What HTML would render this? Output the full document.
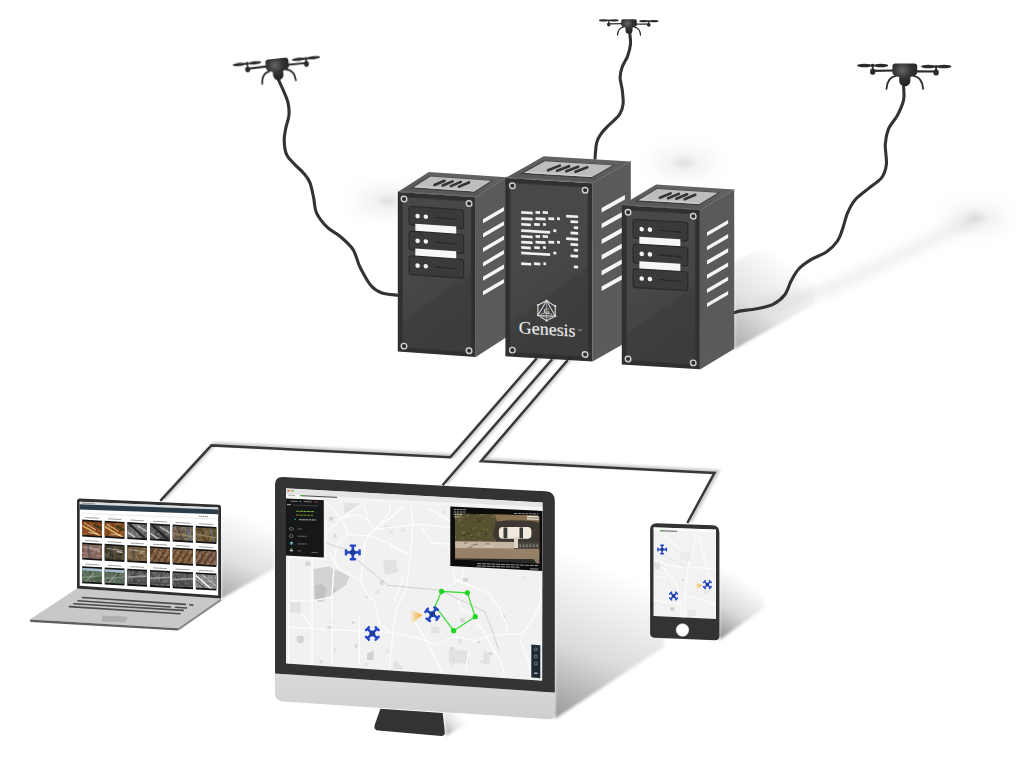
<!DOCTYPE html>
<html><head><meta charset="utf-8"><title>Genesis</title>
<style>
html,body{margin:0;padding:0;background:#fff;width:1024px;height:768px;overflow:hidden;font-family:"Liberation Sans",sans-serif;}
svg{display:block;}
</style></head><body>
<svg width="1024" height="768" viewBox="0 0 1024 768">
<defs>
 <linearGradient id="gTop" x1="0" y1="1" x2="0.3" y2="0"><stop offset="0" stop-color="#545454"/><stop offset="1" stop-color="#626262"/></linearGradient>
 <linearGradient id="gSide" x1="0" y1="0" x2="0" y2="1"><stop offset="0" stop-color="#5a5a5a"/><stop offset="1" stop-color="#5c5a5a"/></linearGradient>
 <linearGradient id="gFront" x1="0" y1="0" x2="1" y2="1"><stop offset="0" stop-color="#474747"/><stop offset="0.5" stop-color="#444"/><stop offset="0.5" stop-color="#404040"/><stop offset="1" stop-color="#3e3e3e"/></linearGradient>
 <radialGradient id="gDrone" cx="0.4" cy="0.3" r="0.7"><stop offset="0" stop-color="#666"/><stop offset="0.5" stop-color="#333"/><stop offset="1" stop-color="#222"/></radialGradient>
 <filter id="blur6" x="-50%" y="-50%" width="200%" height="200%"><feGaussianBlur stdDeviation="6"/></filter>
 <filter id="blur2" x="-50%" y="-50%" width="200%" height="200%"><feGaussianBlur stdDeviation="1.5"/></filter>
 <filter id="blur3" x="-50%" y="-50%" width="200%" height="200%"><feGaussianBlur stdDeviation="3"/></filter>
 <filter id="blur10" x="-50%" y="-50%" width="200%" height="200%"><feGaussianBlur stdDeviation="10"/></filter>

<symbol id="qicon" overflow="visible">
 <g fill="#2347c8">
  <rect x="-1.3" y="-6.5" width="2.6" height="13"/>
  <rect x="-6.5" y="-1.3" width="13" height="2.6"/>
  <rect x="-3.2" y="-8" width="6.4" height="2.4" rx="0.8"/>
  <rect x="-3.2" y="5.6" width="6.4" height="2.4" rx="0.8"/>
  <rect x="-8" y="-3.2" width="2.4" height="6.4" rx="0.8"/>
  <rect x="5.6" y="-3.2" width="2.4" height="6.4" rx="0.8"/>
  <circle r="2.8" fill="#1d3c9a"/>
 </g>
</symbol>
<symbol id="drone" overflow="visible">
 <g fill="#2b2b2b">
  <ellipse cx="-40.3" cy="2" rx="7.4" ry="1.75"/>
  <ellipse cx="-23.8" cy="2" rx="7.2" ry="1.75"/>
  <ellipse cx="23.5" cy="3.1" rx="7.2" ry="1.75"/>
  <ellipse cx="39.3" cy="3.1" rx="7.4" ry="1.75"/>
  <ellipse cx="-32.1" cy="2" rx="1.9" ry="1.6"/>
  <ellipse cx="31.3" cy="3.1" rx="1.9" ry="1.6"/>
  <rect x="-33" y="2" width="1.8" height="6"/>
  <rect x="30.4" y="3" width="1.8" height="6"/>
  <path d="M-32.5,6.4 L-11,6 L-11,8.2 L-32.5,8.6Z"/>
  <path d="M11,6.8 L31.5,7 L31.5,9 L11,9Z"/>
  <rect x="-34.7" y="5.4" width="5.2" height="6" rx="2.2"/>
  <rect x="28.7" y="6" width="5.2" height="6" rx="2.2"/>
  <path d="M-9,12.5 Q-17.5,14 -18.3,25.3" fill="none" stroke="#2b2b2b" stroke-width="1.9" stroke-linecap="round"/>
  <path d="M9,12.5 Q17.5,14 18.3,25.3" fill="none" stroke="#2b2b2b" stroke-width="1.9" stroke-linecap="round"/>
  <path d="M-12.4,3 Q-12.4,0 -9.4,0 L9.4,0 Q12.4,0 12.4,3 L12.4,8.5 C12.4,12 8,13 5.6,13.6 L5.6,17.5 A5.6,5.6 0 0 1 -5.6,17.5 L-5.6,13.6 C-8,13 -12.4,12 -12.4,8.5 Z" fill="url(#gDrone)"/>
 </g>
</symbol>
</defs>
<rect width="1024" height="768" fill="#fff"/>

<defs><linearGradient id="gSh" x1="0" y1="0" x2="1" y2="0"><stop offset="0" stop-color="#000" stop-opacity="0.22"/><stop offset="1" stop-color="#000" stop-opacity="0"/></linearGradient><linearGradient id="gShV" x1="0" y1="1" x2="0.6" y2="0"><stop offset="0" stop-color="#000" stop-opacity="0.25"/><stop offset="0.6" stop-color="#000" stop-opacity="0.06"/><stop offset="1" stop-color="#000" stop-opacity="0"/></linearGradient></defs>
<g filter="url(#blur10)">
<ellipse cx="386" cy="201" rx="30" ry="9" fill="#000" opacity="0.09"/>
<ellipse cx="684" cy="163" rx="30" ry="9" fill="#000" opacity="0.09"/>
<ellipse cx="976" cy="218" rx="30" ry="9" fill="#000" opacity="0.09"/>
</g>
<g filter="url(#blur3)">
<ellipse cx="388" cy="201" rx="9" ry="4" fill="#000" opacity="0.08"/>
<ellipse cx="684" cy="163" rx="9" ry="4" fill="#000" opacity="0.08"/>
<ellipse cx="976" cy="218" rx="9" ry="4" fill="#000" opacity="0.08"/>
</g>
<g filter="url(#blur6)" opacity="0.35">
<path d="M760,305 C800,300 830,290 860,275 C900,255 940,235 975,220" fill="none" stroke="#999" stroke-width="5"/>
</g>
<defs><linearGradient id="sg15" gradientUnits="userSpaceOnUse" x1="734" y1="345" x2="795" y2="265"><stop offset="0" stop-color="#000" stop-opacity="0.32"/><stop offset="0.45" stop-color="#000" stop-opacity="0.11"/><stop offset="1" stop-color="#000" stop-opacity="0"/></linearGradient></defs>
<polygon points="734.5,262 734.5,349 815,304 815,220" fill="url(#sg15)" filter="url(#blur2)"/>
<defs><linearGradient id="sg17" gradientUnits="userSpaceOnUse" x1="554" y1="717" x2="615" y2="570"><stop offset="0" stop-color="#000" stop-opacity="0.4"/><stop offset="0.45" stop-color="#000" stop-opacity="0.14"/><stop offset="1" stop-color="#000" stop-opacity="0"/></linearGradient></defs>
<polygon points="554.8,520 554.8,719 664,647 664,450" fill="url(#sg17)" filter="url(#blur2)"/>
<defs><linearGradient id="sg19" gradientUnits="userSpaceOnUse" x1="719" y1="637" x2="752" y2="585"><stop offset="0" stop-color="#000" stop-opacity="0.42"/><stop offset="0.45" stop-color="#000" stop-opacity="0.15"/><stop offset="1" stop-color="#000" stop-opacity="0"/></linearGradient></defs>
<polygon points="719.4,570 719.4,640 764,608 764,540" fill="url(#sg19)" filter="url(#blur2)"/>
<defs><linearGradient id="sg21" gradientUnits="userSpaceOnUse" x1="221" y1="598" x2="252" y2="518"><stop offset="0" stop-color="#000" stop-opacity="0.34"/><stop offset="0.45" stop-color="#000" stop-opacity="0.12"/><stop offset="1" stop-color="#000" stop-opacity="0"/></linearGradient></defs>
<polygon points="221,500 221,599 275,568 275,470" fill="url(#sg21)" filter="url(#blur2)"/>
<path d="M278.4,79.7 C279.23,81.52 281.78,86.7 283.4,90.6 C285.02,94.5 287.18,98.93 288.1,103.1 C289.02,107.27 289.28,111.43 288.9,115.6 C288.52,119.77 286.58,123.93 285.8,128.1 C285.02,132.27 284.07,136.17 284.2,140.6 C284.33,145.03 284.9,150.78 286.6,154.7 C288.3,158.62 291.53,160.98 294.4,164.1 C297.27,167.22 301.2,170.28 303.8,173.4 C306.4,176.52 308.35,178.67 310,182.8 C311.65,186.93 312.62,193.2 313.7,198.2 C314.78,203.2 314.22,207.93 316.5,212.8 C318.78,217.67 323.45,223.45 327.4,227.4 C331.35,231.35 335.95,232.85 340.2,236.5 C344.45,240.15 349.57,244.13 352.9,249.3 C356.23,254.47 357.17,261.43 360.2,267.5 C363.23,273.57 367.47,281.45 371.1,285.7 C374.73,289.95 377.58,291.42 382,293 C386.42,294.58 395,294.83 397.6,295.2" fill="none" stroke="#333" stroke-width="3.1" stroke-linecap="round" stroke-linejoin="round"/>
<path d="M629.8,33.5 C629.92,35.27 630.88,40.28 630.5,44.1 C630.12,47.92 628.88,52.6 627.5,56.4 C626.12,60.2 623.43,63.38 622.2,66.9 C620.97,70.42 620.1,73.68 620.1,77.5 C620.1,81.32 621.7,85.4 622.2,89.8 C622.7,94.2 623.53,99.8 623.1,103.9 C622.67,108 621.95,110.88 619.6,114.4 C617.25,117.92 612.08,121.77 609,125 C605.92,128.23 603.15,130.87 601.1,133.8 C599.05,136.73 597.72,138.5 596.7,142.6 C595.68,146.7 595.28,155.77 595,158.4" fill="none" stroke="#333" stroke-width="3.1" stroke-linecap="round" stroke-linejoin="round"/>
<path d="M903.6,86.6 C903.6,88.82 904.63,95.1 903.6,99.9 C902.57,104.7 899.9,110.6 897.4,115.4 C894.9,120.2 890.62,123.9 888.6,128.7 C886.58,133.5 885.67,138.3 885.3,144.2 C884.93,150.1 886.97,158.58 886.4,164.1 C885.83,169.62 884.85,173.25 881.9,177.3 C878.95,181.35 873.12,184.7 868.7,188.4 C864.28,192.1 858.9,195.45 855.4,199.5 C851.9,203.55 849.92,207.55 847.7,212.7 C845.48,217.85 843.82,225.67 842.1,230.4 C840.38,235.13 839.97,237.53 837.4,241.1 C834.83,244.67 831.17,248.67 826.7,251.8 C822.23,254.93 815.27,257.03 810.6,259.9 C805.93,262.77 801.93,265.52 798.7,269 C795.47,272.48 793.52,276.5 791.2,280.8 C788.88,285.1 787.83,290.87 784.8,294.8 C781.77,298.73 777.65,302.08 773,304.4 C768.35,306.72 762.28,307.62 756.9,308.7 C751.52,309.78 744.38,310.27 740.7,310.9 C737.02,311.53 735.78,312.23 734.8,312.5" fill="none" stroke="#333" stroke-width="3.1" stroke-linecap="round" stroke-linejoin="round"/>
<polygon points="397.8,191.9 475.7,197.3 506.7,177.3 428.8,171.9" fill="url(#gTop)"/>
<polygon points="475.7,197.3 506.7,177.3 506.8,337 475.8,357" fill="url(#gSide)"/>
<polyline points="475.7,197.3 506.7,177.3" fill="none" stroke="#6a6a6a" stroke-width="0.8"/>
<polyline points="398.3,191.3 475.7,196.7" fill="none" stroke="#6c6c6c" stroke-width="1"/>
<g transform="matrix(1,0.07,31,-20,397.8,191.9)">
<polygon points="6.23,0.2 70.11,0.2 70.11,0.82 6.23,0.82" fill="#3e3e3e"/>
<polygon points="7.79,0.26 68.55,0.26 68.55,0.8 7.79,0.8" fill="#bdbdbd"/>
<polygon points="7.79,0.26 68.55,0.26 66.99,0.31 9.35,0.31" fill="#d0d0d0"/>
<line x1="23.37" y1="0.43" x2="26.49" y2="0.65" stroke="#333" stroke-width="2.6" vector-effect="non-scaling-stroke" stroke-linecap="round"/>
<line x1="31.55" y1="0.43" x2="34.67" y2="0.65" stroke="#333" stroke-width="2.6" vector-effect="non-scaling-stroke" stroke-linecap="round"/>
<line x1="39.73" y1="0.43" x2="42.84" y2="0.65" stroke="#333" stroke-width="2.6" vector-effect="non-scaling-stroke" stroke-linecap="round"/>
<line x1="47.91" y1="0.43" x2="51.02" y2="0.65" stroke="#333" stroke-width="2.6" vector-effect="non-scaling-stroke" stroke-linecap="round"/>
</g>
<g transform="matrix(1,0.07,0,1,397.8,191.9)">
<rect x="0" y="0" width="77.9" height="159.7" fill="#303030"/>
<defs><linearGradient id="gFL" gradientUnits="userSpaceOnUse" x1="11.23" y1="73.06" x2="60.43" y2="136.14"><stop offset="0" stop-color="#484848"/><stop offset="0.5" stop-color="#444"/><stop offset="0.5" stop-color="#3f3f3f"/><stop offset="1" stop-color="#3c3c3c"/></linearGradient></defs>
<rect x="4.5" y="4.5" width="68.9" height="150.7" fill="url(#gFL)" stroke="#363636" stroke-width="0.8"/>
<circle cx="6.23" cy="6.71" r="2.75" fill="#2c2c2c" stroke="#cfcfcf" stroke-width="1.45"/>
<circle cx="71.28" cy="6.71" r="2.75" fill="#2c2c2c" stroke="#cfcfcf" stroke-width="1.45"/>
<circle cx="6.23" cy="153.79" r="2.75" fill="#2c2c2c" stroke="#cfcfcf" stroke-width="1.45"/>
<circle cx="71.28" cy="153.79" r="2.75" fill="#2c2c2c" stroke="#cfcfcf" stroke-width="1.45"/>
<rect x="11.3" y="13.41" width="54.53" height="18.84" rx="2.5" fill="#3a3a3a" stroke="#2a2a2a" stroke-width="1.2"/>
<circle cx="19.86" cy="22.84" r="2.3" fill="#f2f2f2"/>
<circle cx="28.04" cy="22.84" r="2.3" fill="#f2f2f2"/>
<line x1="37.39" y1="22.84" x2="59.59" y2="23.44" stroke="#262626" stroke-width="1.1"/>
<rect x="17.53" y="30.5" width="40.9" height="8.3" fill="#f6f6f6"/>
<rect x="11.3" y="38.17" width="54.53" height="18.84" rx="2.5" fill="#3a3a3a" stroke="#2a2a2a" stroke-width="1.2"/>
<circle cx="19.86" cy="47.59" r="2.3" fill="#f2f2f2"/>
<circle cx="28.04" cy="47.59" r="2.3" fill="#f2f2f2"/>
<line x1="37.39" y1="47.59" x2="59.59" y2="48.19" stroke="#262626" stroke-width="1.1"/>
<rect x="17.53" y="55.26" width="40.9" height="8.3" fill="#f6f6f6"/>
<rect x="11.3" y="62.92" width="54.53" height="18.84" rx="2.5" fill="#3a3a3a" stroke="#2a2a2a" stroke-width="1.2"/>
<circle cx="19.86" cy="72.34" r="2.3" fill="#f2f2f2"/>
<circle cx="28.04" cy="72.34" r="2.3" fill="#f2f2f2"/>
<line x1="37.39" y1="72.34" x2="59.59" y2="72.94" stroke="#262626" stroke-width="1.1"/>
</g>
<polygon points="483,219.2 503.95,206.9 503.95,210.9 483,223.2" fill="#f6f6f6"/>
<polygon points="483,233.6 503.95,221.3 503.95,225.3 483,237.6" fill="#f6f6f6"/>
<polygon points="483,248 503.95,235.7 503.95,239.7 483,252" fill="#f6f6f6"/>
<polygon points="483,262.4 503.95,250.1 503.95,254.1 483,266.4" fill="#f6f6f6"/>
<polygon points="483,276.8 503.95,264.5 503.95,268.5 483,280.8" fill="#f6f6f6"/>
<polygon points="483,291.2 503.95,278.9 503.95,282.9 483,295.2" fill="#f6f6f6"/>
<polygon points="505.4,177.9 592.5,183 630.8,161.4 543.7,156.3" fill="url(#gTop)"/>
<polygon points="592.5,183 630.8,161.4 630.9,339.8 592.6,361.4" fill="url(#gSide)"/>
<polyline points="592.5,183 630.8,161.4" fill="none" stroke="#6a6a6a" stroke-width="0.8"/>
<polyline points="505.9,177.3 592.5,182.4" fill="none" stroke="#6c6c6c" stroke-width="1"/>
<g transform="matrix(1,0.06,38.3,-21.6,505.4,177.9)">
<polygon points="6.97,0.2 78.39,0.2 78.39,0.82 6.97,0.82" fill="#3e3e3e"/>
<polygon points="8.71,0.26 76.65,0.26 76.65,0.8 8.71,0.8" fill="#bdbdbd"/>
<polygon points="8.71,0.26 76.65,0.26 74.91,0.31 10.45,0.31" fill="#d0d0d0"/>
<line x1="26.13" y1="0.43" x2="29.61" y2="0.65" stroke="#333" stroke-width="2.6" vector-effect="non-scaling-stroke" stroke-linecap="round"/>
<line x1="35.28" y1="0.43" x2="38.76" y2="0.65" stroke="#333" stroke-width="2.6" vector-effect="non-scaling-stroke" stroke-linecap="round"/>
<line x1="44.42" y1="0.43" x2="47.91" y2="0.65" stroke="#333" stroke-width="2.6" vector-effect="non-scaling-stroke" stroke-linecap="round"/>
<line x1="53.57" y1="0.43" x2="57.05" y2="0.65" stroke="#333" stroke-width="2.6" vector-effect="non-scaling-stroke" stroke-linecap="round"/>
</g>
<g transform="matrix(1,0.06,0,1,505.4,177.9)">
<rect x="0" y="0" width="87.1" height="178.4" fill="#303030"/>
<defs><linearGradient id="gFC" gradientUnits="userSpaceOnUse" x1="15.48" y1="85.3" x2="64.65" y2="148.4"><stop offset="0" stop-color="#484848"/><stop offset="0.5" stop-color="#444"/><stop offset="0.5" stop-color="#3f3f3f"/><stop offset="1" stop-color="#3c3c3c"/></linearGradient></defs>
<rect x="4.5" y="4.5" width="78.1" height="169.4" fill="url(#gFC)" stroke="#363636" stroke-width="0.8"/>
<circle cx="6.97" cy="7.49" r="2.75" fill="#2c2c2c" stroke="#cfcfcf" stroke-width="1.45"/>
<circle cx="79.7" cy="7.49" r="2.75" fill="#2c2c2c" stroke="#cfcfcf" stroke-width="1.45"/>
<circle cx="6.97" cy="171.8" r="2.75" fill="#2c2c2c" stroke="#cfcfcf" stroke-width="1.45"/>
<circle cx="79.7" cy="171.8" r="2.75" fill="#2c2c2c" stroke="#cfcfcf" stroke-width="1.45"/>
<rect x="15.8" y="32.17" width="11.5" height="2.7" fill="#f0f0f0"/>
<rect x="30.1" y="31.34" width="4.6" height="2.7" fill="#f0f0f0"/>
<rect x="37.3" y="30.92" width="5.3" height="2.7" fill="#f0f0f0"/>
<rect x="15.8" y="38.37" width="11.5" height="2.7" fill="#f0f0f0"/>
<rect x="30.1" y="37.54" width="10.1" height="2.7" fill="#f0f0f0"/>
<rect x="43" y="36.78" width="5.8" height="2.7" fill="#f0f0f0"/>
<rect x="51.6" y="36.28" width="2.9" height="2.7" fill="#f0f0f0"/>
<rect x="15.8" y="44.07" width="9.6" height="2.7" fill="#f0f0f0"/>
<rect x="28.7" y="43.32" width="5.7" height="2.7" fill="#f0f0f0"/>
<rect x="37.6" y="42.8" width="2.9" height="2.7" fill="#f0f0f0"/>
<rect x="15.8" y="50.37" width="28.9" height="2.7" fill="#f0f0f0"/>
<rect x="47.9" y="48.5" width="3" height="2.7" fill="#f0f0f0"/>
<rect x="15.8" y="56.17" width="11.5" height="2.7" fill="#f0f0f0"/>
<rect x="30.1" y="55.34" width="4.6" height="2.7" fill="#f0f0f0"/>
<rect x="37.3" y="54.92" width="5.3" height="2.7" fill="#f0f0f0"/>
<rect x="15.8" y="61.87" width="11.5" height="2.7" fill="#f0f0f0"/>
<rect x="30.1" y="61.04" width="10.1" height="2.7" fill="#f0f0f0"/>
<rect x="43" y="60.28" width="5.8" height="2.7" fill="#f0f0f0"/>
<rect x="51.6" y="59.78" width="2.9" height="2.7" fill="#f0f0f0"/>
<rect x="15.8" y="67.27" width="9.6" height="2.7" fill="#f0f0f0"/>
<rect x="28.7" y="66.52" width="5.7" height="2.7" fill="#f0f0f0"/>
<rect x="37.6" y="66" width="2.9" height="2.7" fill="#f0f0f0"/>
<rect x="15.8" y="72.77" width="28.9" height="2.7" fill="#f0f0f0"/>
<rect x="47.9" y="70.9" width="3" height="2.7" fill="#f0f0f0"/>
<rect x="15.8" y="83.47" width="10" height="2.7" fill="#f0f0f0"/>
<rect x="28.6" y="82.73" width="6.3" height="2.7" fill="#f0f0f0"/>
<rect x="38" y="82.17" width="2.7" height="2.7" fill="#f0f0f0"/>
<rect x="60.8" y="33.14" width="11.9" height="2.7" fill="#f0f0f0"/>
<rect x="65.1" y="38.39" width="7.6" height="2.7" fill="#f0f0f0"/>
<rect x="68.4" y="44.19" width="4.3" height="2.7" fill="#f0f0f0"/>
<rect x="65.1" y="49.79" width="7.6" height="2.7" fill="#f0f0f0"/>
<rect x="60.8" y="55.74" width="11.9" height="2.7" fill="#f0f0f0"/>
<rect x="65.1" y="61.29" width="7.6" height="2.7" fill="#f0f0f0"/>
<rect x="68.4" y="66.79" width="4.3" height="2.7" fill="#f0f0f0"/>
<rect x="65.1" y="72.69" width="7.6" height="2.7" fill="#f0f0f0"/>
<rect x="68.4" y="83.59" width="4.3" height="2.7" fill="#f0f0f0"/>
<polygon points="41.2,120.3 49.86,125.3 49.86,135.3 41.2,140.3 32.54,135.3 32.54,125.3" fill="none" stroke="#d8d8d8" stroke-width="1.1"/>
<polygon points="41.2,120.3 49.86,135.3 32.54,135.3" fill="none" stroke="#d8d8d8" stroke-width="1"/>
<ellipse cx="41.2" cy="134.8" rx="6" ry="2" fill="none" stroke="#d8d8d8" stroke-width="0.7"/>
<polyline points="41.2,120.3 41.2,140.3" fill="none" stroke="#d8d8d8" stroke-width="0.6"/>
<circle cx="41.2" cy="120.3" r="1.1" fill="#d8d8d8"/>
<circle cx="49.86" cy="125.3" r="1.1" fill="#d8d8d8"/>
<circle cx="49.86" cy="135.3" r="1.1" fill="#d8d8d8"/>
<circle cx="41.2" cy="140.3" r="1.1" fill="#d8d8d8"/>
<circle cx="32.54" cy="135.3" r="1.1" fill="#d8d8d8"/>
<circle cx="32.54" cy="125.3" r="1.1" fill="#d8d8d8"/>
<text x="41.2" y="133.3" font-family="Liberation Serif" font-size="8" font-weight="bold" fill="#d8d8d8" text-anchor="middle">G</text>
<text x="13.4" y="154.6" font-family="Liberation Serif" font-size="17.6" fill="#ececec" stroke="#ececec" stroke-width="0.15" textLength="56.8" lengthAdjust="spacingAndGlyphs">Genesis</text>
<text x="72" y="149" font-family="Liberation Sans" font-size="3" fill="#cccccc">TM</text>
</g>
<polygon points="601.6,208 624.9,194.9 624.9,199.5 601.6,212.6" fill="#f6f6f6"/>
<polygon points="601.6,223.7 624.9,210.6 624.9,215.2 601.6,228.3" fill="#f6f6f6"/>
<polygon points="601.6,239.4 624.9,226.3 624.9,230.9 601.6,244" fill="#f6f6f6"/>
<polygon points="601.6,255.1 624.9,242 624.9,246.6 601.6,259.7" fill="#f6f6f6"/>
<polygon points="601.6,270.8 624.9,257.7 624.9,262.3 601.6,275.4" fill="#f6f6f6"/>
<polygon points="601.6,286.5 624.9,273.4 624.9,278 601.6,291.1" fill="#f6f6f6"/>
<polygon points="621.8,205.2 699.9,210.2 734.2,189.5 656.1,184.5" fill="url(#gTop)"/>
<polygon points="699.9,210.2 734.2,189.5 734.3,348.8 700,369.5" fill="url(#gSide)"/>
<polyline points="699.9,210.2 734.2,189.5" fill="none" stroke="#6a6a6a" stroke-width="0.8"/>
<polyline points="622.3,204.6 699.9,209.6" fill="none" stroke="#6c6c6c" stroke-width="1"/>
<g transform="matrix(1,0.06,34.3,-20.7,621.8,205.2)">
<polygon points="6.25,0.2 70.29,0.2 70.29,0.82 6.25,0.82" fill="#3e3e3e"/>
<polygon points="7.81,0.26 68.73,0.26 68.73,0.8 7.81,0.8" fill="#bdbdbd"/>
<polygon points="7.81,0.26 68.73,0.26 67.17,0.31 9.37,0.31" fill="#d0d0d0"/>
<line x1="23.43" y1="0.43" x2="26.55" y2="0.65" stroke="#333" stroke-width="2.6" vector-effect="non-scaling-stroke" stroke-linecap="round"/>
<line x1="31.63" y1="0.43" x2="34.75" y2="0.65" stroke="#333" stroke-width="2.6" vector-effect="non-scaling-stroke" stroke-linecap="round"/>
<line x1="39.83" y1="0.43" x2="42.96" y2="0.65" stroke="#333" stroke-width="2.6" vector-effect="non-scaling-stroke" stroke-linecap="round"/>
<line x1="48.03" y1="0.43" x2="51.16" y2="0.65" stroke="#333" stroke-width="2.6" vector-effect="non-scaling-stroke" stroke-linecap="round"/>
</g>
<g transform="matrix(1,0.06,0,1,621.8,205.2)">
<rect x="0" y="0" width="78.1" height="159.3" fill="#303030"/>
<defs><linearGradient id="gFR" gradientUnits="userSpaceOnUse" x1="11.4" y1="72.74" x2="60.45" y2="135.94"><stop offset="0" stop-color="#484848"/><stop offset="0.5" stop-color="#444"/><stop offset="0.5" stop-color="#3f3f3f"/><stop offset="1" stop-color="#3c3c3c"/></linearGradient></defs>
<rect x="4.5" y="4.5" width="69.1" height="150.3" fill="url(#gFR)" stroke="#363636" stroke-width="0.8"/>
<circle cx="6.25" cy="6.69" r="2.75" fill="#2c2c2c" stroke="#cfcfcf" stroke-width="1.45"/>
<circle cx="71.46" cy="6.69" r="2.75" fill="#2c2c2c" stroke="#cfcfcf" stroke-width="1.45"/>
<circle cx="6.25" cy="153.41" r="2.75" fill="#2c2c2c" stroke="#cfcfcf" stroke-width="1.45"/>
<circle cx="71.46" cy="153.41" r="2.75" fill="#2c2c2c" stroke="#cfcfcf" stroke-width="1.45"/>
<rect x="11.32" y="13.38" width="54.67" height="18.8" rx="2.5" fill="#3a3a3a" stroke="#2a2a2a" stroke-width="1.2"/>
<circle cx="19.92" cy="22.78" r="2.3" fill="#f2f2f2"/>
<circle cx="28.12" cy="22.78" r="2.3" fill="#f2f2f2"/>
<line x1="37.49" y1="22.78" x2="59.75" y2="23.38" stroke="#262626" stroke-width="1.1"/>
<rect x="17.57" y="30.43" width="41" height="8.28" fill="#f6f6f6"/>
<rect x="11.32" y="38.07" width="54.67" height="18.8" rx="2.5" fill="#3a3a3a" stroke="#2a2a2a" stroke-width="1.2"/>
<circle cx="19.92" cy="47.47" r="2.3" fill="#f2f2f2"/>
<circle cx="28.12" cy="47.47" r="2.3" fill="#f2f2f2"/>
<line x1="37.49" y1="47.47" x2="59.75" y2="48.07" stroke="#262626" stroke-width="1.1"/>
<rect x="17.57" y="55.12" width="41" height="8.28" fill="#f6f6f6"/>
<rect x="11.32" y="62.76" width="54.67" height="18.8" rx="2.5" fill="#3a3a3a" stroke="#2a2a2a" stroke-width="1.2"/>
<circle cx="19.92" cy="72.16" r="2.3" fill="#f2f2f2"/>
<circle cx="28.12" cy="72.16" r="2.3" fill="#f2f2f2"/>
<line x1="37.49" y1="72.16" x2="59.75" y2="72.76" stroke="#262626" stroke-width="1.1"/>
</g>
<polygon points="707,232.2 728.1,219.9 728.1,223.8 707,236.1" fill="#f6f6f6"/>
<polygon points="707,246.4 728.1,234.1 728.1,238 707,250.3" fill="#f6f6f6"/>
<polygon points="707,260.6 728.1,248.3 728.1,252.2 707,264.5" fill="#f6f6f6"/>
<polygon points="707,274.8 728.1,262.5 728.1,266.4 707,278.7" fill="#f6f6f6"/>
<polygon points="707,289 728.1,276.7 728.1,280.6 707,292.9" fill="#f6f6f6"/>
<polygon points="707,303.2 728.1,290.9 728.1,294.8 707,307.1" fill="#f6f6f6"/>
<polyline points="536.7,358.3 450.3,457.3 211.4,445.4 160.3,500.8" fill="none" stroke="#000" stroke-opacity="0.26" stroke-width="3.2" transform="translate(3,-1.4)" stroke-linejoin="miter" filter="url(#blur2)"/>
<polyline points="536.7,358.3 450.3,457.3 211.4,445.4 160.3,500.8" fill="none" stroke="#383838" stroke-width="2.5" stroke-linejoin="miter"/>
<polyline points="552.2,359.2 442.5,485.2" fill="none" stroke="#000" stroke-opacity="0.26" stroke-width="3.2" transform="translate(3,-1.4)" stroke-linejoin="miter" filter="url(#blur2)"/>
<polyline points="552.2,359.2 442.5,485.2" fill="none" stroke="#383838" stroke-width="2.5" stroke-linejoin="miter"/>
<polyline points="567.7,360.1 481,461.25 714.5,472.9 687.3,523" fill="none" stroke="#000" stroke-opacity="0.26" stroke-width="3.2" transform="translate(3,-1.4)" stroke-linejoin="miter" filter="url(#blur2)"/>
<polyline points="567.7,360.1 481,461.25 714.5,472.9 687.3,523" fill="none" stroke="#383838" stroke-width="2.5" stroke-linejoin="miter"/>
<polygon points="77,588.5 220.9,598.5 177.9,628.3 29.7,619.6" fill="#c8c8c8"/>
<polygon points="29.7,619.6 177.9,628.3 178.5,630.6 30.5,621.9" fill="#5e5e5e"/>
<polygon points="220.9,598.5 221.5,600.8 178.5,630.6 177.9,628.3" fill="#8a8a8a"/>
<line x1="82.3" y1="597.5" x2="185.4" y2="604.4" stroke="#4c4c4c" stroke-width="1.6" stroke-linecap="round"/>
<line x1="78" y1="600.7" x2="170.4" y2="607" stroke="#4c4c4c" stroke-width="1.6" stroke-linecap="round"/>
<line x1="73.7" y1="603.7" x2="183.3" y2="610.4" stroke="#4c4c4c" stroke-width="1.6" stroke-linecap="round"/>
<line x1="69.4" y1="606.6" x2="180" y2="613.8" stroke="#4c4c4c" stroke-width="1.6" stroke-linecap="round"/>
<line x1="175.5" y1="607.3" x2="186.5" y2="608" stroke="#4c4c4c" stroke-width="1.6" stroke-linecap="round"/>
<line x1="189.7" y1="604.8" x2="192.8" y2="605.1" stroke="#4c4c4c" stroke-width="1.6" stroke-linecap="round"/>
<polygon points="102.7,615.8 127.4,616.6 125.3,622.2 101.6,621.5" fill="#afafaf"/>
<path d="M77,501 Q77,498.4 79.6,498.5 L218.4,504.7 Q221,504.8 221,507.5 L221,598.5 L77,588.5 Z" fill="#2f2f2f"/>
<polygon points="79.7,501.7 218.2,507.4 218.2,595.4 79.7,585.8" fill="#ffffff"/>
<polygon points="79.7,501.7 218.2,507.4 218.2,509.6 79.7,504.2" fill="#d8dcde"/>
<polygon points="79.7,504.2 218.2,509.6 218.2,514.2 79.7,509.6" fill="#2b3b47"/>
<line x1="82" y1="513.2" x2="216" y2="518.9" stroke="#e4e4e4" stroke-width="0.8"/>
<line x1="199" y1="516.3" x2="208" y2="516.7" stroke="#666" stroke-width="0.8" stroke-dasharray="1.5,0.5"/>
<line x1="82" y1="503.2" x2="95" y2="503.8" stroke="#777" stroke-width="0.7"/>
<polygon points="82.2,519.6 102,520.68 102,537.68 82.2,536.6" fill="#141414"/>
<polygon points="82.2,521.3 102,522.38 102,535.88 82.2,534.8" fill="#8c4c26"/>
<line x1="85.2" y1="517.56" x2="99" y2="518.32" stroke="#777" stroke-width="0.7"/>
<defs><clipPath id="tc00"><polygon points="82.2,521.3 102,522.38 102,535.88 82.2,534.8"/></clipPath></defs>
<g clip-path="url(#tc00)">
<rect x="82.2" y="521.3" width="1.7" height="1.98" fill="#82421c"/>
<rect x="83.85" y="521.39" width="1.7" height="1.98" fill="#793913"/>
<rect x="85.5" y="521.48" width="1.7" height="1.98" fill="#93532d"/>
<rect x="87.15" y="521.57" width="1.7" height="1.98" fill="#75350f"/>
<rect x="88.8" y="521.66" width="1.7" height="1.98" fill="#8d4d27"/>
<rect x="90.45" y="521.75" width="1.7" height="1.98" fill="#85451f"/>
<rect x="92.1" y="521.84" width="1.7" height="1.98" fill="#75350f"/>
<rect x="93.75" y="521.93" width="1.7" height="1.98" fill="#8c4c26"/>
<rect x="95.4" y="522.02" width="1.7" height="1.98" fill="#73330d"/>
<rect x="97.05" y="522.11" width="1.7" height="1.98" fill="#884822"/>
<rect x="98.7" y="522.2" width="1.7" height="1.98" fill="#75350f"/>
<rect x="100.35" y="522.29" width="1.7" height="1.98" fill="#763610"/>
<rect x="82.2" y="523.23" width="1.7" height="1.98" fill="#884822"/>
<rect x="83.85" y="523.32" width="1.7" height="1.98" fill="#9c5c36"/>
<rect x="85.5" y="523.41" width="1.7" height="1.98" fill="#783812"/>
<rect x="87.15" y="523.5" width="1.7" height="1.98" fill="#7d3d17"/>
<rect x="88.8" y="523.59" width="1.7" height="1.98" fill="#92522c"/>
<rect x="90.45" y="523.68" width="1.7" height="1.98" fill="#a3633d"/>
<rect x="92.1" y="523.77" width="1.7" height="1.98" fill="#90502a"/>
<rect x="93.75" y="523.86" width="1.7" height="1.98" fill="#864620"/>
<rect x="95.4" y="523.95" width="1.7" height="1.98" fill="#a4643e"/>
<rect x="97.05" y="524.04" width="1.7" height="1.98" fill="#74340e"/>
<rect x="98.7" y="524.13" width="1.7" height="1.98" fill="#9e5e38"/>
<rect x="100.35" y="524.22" width="1.7" height="1.98" fill="#81411b"/>
<rect x="82.2" y="525.16" width="1.7" height="1.98" fill="#793913"/>
<rect x="83.85" y="525.25" width="1.7" height="1.98" fill="#783812"/>
<rect x="85.5" y="525.34" width="1.7" height="1.98" fill="#82421c"/>
<rect x="87.15" y="525.43" width="1.7" height="1.98" fill="#9c5c36"/>
<rect x="88.8" y="525.52" width="1.7" height="1.98" fill="#7b3b15"/>
<rect x="90.45" y="525.61" width="1.7" height="1.98" fill="#90502a"/>
<rect x="92.1" y="525.7" width="1.7" height="1.98" fill="#93532d"/>
<rect x="93.75" y="525.79" width="1.7" height="1.98" fill="#85451f"/>
<rect x="95.4" y="525.88" width="1.7" height="1.98" fill="#8e4e28"/>
<rect x="97.05" y="525.97" width="1.7" height="1.98" fill="#75350f"/>
<rect x="98.7" y="526.06" width="1.7" height="1.98" fill="#75350f"/>
<rect x="100.35" y="526.15" width="1.7" height="1.98" fill="#7c3c16"/>
<rect x="82.2" y="527.09" width="1.7" height="1.98" fill="#95552f"/>
<rect x="83.85" y="527.18" width="1.7" height="1.98" fill="#884822"/>
<rect x="85.5" y="527.27" width="1.7" height="1.98" fill="#82421c"/>
<rect x="87.15" y="527.36" width="1.7" height="1.98" fill="#90502a"/>
<rect x="88.8" y="527.45" width="1.7" height="1.98" fill="#894923"/>
<rect x="90.45" y="527.54" width="1.7" height="1.98" fill="#81411b"/>
<rect x="92.1" y="527.63" width="1.7" height="1.98" fill="#9b5b35"/>
<rect x="93.75" y="527.72" width="1.7" height="1.98" fill="#965630"/>
<rect x="95.4" y="527.81" width="1.7" height="1.98" fill="#7e3e18"/>
<rect x="97.05" y="527.9" width="1.7" height="1.98" fill="#8f4f29"/>
<rect x="98.7" y="527.99" width="1.7" height="1.98" fill="#8d4d27"/>
<rect x="100.35" y="528.08" width="1.7" height="1.98" fill="#9f5f39"/>
<rect x="82.2" y="529.01" width="1.7" height="1.98" fill="#975731"/>
<rect x="83.85" y="529.1" width="1.7" height="1.98" fill="#80401a"/>
<rect x="85.5" y="529.19" width="1.7" height="1.98" fill="#a4643e"/>
<rect x="87.15" y="529.28" width="1.7" height="1.98" fill="#783812"/>
<rect x="88.8" y="529.37" width="1.7" height="1.98" fill="#874721"/>
<rect x="90.45" y="529.46" width="1.7" height="1.98" fill="#995933"/>
<rect x="92.1" y="529.55" width="1.7" height="1.98" fill="#793913"/>
<rect x="93.75" y="529.64" width="1.7" height="1.98" fill="#8b4b25"/>
<rect x="95.4" y="529.74" width="1.7" height="1.98" fill="#74340e"/>
<rect x="97.05" y="529.83" width="1.7" height="1.98" fill="#94542e"/>
<rect x="98.7" y="529.92" width="1.7" height="1.98" fill="#995933"/>
<rect x="100.35" y="530.01" width="1.7" height="1.98" fill="#8f4f29"/>
<rect x="82.2" y="530.94" width="1.7" height="1.98" fill="#9f5f39"/>
<rect x="83.85" y="531.03" width="1.7" height="1.98" fill="#82421c"/>
<rect x="85.5" y="531.12" width="1.7" height="1.98" fill="#965630"/>
<rect x="87.15" y="531.21" width="1.7" height="1.98" fill="#90502a"/>
<rect x="88.8" y="531.3" width="1.7" height="1.98" fill="#90502a"/>
<rect x="90.45" y="531.39" width="1.7" height="1.98" fill="#894923"/>
<rect x="92.1" y="531.48" width="1.7" height="1.98" fill="#9d5d37"/>
<rect x="93.75" y="531.57" width="1.7" height="1.98" fill="#a3633d"/>
<rect x="95.4" y="531.66" width="1.7" height="1.98" fill="#8a4a24"/>
<rect x="97.05" y="531.75" width="1.7" height="1.98" fill="#94542e"/>
<rect x="98.7" y="531.84" width="1.7" height="1.98" fill="#75350f"/>
<rect x="100.35" y="531.93" width="1.7" height="1.98" fill="#965630"/>
<rect x="82.2" y="532.87" width="1.7" height="1.98" fill="#93532d"/>
<rect x="83.85" y="532.96" width="1.7" height="1.98" fill="#a5653f"/>
<rect x="85.5" y="533.05" width="1.7" height="1.98" fill="#9c5c36"/>
<rect x="87.15" y="533.14" width="1.7" height="1.98" fill="#80401a"/>
<rect x="88.8" y="533.23" width="1.7" height="1.98" fill="#864620"/>
<rect x="90.45" y="533.32" width="1.7" height="1.98" fill="#94542e"/>
<rect x="92.1" y="533.41" width="1.7" height="1.98" fill="#73330d"/>
<rect x="93.75" y="533.5" width="1.7" height="1.98" fill="#8a4a24"/>
<rect x="95.4" y="533.59" width="1.7" height="1.98" fill="#7a3a14"/>
<rect x="97.05" y="533.68" width="1.7" height="1.98" fill="#783812"/>
<rect x="98.7" y="533.77" width="1.7" height="1.98" fill="#75350f"/>
<rect x="100.35" y="533.86" width="1.7" height="1.98" fill="#995933"/>
<line x1="82.2" y1="525.35" x2="100.02" y2="535.77" stroke="#e8c870" stroke-width="1.6" opacity="0.85"/>
<line x1="84.18" y1="522.76" x2="96.06" y2="530.16" stroke="#f0e0b0" stroke-width="1" opacity="0.85"/>
<line x1="94.08" y1="524.65" x2="102" y2="529.13" stroke="#2a3a20" stroke-width="2.5" opacity="0.85"/>
<line x1="88.14" y1="532.42" x2="98.04" y2="534.31" stroke="#f4f0e0" stroke-width="0.8" opacity="0.85"/>
</g>
<polygon points="104.7,520.83 124.4,521.9 124.4,538.9 104.7,537.83" fill="#141414"/>
<polygon points="104.7,522.53 124.4,523.6 124.4,537.1 104.7,536.03" fill="#8e5229"/>
<line x1="107.7" y1="518.79" x2="121.4" y2="519.54" stroke="#777" stroke-width="0.7"/>
<defs><clipPath id="tc01"><polygon points="104.7,522.53 124.4,523.6 124.4,537.1 104.7,536.03"/></clipPath></defs>
<g clip-path="url(#tc01)">
<rect x="104.7" y="522.53" width="1.69" height="1.98" fill="#7a3e15"/>
<rect x="106.34" y="522.62" width="1.69" height="1.98" fill="#80441b"/>
<rect x="107.98" y="522.71" width="1.69" height="1.98" fill="#884c23"/>
<rect x="109.62" y="522.8" width="1.69" height="1.98" fill="#a1653c"/>
<rect x="111.27" y="522.89" width="1.69" height="1.98" fill="#783c13"/>
<rect x="112.91" y="522.98" width="1.69" height="1.98" fill="#8b4f26"/>
<rect x="114.55" y="523.07" width="1.69" height="1.98" fill="#90542b"/>
<rect x="116.19" y="523.16" width="1.69" height="1.98" fill="#a1653c"/>
<rect x="117.83" y="523.25" width="1.69" height="1.98" fill="#9e6239"/>
<rect x="119.48" y="523.34" width="1.69" height="1.98" fill="#a0643b"/>
<rect x="121.12" y="523.42" width="1.69" height="1.98" fill="#82461d"/>
<rect x="122.76" y="523.51" width="1.69" height="1.98" fill="#894d24"/>
<rect x="104.7" y="524.46" width="1.69" height="1.98" fill="#864a21"/>
<rect x="106.34" y="524.55" width="1.69" height="1.98" fill="#a1653c"/>
<rect x="107.98" y="524.64" width="1.69" height="1.98" fill="#a56940"/>
<rect x="109.62" y="524.73" width="1.69" height="1.98" fill="#7b3f16"/>
<rect x="111.27" y="524.82" width="1.69" height="1.98" fill="#7d4118"/>
<rect x="112.91" y="524.91" width="1.69" height="1.98" fill="#80441b"/>
<rect x="114.55" y="524.99" width="1.69" height="1.98" fill="#80441b"/>
<rect x="116.19" y="525.08" width="1.69" height="1.98" fill="#8d5128"/>
<rect x="117.83" y="525.17" width="1.69" height="1.98" fill="#92562d"/>
<rect x="119.48" y="525.26" width="1.69" height="1.98" fill="#81451c"/>
<rect x="121.12" y="525.35" width="1.69" height="1.98" fill="#74380f"/>
<rect x="122.76" y="525.44" width="1.69" height="1.98" fill="#894d24"/>
<rect x="104.7" y="526.39" width="1.69" height="1.98" fill="#874b22"/>
<rect x="106.34" y="526.48" width="1.69" height="1.98" fill="#91552c"/>
<rect x="107.98" y="526.56" width="1.69" height="1.98" fill="#a56940"/>
<rect x="109.62" y="526.65" width="1.69" height="1.98" fill="#975b32"/>
<rect x="111.27" y="526.74" width="1.69" height="1.98" fill="#8e5229"/>
<rect x="112.91" y="526.83" width="1.69" height="1.98" fill="#94582f"/>
<rect x="114.55" y="526.92" width="1.69" height="1.98" fill="#975b32"/>
<rect x="116.19" y="527.01" width="1.69" height="1.98" fill="#763a11"/>
<rect x="117.83" y="527.1" width="1.69" height="1.98" fill="#a2663d"/>
<rect x="119.48" y="527.19" width="1.69" height="1.98" fill="#9c6037"/>
<rect x="121.12" y="527.28" width="1.69" height="1.98" fill="#a1653c"/>
<rect x="122.76" y="527.37" width="1.69" height="1.98" fill="#9d6138"/>
<rect x="104.7" y="528.31" width="1.69" height="1.98" fill="#884c23"/>
<rect x="106.34" y="528.4" width="1.69" height="1.98" fill="#884c23"/>
<rect x="107.98" y="528.49" width="1.69" height="1.98" fill="#793d14"/>
<rect x="109.62" y="528.58" width="1.69" height="1.98" fill="#94582f"/>
<rect x="111.27" y="528.67" width="1.69" height="1.98" fill="#773b12"/>
<rect x="112.91" y="528.76" width="1.69" height="1.98" fill="#773b12"/>
<rect x="114.55" y="528.85" width="1.69" height="1.98" fill="#7e4219"/>
<rect x="116.19" y="528.94" width="1.69" height="1.98" fill="#7c4017"/>
<rect x="117.83" y="529.03" width="1.69" height="1.98" fill="#854920"/>
<rect x="119.48" y="529.12" width="1.69" height="1.98" fill="#763a11"/>
<rect x="121.12" y="529.21" width="1.69" height="1.98" fill="#74380f"/>
<rect x="122.76" y="529.3" width="1.69" height="1.98" fill="#7b3f16"/>
<rect x="104.7" y="530.24" width="1.69" height="1.98" fill="#793d14"/>
<rect x="106.34" y="530.33" width="1.69" height="1.98" fill="#864a21"/>
<rect x="107.98" y="530.42" width="1.69" height="1.98" fill="#753910"/>
<rect x="109.62" y="530.51" width="1.69" height="1.98" fill="#a1653c"/>
<rect x="111.27" y="530.6" width="1.69" height="1.98" fill="#93572e"/>
<rect x="112.91" y="530.69" width="1.69" height="1.98" fill="#7b3f16"/>
<rect x="114.55" y="530.78" width="1.69" height="1.98" fill="#81451c"/>
<rect x="116.19" y="530.87" width="1.69" height="1.98" fill="#864a21"/>
<rect x="117.83" y="530.96" width="1.69" height="1.98" fill="#864a21"/>
<rect x="119.48" y="531.05" width="1.69" height="1.98" fill="#7a3e15"/>
<rect x="121.12" y="531.14" width="1.69" height="1.98" fill="#a0643b"/>
<rect x="122.76" y="531.23" width="1.69" height="1.98" fill="#a76b42"/>
<rect x="104.7" y="532.17" width="1.69" height="1.98" fill="#8c5027"/>
<rect x="106.34" y="532.26" width="1.69" height="1.98" fill="#8d5128"/>
<rect x="107.98" y="532.35" width="1.69" height="1.98" fill="#783c13"/>
<rect x="109.62" y="532.44" width="1.69" height="1.98" fill="#793d14"/>
<rect x="111.27" y="532.53" width="1.69" height="1.98" fill="#854920"/>
<rect x="112.91" y="532.62" width="1.69" height="1.98" fill="#81451c"/>
<rect x="114.55" y="532.71" width="1.69" height="1.98" fill="#9f633a"/>
<rect x="116.19" y="532.8" width="1.69" height="1.98" fill="#7c4017"/>
<rect x="117.83" y="532.89" width="1.69" height="1.98" fill="#753910"/>
<rect x="119.48" y="532.98" width="1.69" height="1.98" fill="#a56940"/>
<rect x="121.12" y="533.07" width="1.69" height="1.98" fill="#8f532a"/>
<rect x="122.76" y="533.16" width="1.69" height="1.98" fill="#7b3f16"/>
<rect x="104.7" y="534.1" width="1.69" height="1.98" fill="#90542b"/>
<rect x="106.34" y="534.19" width="1.69" height="1.98" fill="#753910"/>
<rect x="107.98" y="534.28" width="1.69" height="1.98" fill="#8f532a"/>
<rect x="109.62" y="534.37" width="1.69" height="1.98" fill="#a66a41"/>
<rect x="111.27" y="534.46" width="1.69" height="1.98" fill="#a0643b"/>
<rect x="112.91" y="534.55" width="1.69" height="1.98" fill="#985c33"/>
<rect x="114.55" y="534.64" width="1.69" height="1.98" fill="#81451c"/>
<rect x="116.19" y="534.73" width="1.69" height="1.98" fill="#874b22"/>
<rect x="117.83" y="534.82" width="1.69" height="1.98" fill="#7c4017"/>
<rect x="119.48" y="534.91" width="1.69" height="1.98" fill="#9c6037"/>
<rect x="121.12" y="535" width="1.69" height="1.98" fill="#8f532a"/>
<rect x="122.76" y="535.09" width="1.69" height="1.98" fill="#9c6037"/>
<line x1="104.7" y1="526.58" x2="122.43" y2="537" stroke="#e8c870" stroke-width="1.6" opacity="0.85"/>
<line x1="106.67" y1="523.99" x2="118.49" y2="531.38" stroke="#f0e0b0" stroke-width="1" opacity="0.85"/>
<line x1="116.52" y1="525.87" x2="124.4" y2="530.35" stroke="#2a3a20" stroke-width="2.5" opacity="0.85"/>
<line x1="110.61" y1="533.65" x2="120.46" y2="535.54" stroke="#f4f0e0" stroke-width="0.8" opacity="0.85"/>
</g>
<polygon points="127.3,522.06 147,523.14 147,540.14 127.3,539.06" fill="#141414"/>
<polygon points="127.3,523.76 147,524.84 147,538.34 127.3,537.26" fill="#6e6e6e"/>
<line x1="130.3" y1="520.03" x2="144" y2="520.77" stroke="#777" stroke-width="0.7"/>
<defs><clipPath id="tc02"><polygon points="127.3,523.76 147,524.84 147,538.34 127.3,537.26"/></clipPath></defs>
<g clip-path="url(#tc02)">
<rect x="127.3" y="523.76" width="1.69" height="1.98" fill="#656565"/>
<rect x="128.94" y="523.85" width="1.69" height="1.98" fill="#5f5f5f"/>
<rect x="130.58" y="523.94" width="1.69" height="1.98" fill="#7e7e7e"/>
<rect x="132.22" y="524.03" width="1.69" height="1.98" fill="#878787"/>
<rect x="133.87" y="524.12" width="1.69" height="1.98" fill="#808080"/>
<rect x="135.51" y="524.21" width="1.69" height="1.98" fill="#7d7d7d"/>
<rect x="137.15" y="524.3" width="1.69" height="1.98" fill="#7e7e7e"/>
<rect x="138.79" y="524.39" width="1.69" height="1.98" fill="#7a7a7a"/>
<rect x="140.43" y="524.48" width="1.69" height="1.98" fill="#5f5f5f"/>
<rect x="142.07" y="524.57" width="1.69" height="1.98" fill="#6e6e6e"/>
<rect x="143.72" y="524.66" width="1.69" height="1.98" fill="#666666"/>
<rect x="145.36" y="524.75" width="1.69" height="1.98" fill="#555555"/>
<rect x="127.3" y="525.69" width="1.69" height="1.98" fill="#555555"/>
<rect x="128.94" y="525.78" width="1.69" height="1.98" fill="#626262"/>
<rect x="130.58" y="525.87" width="1.69" height="1.98" fill="#616161"/>
<rect x="132.22" y="525.96" width="1.69" height="1.98" fill="#787878"/>
<rect x="133.87" y="526.05" width="1.69" height="1.98" fill="#858585"/>
<rect x="135.51" y="526.14" width="1.69" height="1.98" fill="#6b6b6b"/>
<rect x="137.15" y="526.23" width="1.69" height="1.98" fill="#848484"/>
<rect x="138.79" y="526.32" width="1.69" height="1.98" fill="#878787"/>
<rect x="140.43" y="526.41" width="1.69" height="1.98" fill="#858585"/>
<rect x="142.07" y="526.5" width="1.69" height="1.98" fill="#666666"/>
<rect x="143.72" y="526.59" width="1.69" height="1.98" fill="#5f5f5f"/>
<rect x="145.36" y="526.68" width="1.69" height="1.98" fill="#5f5f5f"/>
<rect x="127.3" y="527.62" width="1.69" height="1.98" fill="#5e5e5e"/>
<rect x="128.94" y="527.71" width="1.69" height="1.98" fill="#5e5e5e"/>
<rect x="130.58" y="527.8" width="1.69" height="1.98" fill="#747474"/>
<rect x="132.22" y="527.89" width="1.69" height="1.98" fill="#828282"/>
<rect x="133.87" y="527.98" width="1.69" height="1.98" fill="#7f7f7f"/>
<rect x="135.51" y="528.07" width="1.69" height="1.98" fill="#6c6c6c"/>
<rect x="137.15" y="528.16" width="1.69" height="1.98" fill="#757575"/>
<rect x="138.79" y="528.25" width="1.69" height="1.98" fill="#7d7d7d"/>
<rect x="140.43" y="528.34" width="1.69" height="1.98" fill="#585858"/>
<rect x="142.07" y="528.43" width="1.69" height="1.98" fill="#767676"/>
<rect x="143.72" y="528.52" width="1.69" height="1.98" fill="#838383"/>
<rect x="145.36" y="528.61" width="1.69" height="1.98" fill="#7c7c7c"/>
<rect x="127.3" y="529.55" width="1.69" height="1.98" fill="#7b7b7b"/>
<rect x="128.94" y="529.64" width="1.69" height="1.98" fill="#6c6c6c"/>
<rect x="130.58" y="529.73" width="1.69" height="1.98" fill="#5d5d5d"/>
<rect x="132.22" y="529.82" width="1.69" height="1.98" fill="#7d7d7d"/>
<rect x="133.87" y="529.91" width="1.69" height="1.98" fill="#656565"/>
<rect x="135.51" y="530" width="1.69" height="1.98" fill="#7d7d7d"/>
<rect x="137.15" y="530.09" width="1.69" height="1.98" fill="#868686"/>
<rect x="138.79" y="530.18" width="1.69" height="1.98" fill="#686868"/>
<rect x="140.43" y="530.27" width="1.69" height="1.98" fill="#686868"/>
<rect x="142.07" y="530.35" width="1.69" height="1.98" fill="#858585"/>
<rect x="143.72" y="530.44" width="1.69" height="1.98" fill="#797979"/>
<rect x="145.36" y="530.53" width="1.69" height="1.98" fill="#5c5c5c"/>
<rect x="127.3" y="531.48" width="1.69" height="1.98" fill="#5a5a5a"/>
<rect x="128.94" y="531.57" width="1.69" height="1.98" fill="#5b5b5b"/>
<rect x="130.58" y="531.66" width="1.69" height="1.98" fill="#838383"/>
<rect x="132.22" y="531.75" width="1.69" height="1.98" fill="#7d7d7d"/>
<rect x="133.87" y="531.84" width="1.69" height="1.98" fill="#5b5b5b"/>
<rect x="135.51" y="531.92" width="1.69" height="1.98" fill="#7e7e7e"/>
<rect x="137.15" y="532.01" width="1.69" height="1.98" fill="#868686"/>
<rect x="138.79" y="532.1" width="1.69" height="1.98" fill="#767676"/>
<rect x="140.43" y="532.19" width="1.69" height="1.98" fill="#666666"/>
<rect x="142.07" y="532.28" width="1.69" height="1.98" fill="#707070"/>
<rect x="143.72" y="532.37" width="1.69" height="1.98" fill="#5a5a5a"/>
<rect x="145.36" y="532.46" width="1.69" height="1.98" fill="#545454"/>
<rect x="127.3" y="533.41" width="1.69" height="1.98" fill="#868686"/>
<rect x="128.94" y="533.49" width="1.69" height="1.98" fill="#757575"/>
<rect x="130.58" y="533.58" width="1.69" height="1.98" fill="#6f6f6f"/>
<rect x="132.22" y="533.67" width="1.69" height="1.98" fill="#848484"/>
<rect x="133.87" y="533.76" width="1.69" height="1.98" fill="#6a6a6a"/>
<rect x="135.51" y="533.85" width="1.69" height="1.98" fill="#818181"/>
<rect x="137.15" y="533.94" width="1.69" height="1.98" fill="#7e7e7e"/>
<rect x="138.79" y="534.03" width="1.69" height="1.98" fill="#5e5e5e"/>
<rect x="140.43" y="534.12" width="1.69" height="1.98" fill="#616161"/>
<rect x="142.07" y="534.21" width="1.69" height="1.98" fill="#636363"/>
<rect x="143.72" y="534.3" width="1.69" height="1.98" fill="#606060"/>
<rect x="145.36" y="534.39" width="1.69" height="1.98" fill="#727272"/>
<rect x="127.3" y="535.33" width="1.69" height="1.98" fill="#616161"/>
<rect x="128.94" y="535.42" width="1.69" height="1.98" fill="#696969"/>
<rect x="130.58" y="535.51" width="1.69" height="1.98" fill="#5a5a5a"/>
<rect x="132.22" y="535.6" width="1.69" height="1.98" fill="#838383"/>
<rect x="133.87" y="535.69" width="1.69" height="1.98" fill="#666666"/>
<rect x="135.51" y="535.78" width="1.69" height="1.98" fill="#6b6b6b"/>
<rect x="137.15" y="535.87" width="1.69" height="1.98" fill="#727272"/>
<rect x="138.79" y="535.96" width="1.69" height="1.98" fill="#838383"/>
<rect x="140.43" y="536.05" width="1.69" height="1.98" fill="#696969"/>
<rect x="142.07" y="536.14" width="1.69" height="1.98" fill="#838383"/>
<rect x="143.72" y="536.23" width="1.69" height="1.98" fill="#6e6e6e"/>
<rect x="145.36" y="536.32" width="1.69" height="1.98" fill="#6f6f6f"/>
<line x1="129.27" y1="523.87" x2="145.03" y2="538.23" stroke="#1a1a1a" stroke-width="2.2" opacity="0.85"/>
<line x1="127.3" y1="531.86" x2="135.18" y2="537.69" stroke="#d8d8d8" stroke-width="1.5" opacity="0.85"/>
<line x1="137.15" y1="525.65" x2="147" y2="531.59" stroke="#c8c8c8" stroke-width="1.5" opacity="0.85"/>
</g>
<polygon points="150,523.3 170,524.39 170,541.39 150,540.3" fill="#141414"/>
<polygon points="150,525 170,526.09 170,539.59 150,538.5" fill="#5c5c5c"/>
<line x1="153" y1="521.27" x2="167" y2="522.03" stroke="#777" stroke-width="0.7"/>
<defs><clipPath id="tc03"><polygon points="150,525 170,526.09 170,539.59 150,538.5"/></clipPath></defs>
<g clip-path="url(#tc03)">
<rect x="150" y="525" width="1.72" height="1.98" fill="#5d5d5d"/>
<rect x="151.67" y="525.09" width="1.72" height="1.98" fill="#424242"/>
<rect x="153.33" y="525.18" width="1.72" height="1.98" fill="#585858"/>
<rect x="155" y="525.27" width="1.72" height="1.98" fill="#4b4b4b"/>
<rect x="156.67" y="525.37" width="1.72" height="1.98" fill="#424242"/>
<rect x="158.33" y="525.46" width="1.72" height="1.98" fill="#6b6b6b"/>
<rect x="160" y="525.55" width="1.72" height="1.98" fill="#4a4a4a"/>
<rect x="161.67" y="525.64" width="1.72" height="1.98" fill="#5a5a5a"/>
<rect x="163.33" y="525.73" width="1.72" height="1.98" fill="#676767"/>
<rect x="165" y="525.82" width="1.72" height="1.98" fill="#5e5e5e"/>
<rect x="166.67" y="525.91" width="1.72" height="1.98" fill="#525252"/>
<rect x="168.33" y="526" width="1.72" height="1.98" fill="#5c5c5c"/>
<rect x="150" y="526.93" width="1.72" height="1.98" fill="#5e5e5e"/>
<rect x="151.67" y="527.02" width="1.72" height="1.98" fill="#6a6a6a"/>
<rect x="153.33" y="527.11" width="1.72" height="1.98" fill="#474747"/>
<rect x="155" y="527.2" width="1.72" height="1.98" fill="#5f5f5f"/>
<rect x="156.67" y="527.29" width="1.72" height="1.98" fill="#4e4e4e"/>
<rect x="158.33" y="527.39" width="1.72" height="1.98" fill="#505050"/>
<rect x="160" y="527.48" width="1.72" height="1.98" fill="#6a6a6a"/>
<rect x="161.67" y="527.57" width="1.72" height="1.98" fill="#5c5c5c"/>
<rect x="163.33" y="527.66" width="1.72" height="1.98" fill="#5f5f5f"/>
<rect x="165" y="527.75" width="1.72" height="1.98" fill="#696969"/>
<rect x="166.67" y="527.84" width="1.72" height="1.98" fill="#717171"/>
<rect x="168.33" y="527.93" width="1.72" height="1.98" fill="#595959"/>
<rect x="150" y="528.86" width="1.72" height="1.98" fill="#616161"/>
<rect x="151.67" y="528.95" width="1.72" height="1.98" fill="#5c5c5c"/>
<rect x="153.33" y="529.04" width="1.72" height="1.98" fill="#5c5c5c"/>
<rect x="155" y="529.13" width="1.72" height="1.98" fill="#666666"/>
<rect x="156.67" y="529.22" width="1.72" height="1.98" fill="#595959"/>
<rect x="158.33" y="529.31" width="1.72" height="1.98" fill="#5d5d5d"/>
<rect x="160" y="529.41" width="1.72" height="1.98" fill="#5a5a5a"/>
<rect x="161.67" y="529.5" width="1.72" height="1.98" fill="#727272"/>
<rect x="163.33" y="529.59" width="1.72" height="1.98" fill="#666666"/>
<rect x="165" y="529.68" width="1.72" height="1.98" fill="#6f6f6f"/>
<rect x="166.67" y="529.77" width="1.72" height="1.98" fill="#727272"/>
<rect x="168.33" y="529.86" width="1.72" height="1.98" fill="#4f4f4f"/>
<rect x="150" y="530.79" width="1.72" height="1.98" fill="#5f5f5f"/>
<rect x="151.67" y="530.88" width="1.72" height="1.98" fill="#737373"/>
<rect x="153.33" y="530.97" width="1.72" height="1.98" fill="#6d6d6d"/>
<rect x="155" y="531.06" width="1.72" height="1.98" fill="#494949"/>
<rect x="156.67" y="531.15" width="1.72" height="1.98" fill="#484848"/>
<rect x="158.33" y="531.24" width="1.72" height="1.98" fill="#585858"/>
<rect x="160" y="531.33" width="1.72" height="1.98" fill="#454545"/>
<rect x="161.67" y="531.42" width="1.72" height="1.98" fill="#4e4e4e"/>
<rect x="163.33" y="531.52" width="1.72" height="1.98" fill="#454545"/>
<rect x="165" y="531.61" width="1.72" height="1.98" fill="#646464"/>
<rect x="166.67" y="531.7" width="1.72" height="1.98" fill="#6a6a6a"/>
<rect x="168.33" y="531.79" width="1.72" height="1.98" fill="#707070"/>
<rect x="150" y="532.72" width="1.72" height="1.98" fill="#4a4a4a"/>
<rect x="151.67" y="532.81" width="1.72" height="1.98" fill="#676767"/>
<rect x="153.33" y="532.9" width="1.72" height="1.98" fill="#646464"/>
<rect x="155" y="532.99" width="1.72" height="1.98" fill="#494949"/>
<rect x="156.67" y="533.08" width="1.72" height="1.98" fill="#6f6f6f"/>
<rect x="158.33" y="533.17" width="1.72" height="1.98" fill="#747474"/>
<rect x="160" y="533.26" width="1.72" height="1.98" fill="#4d4d4d"/>
<rect x="161.67" y="533.35" width="1.72" height="1.98" fill="#737373"/>
<rect x="163.33" y="533.44" width="1.72" height="1.98" fill="#565656"/>
<rect x="165" y="533.54" width="1.72" height="1.98" fill="#5b5b5b"/>
<rect x="166.67" y="533.63" width="1.72" height="1.98" fill="#757575"/>
<rect x="168.33" y="533.72" width="1.72" height="1.98" fill="#6d6d6d"/>
<rect x="150" y="534.64" width="1.72" height="1.98" fill="#4a4a4a"/>
<rect x="151.67" y="534.74" width="1.72" height="1.98" fill="#585858"/>
<rect x="153.33" y="534.83" width="1.72" height="1.98" fill="#5c5c5c"/>
<rect x="155" y="534.92" width="1.72" height="1.98" fill="#535353"/>
<rect x="156.67" y="535.01" width="1.72" height="1.98" fill="#4c4c4c"/>
<rect x="158.33" y="535.1" width="1.72" height="1.98" fill="#525252"/>
<rect x="160" y="535.19" width="1.72" height="1.98" fill="#676767"/>
<rect x="161.67" y="535.28" width="1.72" height="1.98" fill="#434343"/>
<rect x="163.33" y="535.37" width="1.72" height="1.98" fill="#5e5e5e"/>
<rect x="165" y="535.46" width="1.72" height="1.98" fill="#585858"/>
<rect x="166.67" y="535.55" width="1.72" height="1.98" fill="#424242"/>
<rect x="168.33" y="535.65" width="1.72" height="1.98" fill="#535353"/>
<rect x="150" y="536.57" width="1.72" height="1.98" fill="#626262"/>
<rect x="151.67" y="536.66" width="1.72" height="1.98" fill="#5c5c5c"/>
<rect x="153.33" y="536.76" width="1.72" height="1.98" fill="#454545"/>
<rect x="155" y="536.85" width="1.72" height="1.98" fill="#757575"/>
<rect x="156.67" y="536.94" width="1.72" height="1.98" fill="#6a6a6a"/>
<rect x="158.33" y="537.03" width="1.72" height="1.98" fill="#747474"/>
<rect x="160" y="537.12" width="1.72" height="1.98" fill="#474747"/>
<rect x="161.67" y="537.21" width="1.72" height="1.98" fill="#4f4f4f"/>
<rect x="163.33" y="537.3" width="1.72" height="1.98" fill="#444444"/>
<rect x="165" y="537.39" width="1.72" height="1.98" fill="#6a6a6a"/>
<rect x="166.67" y="537.48" width="1.72" height="1.98" fill="#505050"/>
<rect x="168.33" y="537.57" width="1.72" height="1.98" fill="#484848"/>
<line x1="152" y1="525.11" x2="168" y2="539.48" stroke="#1a1a1a" stroke-width="2.2" opacity="0.85"/>
<line x1="150" y1="533.1" x2="158" y2="538.94" stroke="#d8d8d8" stroke-width="1.5" opacity="0.85"/>
<line x1="160" y1="526.9" x2="170" y2="532.84" stroke="#c8c8c8" stroke-width="1.5" opacity="0.85"/>
</g>
<polygon points="172.7,524.54 193,525.65 193,542.65 172.7,541.54" fill="#141414"/>
<polygon points="172.7,526.24 193,527.35 193,540.85 172.7,539.74" fill="#76685a"/>
<line x1="175.7" y1="522.51" x2="190" y2="523.29" stroke="#777" stroke-width="0.7"/>
<defs><clipPath id="tc04"><polygon points="172.7,526.24 193,527.35 193,540.85 172.7,539.74"/></clipPath></defs>
<g clip-path="url(#tc04)">
<rect x="172.7" y="526.24" width="1.74" height="1.98" fill="#716355"/>
<rect x="174.39" y="526.33" width="1.74" height="1.98" fill="#8b7d6f"/>
<rect x="176.08" y="526.43" width="1.74" height="1.98" fill="#86786a"/>
<rect x="177.77" y="526.52" width="1.74" height="1.98" fill="#695b4d"/>
<rect x="179.47" y="526.61" width="1.74" height="1.98" fill="#635547"/>
<rect x="181.16" y="526.7" width="1.74" height="1.98" fill="#8b7d6f"/>
<rect x="182.85" y="526.8" width="1.74" height="1.98" fill="#796b5d"/>
<rect x="184.54" y="526.89" width="1.74" height="1.98" fill="#807264"/>
<rect x="186.23" y="526.98" width="1.74" height="1.98" fill="#605244"/>
<rect x="187.93" y="527.07" width="1.74" height="1.98" fill="#5e5042"/>
<rect x="189.62" y="527.16" width="1.74" height="1.98" fill="#7f7163"/>
<rect x="191.31" y="527.26" width="1.74" height="1.98" fill="#726456"/>
<rect x="172.7" y="528.17" width="1.74" height="1.98" fill="#5f5143"/>
<rect x="174.39" y="528.26" width="1.74" height="1.98" fill="#8c7e70"/>
<rect x="176.08" y="528.35" width="1.74" height="1.98" fill="#7c6e60"/>
<rect x="177.77" y="528.45" width="1.74" height="1.98" fill="#857769"/>
<rect x="179.47" y="528.54" width="1.74" height="1.98" fill="#605244"/>
<rect x="181.16" y="528.63" width="1.74" height="1.98" fill="#887a6c"/>
<rect x="182.85" y="528.72" width="1.74" height="1.98" fill="#5f5143"/>
<rect x="184.54" y="528.82" width="1.74" height="1.98" fill="#887a6c"/>
<rect x="186.23" y="528.91" width="1.74" height="1.98" fill="#736557"/>
<rect x="187.93" y="529" width="1.74" height="1.98" fill="#6d5f51"/>
<rect x="189.62" y="529.09" width="1.74" height="1.98" fill="#786a5c"/>
<rect x="191.31" y="529.19" width="1.74" height="1.98" fill="#8c7e70"/>
<rect x="172.7" y="530.1" width="1.74" height="1.98" fill="#695b4d"/>
<rect x="174.39" y="530.19" width="1.74" height="1.98" fill="#625446"/>
<rect x="176.08" y="530.28" width="1.74" height="1.98" fill="#77695b"/>
<rect x="177.77" y="530.38" width="1.74" height="1.98" fill="#685a4c"/>
<rect x="179.47" y="530.47" width="1.74" height="1.98" fill="#615345"/>
<rect x="181.16" y="530.56" width="1.74" height="1.98" fill="#645648"/>
<rect x="182.85" y="530.65" width="1.74" height="1.98" fill="#5e5042"/>
<rect x="184.54" y="530.74" width="1.74" height="1.98" fill="#66584a"/>
<rect x="186.23" y="530.84" width="1.74" height="1.98" fill="#6c5e50"/>
<rect x="187.93" y="530.93" width="1.74" height="1.98" fill="#6b5d4f"/>
<rect x="189.62" y="531.02" width="1.74" height="1.98" fill="#837567"/>
<rect x="191.31" y="531.11" width="1.74" height="1.98" fill="#6b5d4f"/>
<rect x="172.7" y="532.03" width="1.74" height="1.98" fill="#76685a"/>
<rect x="174.39" y="532.12" width="1.74" height="1.98" fill="#655749"/>
<rect x="176.08" y="532.21" width="1.74" height="1.98" fill="#6e6052"/>
<rect x="177.77" y="532.3" width="1.74" height="1.98" fill="#5c4e40"/>
<rect x="179.47" y="532.4" width="1.74" height="1.98" fill="#695b4d"/>
<rect x="181.16" y="532.49" width="1.74" height="1.98" fill="#5c4e40"/>
<rect x="182.85" y="532.58" width="1.74" height="1.98" fill="#827466"/>
<rect x="184.54" y="532.67" width="1.74" height="1.98" fill="#786a5c"/>
<rect x="186.23" y="532.77" width="1.74" height="1.98" fill="#655749"/>
<rect x="187.93" y="532.86" width="1.74" height="1.98" fill="#746658"/>
<rect x="189.62" y="532.95" width="1.74" height="1.98" fill="#8c7e70"/>
<rect x="191.31" y="533.04" width="1.74" height="1.98" fill="#615345"/>
<rect x="172.7" y="533.96" width="1.74" height="1.98" fill="#86786a"/>
<rect x="174.39" y="534.05" width="1.74" height="1.98" fill="#726456"/>
<rect x="176.08" y="534.14" width="1.74" height="1.98" fill="#756759"/>
<rect x="177.77" y="534.23" width="1.74" height="1.98" fill="#87796b"/>
<rect x="179.47" y="534.33" width="1.74" height="1.98" fill="#706254"/>
<rect x="181.16" y="534.42" width="1.74" height="1.98" fill="#76685a"/>
<rect x="182.85" y="534.51" width="1.74" height="1.98" fill="#7f7163"/>
<rect x="184.54" y="534.6" width="1.74" height="1.98" fill="#8f8173"/>
<rect x="186.23" y="534.69" width="1.74" height="1.98" fill="#6d5f51"/>
<rect x="187.93" y="534.79" width="1.74" height="1.98" fill="#87796b"/>
<rect x="189.62" y="534.88" width="1.74" height="1.98" fill="#807264"/>
<rect x="191.31" y="534.97" width="1.74" height="1.98" fill="#7d6f61"/>
<rect x="172.7" y="535.88" width="1.74" height="1.98" fill="#716355"/>
<rect x="174.39" y="535.98" width="1.74" height="1.98" fill="#6e6052"/>
<rect x="176.08" y="536.07" width="1.74" height="1.98" fill="#5e5042"/>
<rect x="177.77" y="536.16" width="1.74" height="1.98" fill="#625446"/>
<rect x="179.47" y="536.25" width="1.74" height="1.98" fill="#5f5143"/>
<rect x="181.16" y="536.35" width="1.74" height="1.98" fill="#827466"/>
<rect x="182.85" y="536.44" width="1.74" height="1.98" fill="#695b4d"/>
<rect x="184.54" y="536.53" width="1.74" height="1.98" fill="#645648"/>
<rect x="186.23" y="536.62" width="1.74" height="1.98" fill="#605244"/>
<rect x="187.93" y="536.72" width="1.74" height="1.98" fill="#87796b"/>
<rect x="189.62" y="536.81" width="1.74" height="1.98" fill="#897b6d"/>
<rect x="191.31" y="536.9" width="1.74" height="1.98" fill="#7e7062"/>
<rect x="172.7" y="537.81" width="1.74" height="1.98" fill="#6a5c4e"/>
<rect x="174.39" y="537.91" width="1.74" height="1.98" fill="#685a4c"/>
<rect x="176.08" y="538" width="1.74" height="1.98" fill="#6b5d4f"/>
<rect x="177.77" y="538.09" width="1.74" height="1.98" fill="#736557"/>
<rect x="179.47" y="538.18" width="1.74" height="1.98" fill="#645648"/>
<rect x="181.16" y="538.27" width="1.74" height="1.98" fill="#736557"/>
<rect x="182.85" y="538.37" width="1.74" height="1.98" fill="#695b4d"/>
<rect x="184.54" y="538.46" width="1.74" height="1.98" fill="#8e8072"/>
<rect x="186.23" y="538.55" width="1.74" height="1.98" fill="#8e8072"/>
<rect x="187.93" y="538.64" width="1.74" height="1.98" fill="#786a5c"/>
<rect x="189.62" y="538.74" width="1.74" height="1.98" fill="#685a4c"/>
<rect x="191.31" y="538.83" width="1.74" height="1.98" fill="#8e8072"/>
<line x1="176.76" y1="526.46" x2="182.85" y2="540.3" stroke="#4a4030" stroke-width="1.5" opacity="0.85"/>
<line x1="186.91" y1="527.02" x2="190.97" y2="540.74" stroke="#5a7aa0" stroke-width="1.2" opacity="0.85"/>
<line x1="172.7" y1="532.99" x2="193" y2="536.8" stroke="#a89060" stroke-width="1" opacity="0.85"/>
</g>
<polygon points="195.8,525.8 216.4,526.93 216.4,543.93 195.8,542.8" fill="#141414"/>
<polygon points="195.8,527.5 216.4,528.63 216.4,542.13 195.8,541" fill="#6c5a3a"/>
<line x1="198.8" y1="523.77" x2="213.4" y2="524.56" stroke="#777" stroke-width="0.7"/>
<defs><clipPath id="tc05"><polygon points="195.8,527.5 216.4,528.63 216.4,542.13 195.8,541"/></clipPath></defs>
<g clip-path="url(#tc05)">
<rect x="195.8" y="527.5" width="1.77" height="1.98" fill="#625030"/>
<rect x="197.52" y="527.6" width="1.77" height="1.98" fill="#645232"/>
<rect x="199.23" y="527.69" width="1.77" height="1.98" fill="#524020"/>
<rect x="200.95" y="527.78" width="1.77" height="1.98" fill="#655333"/>
<rect x="202.67" y="527.88" width="1.77" height="1.98" fill="#6a5838"/>
<rect x="204.38" y="527.97" width="1.77" height="1.98" fill="#6c5a3a"/>
<rect x="206.1" y="528.06" width="1.77" height="1.98" fill="#5c4a2a"/>
<rect x="207.82" y="528.16" width="1.77" height="1.98" fill="#6c5a3a"/>
<rect x="209.53" y="528.25" width="1.77" height="1.98" fill="#524020"/>
<rect x="211.25" y="528.35" width="1.77" height="1.98" fill="#5f4d2d"/>
<rect x="212.97" y="528.44" width="1.77" height="1.98" fill="#564424"/>
<rect x="214.68" y="528.53" width="1.77" height="1.98" fill="#665434"/>
<rect x="195.8" y="529.43" width="1.77" height="1.98" fill="#544222"/>
<rect x="197.52" y="529.52" width="1.77" height="1.98" fill="#534121"/>
<rect x="199.23" y="529.62" width="1.77" height="1.98" fill="#614f2f"/>
<rect x="200.95" y="529.71" width="1.77" height="1.98" fill="#5e4c2c"/>
<rect x="202.67" y="529.81" width="1.77" height="1.98" fill="#705e3e"/>
<rect x="204.38" y="529.9" width="1.77" height="1.98" fill="#6d5b3b"/>
<rect x="206.1" y="529.99" width="1.77" height="1.98" fill="#796747"/>
<rect x="207.82" y="530.09" width="1.77" height="1.98" fill="#746242"/>
<rect x="209.53" y="530.18" width="1.77" height="1.98" fill="#776545"/>
<rect x="211.25" y="530.27" width="1.77" height="1.98" fill="#7f6d4d"/>
<rect x="212.97" y="530.37" width="1.77" height="1.98" fill="#665434"/>
<rect x="214.68" y="530.46" width="1.77" height="1.98" fill="#625030"/>
<rect x="195.8" y="531.36" width="1.77" height="1.98" fill="#857353"/>
<rect x="197.52" y="531.45" width="1.77" height="1.98" fill="#594727"/>
<rect x="199.23" y="531.55" width="1.77" height="1.98" fill="#776545"/>
<rect x="200.95" y="531.64" width="1.77" height="1.98" fill="#736141"/>
<rect x="202.67" y="531.73" width="1.77" height="1.98" fill="#544222"/>
<rect x="204.38" y="531.83" width="1.77" height="1.98" fill="#7d6b4b"/>
<rect x="206.1" y="531.92" width="1.77" height="1.98" fill="#806e4e"/>
<rect x="207.82" y="532.02" width="1.77" height="1.98" fill="#726040"/>
<rect x="209.53" y="532.11" width="1.77" height="1.98" fill="#786646"/>
<rect x="211.25" y="532.2" width="1.77" height="1.98" fill="#7c6a4a"/>
<rect x="212.97" y="532.3" width="1.77" height="1.98" fill="#594727"/>
<rect x="214.68" y="532.39" width="1.77" height="1.98" fill="#6d5b3b"/>
<rect x="195.8" y="533.29" width="1.77" height="1.98" fill="#6c5a3a"/>
<rect x="197.52" y="533.38" width="1.77" height="1.98" fill="#7d6b4b"/>
<rect x="199.23" y="533.48" width="1.77" height="1.98" fill="#7b6949"/>
<rect x="200.95" y="533.57" width="1.77" height="1.98" fill="#7c6a4a"/>
<rect x="202.67" y="533.66" width="1.77" height="1.98" fill="#705e3e"/>
<rect x="204.38" y="533.76" width="1.77" height="1.98" fill="#806e4e"/>
<rect x="206.1" y="533.85" width="1.77" height="1.98" fill="#756343"/>
<rect x="207.82" y="533.94" width="1.77" height="1.98" fill="#766444"/>
<rect x="209.53" y="534.04" width="1.77" height="1.98" fill="#5d4b2b"/>
<rect x="211.25" y="534.13" width="1.77" height="1.98" fill="#534121"/>
<rect x="212.97" y="534.23" width="1.77" height="1.98" fill="#584626"/>
<rect x="214.68" y="534.32" width="1.77" height="1.98" fill="#645232"/>
<rect x="195.8" y="535.22" width="1.77" height="1.98" fill="#574525"/>
<rect x="197.52" y="535.31" width="1.77" height="1.98" fill="#7d6b4b"/>
<rect x="199.23" y="535.4" width="1.77" height="1.98" fill="#6f5d3d"/>
<rect x="200.95" y="535.5" width="1.77" height="1.98" fill="#726040"/>
<rect x="202.67" y="535.59" width="1.77" height="1.98" fill="#726040"/>
<rect x="204.38" y="535.69" width="1.77" height="1.98" fill="#756343"/>
<rect x="206.1" y="535.78" width="1.77" height="1.98" fill="#6b5939"/>
<rect x="207.82" y="535.87" width="1.77" height="1.98" fill="#524020"/>
<rect x="209.53" y="535.97" width="1.77" height="1.98" fill="#7b6949"/>
<rect x="211.25" y="536.06" width="1.77" height="1.98" fill="#786646"/>
<rect x="212.97" y="536.15" width="1.77" height="1.98" fill="#6c5a3a"/>
<rect x="214.68" y="536.25" width="1.77" height="1.98" fill="#6d5b3b"/>
<rect x="195.8" y="537.15" width="1.77" height="1.98" fill="#746242"/>
<rect x="197.52" y="537.24" width="1.77" height="1.98" fill="#554323"/>
<rect x="199.23" y="537.33" width="1.77" height="1.98" fill="#786646"/>
<rect x="200.95" y="537.43" width="1.77" height="1.98" fill="#5f4d2d"/>
<rect x="202.67" y="537.52" width="1.77" height="1.98" fill="#554323"/>
<rect x="204.38" y="537.61" width="1.77" height="1.98" fill="#5f4d2d"/>
<rect x="206.1" y="537.71" width="1.77" height="1.98" fill="#776545"/>
<rect x="207.82" y="537.8" width="1.77" height="1.98" fill="#5c4a2a"/>
<rect x="209.53" y="537.9" width="1.77" height="1.98" fill="#786646"/>
<rect x="211.25" y="537.99" width="1.77" height="1.98" fill="#847252"/>
<rect x="212.97" y="538.08" width="1.77" height="1.98" fill="#6b5939"/>
<rect x="214.68" y="538.18" width="1.77" height="1.98" fill="#655333"/>
<rect x="195.8" y="539.07" width="1.77" height="1.98" fill="#6a5838"/>
<rect x="197.52" y="539.17" width="1.77" height="1.98" fill="#756343"/>
<rect x="199.23" y="539.26" width="1.77" height="1.98" fill="#796747"/>
<rect x="200.95" y="539.36" width="1.77" height="1.98" fill="#726040"/>
<rect x="202.67" y="539.45" width="1.77" height="1.98" fill="#736141"/>
<rect x="204.38" y="539.54" width="1.77" height="1.98" fill="#564424"/>
<rect x="206.1" y="539.64" width="1.77" height="1.98" fill="#594727"/>
<rect x="207.82" y="539.73" width="1.77" height="1.98" fill="#5f4d2d"/>
<rect x="209.53" y="539.82" width="1.77" height="1.98" fill="#786646"/>
<rect x="211.25" y="539.92" width="1.77" height="1.98" fill="#614f2f"/>
<rect x="212.97" y="540.01" width="1.77" height="1.98" fill="#6f5d3d"/>
<rect x="214.68" y="540.11" width="1.77" height="1.98" fill="#524020"/>
<line x1="199.92" y1="527.73" x2="206.1" y2="541.56" stroke="#4a4030" stroke-width="1.5" opacity="0.85"/>
<line x1="210.22" y1="528.29" x2="214.34" y2="542.01" stroke="#5a7aa0" stroke-width="1.2" opacity="0.85"/>
<line x1="195.8" y1="534.25" x2="216.4" y2="538.08" stroke="#a89060" stroke-width="1" opacity="0.85"/>
</g>
<polygon points="82.2,542.6 102,543.68 102,560.68 82.2,559.6" fill="#141414"/>
<polygon points="82.2,544.3 102,545.38 102,558.88 82.2,557.8" fill="#8a6c62"/>
<line x1="85.2" y1="540.56" x2="99" y2="541.32" stroke="#777" stroke-width="0.7"/>
<defs><clipPath id="tc10"><polygon points="82.2,544.3 102,545.38 102,558.88 82.2,557.8"/></clipPath></defs>
<g clip-path="url(#tc10)">
<rect x="82.2" y="544.3" width="1.7" height="1.98" fill="#73554b"/>
<rect x="83.85" y="544.39" width="1.7" height="1.98" fill="#7d5f55"/>
<rect x="85.5" y="544.48" width="1.7" height="1.98" fill="#92746a"/>
<rect x="87.15" y="544.57" width="1.7" height="1.98" fill="#93756b"/>
<rect x="88.8" y="544.66" width="1.7" height="1.98" fill="#93756b"/>
<rect x="90.45" y="544.75" width="1.7" height="1.98" fill="#7f6157"/>
<rect x="92.1" y="544.84" width="1.7" height="1.98" fill="#8a6c62"/>
<rect x="93.75" y="544.93" width="1.7" height="1.98" fill="#886a60"/>
<rect x="95.4" y="545.02" width="1.7" height="1.98" fill="#886a60"/>
<rect x="97.05" y="545.11" width="1.7" height="1.98" fill="#76584e"/>
<rect x="98.7" y="545.2" width="1.7" height="1.98" fill="#9e8076"/>
<rect x="100.35" y="545.29" width="1.7" height="1.98" fill="#7a5c52"/>
<rect x="82.2" y="546.23" width="1.7" height="1.98" fill="#a2847a"/>
<rect x="83.85" y="546.32" width="1.7" height="1.98" fill="#a08278"/>
<rect x="85.5" y="546.41" width="1.7" height="1.98" fill="#705248"/>
<rect x="87.15" y="546.5" width="1.7" height="1.98" fill="#87695f"/>
<rect x="88.8" y="546.59" width="1.7" height="1.98" fill="#9a7c72"/>
<rect x="90.45" y="546.68" width="1.7" height="1.98" fill="#a2847a"/>
<rect x="92.1" y="546.77" width="1.7" height="1.98" fill="#87695f"/>
<rect x="93.75" y="546.86" width="1.7" height="1.98" fill="#7d5f55"/>
<rect x="95.4" y="546.95" width="1.7" height="1.98" fill="#7a5c52"/>
<rect x="97.05" y="547.04" width="1.7" height="1.98" fill="#a18379"/>
<rect x="98.7" y="547.13" width="1.7" height="1.98" fill="#7a5c52"/>
<rect x="100.35" y="547.22" width="1.7" height="1.98" fill="#8e7066"/>
<rect x="82.2" y="548.16" width="1.7" height="1.98" fill="#77594f"/>
<rect x="83.85" y="548.25" width="1.7" height="1.98" fill="#8b6d63"/>
<rect x="85.5" y="548.34" width="1.7" height="1.98" fill="#a18379"/>
<rect x="87.15" y="548.43" width="1.7" height="1.98" fill="#76584e"/>
<rect x="88.8" y="548.52" width="1.7" height="1.98" fill="#9a7c72"/>
<rect x="90.45" y="548.61" width="1.7" height="1.98" fill="#8a6c62"/>
<rect x="92.1" y="548.7" width="1.7" height="1.98" fill="#9e8076"/>
<rect x="93.75" y="548.79" width="1.7" height="1.98" fill="#94766c"/>
<rect x="95.4" y="548.88" width="1.7" height="1.98" fill="#7c5e54"/>
<rect x="97.05" y="548.97" width="1.7" height="1.98" fill="#9e8076"/>
<rect x="98.7" y="549.06" width="1.7" height="1.98" fill="#896b61"/>
<rect x="100.35" y="549.15" width="1.7" height="1.98" fill="#715349"/>
<rect x="82.2" y="550.09" width="1.7" height="1.98" fill="#705248"/>
<rect x="83.85" y="550.18" width="1.7" height="1.98" fill="#896b61"/>
<rect x="85.5" y="550.27" width="1.7" height="1.98" fill="#87695f"/>
<rect x="87.15" y="550.36" width="1.7" height="1.98" fill="#7f6157"/>
<rect x="88.8" y="550.45" width="1.7" height="1.98" fill="#77594f"/>
<rect x="90.45" y="550.54" width="1.7" height="1.98" fill="#816359"/>
<rect x="92.1" y="550.63" width="1.7" height="1.98" fill="#806258"/>
<rect x="93.75" y="550.72" width="1.7" height="1.98" fill="#9b7d73"/>
<rect x="95.4" y="550.81" width="1.7" height="1.98" fill="#705248"/>
<rect x="97.05" y="550.9" width="1.7" height="1.98" fill="#97796f"/>
<rect x="98.7" y="550.99" width="1.7" height="1.98" fill="#9b7d73"/>
<rect x="100.35" y="551.08" width="1.7" height="1.98" fill="#76584e"/>
<rect x="82.2" y="552.01" width="1.7" height="1.98" fill="#a08278"/>
<rect x="83.85" y="552.1" width="1.7" height="1.98" fill="#95776d"/>
<rect x="85.5" y="552.19" width="1.7" height="1.98" fill="#9e8076"/>
<rect x="87.15" y="552.28" width="1.7" height="1.98" fill="#7f6157"/>
<rect x="88.8" y="552.37" width="1.7" height="1.98" fill="#83655b"/>
<rect x="90.45" y="552.46" width="1.7" height="1.98" fill="#84665c"/>
<rect x="92.1" y="552.55" width="1.7" height="1.98" fill="#a3857b"/>
<rect x="93.75" y="552.64" width="1.7" height="1.98" fill="#8e7066"/>
<rect x="95.4" y="552.74" width="1.7" height="1.98" fill="#82645a"/>
<rect x="97.05" y="552.83" width="1.7" height="1.98" fill="#86685e"/>
<rect x="98.7" y="552.92" width="1.7" height="1.98" fill="#7e6056"/>
<rect x="100.35" y="553.01" width="1.7" height="1.98" fill="#72544a"/>
<rect x="82.2" y="553.94" width="1.7" height="1.98" fill="#75574d"/>
<rect x="83.85" y="554.03" width="1.7" height="1.98" fill="#9b7d73"/>
<rect x="85.5" y="554.12" width="1.7" height="1.98" fill="#7e6056"/>
<rect x="87.15" y="554.21" width="1.7" height="1.98" fill="#a08278"/>
<rect x="88.8" y="554.3" width="1.7" height="1.98" fill="#7c5e54"/>
<rect x="90.45" y="554.39" width="1.7" height="1.98" fill="#7d5f55"/>
<rect x="92.1" y="554.48" width="1.7" height="1.98" fill="#8a6c62"/>
<rect x="93.75" y="554.57" width="1.7" height="1.98" fill="#795b51"/>
<rect x="95.4" y="554.66" width="1.7" height="1.98" fill="#83655b"/>
<rect x="97.05" y="554.75" width="1.7" height="1.98" fill="#a18379"/>
<rect x="98.7" y="554.84" width="1.7" height="1.98" fill="#9d7f75"/>
<rect x="100.35" y="554.93" width="1.7" height="1.98" fill="#9a7c72"/>
<rect x="82.2" y="555.87" width="1.7" height="1.98" fill="#907268"/>
<rect x="83.85" y="555.96" width="1.7" height="1.98" fill="#9f8177"/>
<rect x="85.5" y="556.05" width="1.7" height="1.98" fill="#a08278"/>
<rect x="87.15" y="556.14" width="1.7" height="1.98" fill="#8c6e64"/>
<rect x="88.8" y="556.23" width="1.7" height="1.98" fill="#95776d"/>
<rect x="90.45" y="556.32" width="1.7" height="1.98" fill="#72544a"/>
<rect x="92.1" y="556.41" width="1.7" height="1.98" fill="#96786e"/>
<rect x="93.75" y="556.5" width="1.7" height="1.98" fill="#87695f"/>
<rect x="95.4" y="556.59" width="1.7" height="1.98" fill="#97796f"/>
<rect x="97.05" y="556.68" width="1.7" height="1.98" fill="#917369"/>
<rect x="98.7" y="556.77" width="1.7" height="1.98" fill="#7e6056"/>
<rect x="100.35" y="556.86" width="1.7" height="1.98" fill="#72544a"/>
<line x1="84.18" y1="547.11" x2="100.02" y2="549.32" stroke="#c8c0b8" stroke-width="1.2" opacity="0.6"/>
<line x1="88.14" y1="544.62" x2="89.13" y2="558.18" stroke="#3a4a5a" stroke-width="1.2" opacity="0.6"/>
<line x1="94.08" y1="550.35" x2="100.02" y2="551.35" stroke="#e8e8e8" stroke-width="1.5" opacity="0.3"/>
</g>
<polygon points="104.7,543.83 124.4,544.9 124.4,561.9 104.7,560.83" fill="#141414"/>
<polygon points="104.7,545.53 124.4,546.6 124.4,560.1 104.7,559.03" fill="#4c4432"/>
<line x1="107.7" y1="541.79" x2="121.4" y2="542.54" stroke="#777" stroke-width="0.7"/>
<defs><clipPath id="tc11"><polygon points="104.7,545.53 124.4,546.6 124.4,560.1 104.7,559.03"/></clipPath></defs>
<g clip-path="url(#tc11)">
<rect x="104.7" y="545.53" width="1.69" height="1.98" fill="#625a48"/>
<rect x="106.34" y="545.62" width="1.69" height="1.98" fill="#38301e"/>
<rect x="107.98" y="545.71" width="1.69" height="1.98" fill="#4a4230"/>
<rect x="109.62" y="545.8" width="1.69" height="1.98" fill="#433b29"/>
<rect x="111.27" y="545.89" width="1.69" height="1.98" fill="#413927"/>
<rect x="112.91" y="545.98" width="1.69" height="1.98" fill="#58503e"/>
<rect x="114.55" y="546.07" width="1.69" height="1.98" fill="#645c4a"/>
<rect x="116.19" y="546.16" width="1.69" height="1.98" fill="#3f3725"/>
<rect x="117.83" y="546.25" width="1.69" height="1.98" fill="#544c3a"/>
<rect x="119.48" y="546.34" width="1.69" height="1.98" fill="#413927"/>
<rect x="121.12" y="546.42" width="1.69" height="1.98" fill="#4e4634"/>
<rect x="122.76" y="546.51" width="1.69" height="1.98" fill="#463e2c"/>
<rect x="104.7" y="547.46" width="1.69" height="1.98" fill="#3a3220"/>
<rect x="106.34" y="547.55" width="1.69" height="1.98" fill="#3a3220"/>
<rect x="107.98" y="547.64" width="1.69" height="1.98" fill="#3c3422"/>
<rect x="109.62" y="547.73" width="1.69" height="1.98" fill="#615947"/>
<rect x="111.27" y="547.82" width="1.69" height="1.98" fill="#4b4331"/>
<rect x="112.91" y="547.91" width="1.69" height="1.98" fill="#3d3523"/>
<rect x="114.55" y="547.99" width="1.69" height="1.98" fill="#615947"/>
<rect x="116.19" y="548.08" width="1.69" height="1.98" fill="#655d4b"/>
<rect x="117.83" y="548.17" width="1.69" height="1.98" fill="#49412f"/>
<rect x="119.48" y="548.26" width="1.69" height="1.98" fill="#39311f"/>
<rect x="121.12" y="548.35" width="1.69" height="1.98" fill="#3c3422"/>
<rect x="122.76" y="548.44" width="1.69" height="1.98" fill="#362e1c"/>
<rect x="104.7" y="549.39" width="1.69" height="1.98" fill="#433b29"/>
<rect x="106.34" y="549.48" width="1.69" height="1.98" fill="#362e1c"/>
<rect x="107.98" y="549.56" width="1.69" height="1.98" fill="#3e3624"/>
<rect x="109.62" y="549.65" width="1.69" height="1.98" fill="#3f3725"/>
<rect x="111.27" y="549.74" width="1.69" height="1.98" fill="#4f4735"/>
<rect x="112.91" y="549.83" width="1.69" height="1.98" fill="#605846"/>
<rect x="114.55" y="549.92" width="1.69" height="1.98" fill="#58503e"/>
<rect x="116.19" y="550.01" width="1.69" height="1.98" fill="#473f2d"/>
<rect x="117.83" y="550.1" width="1.69" height="1.98" fill="#473f2d"/>
<rect x="119.48" y="550.19" width="1.69" height="1.98" fill="#4d4533"/>
<rect x="121.12" y="550.28" width="1.69" height="1.98" fill="#453d2b"/>
<rect x="122.76" y="550.37" width="1.69" height="1.98" fill="#433b29"/>
<rect x="104.7" y="551.31" width="1.69" height="1.98" fill="#352d1b"/>
<rect x="106.34" y="551.4" width="1.69" height="1.98" fill="#403826"/>
<rect x="107.98" y="551.49" width="1.69" height="1.98" fill="#645c4a"/>
<rect x="109.62" y="551.58" width="1.69" height="1.98" fill="#38301e"/>
<rect x="111.27" y="551.67" width="1.69" height="1.98" fill="#4c4432"/>
<rect x="112.91" y="551.76" width="1.69" height="1.98" fill="#524a38"/>
<rect x="114.55" y="551.85" width="1.69" height="1.98" fill="#5e5644"/>
<rect x="116.19" y="551.94" width="1.69" height="1.98" fill="#3d3523"/>
<rect x="117.83" y="552.03" width="1.69" height="1.98" fill="#403826"/>
<rect x="119.48" y="552.12" width="1.69" height="1.98" fill="#3e3624"/>
<rect x="121.12" y="552.21" width="1.69" height="1.98" fill="#463e2c"/>
<rect x="122.76" y="552.3" width="1.69" height="1.98" fill="#49412f"/>
<rect x="104.7" y="553.24" width="1.69" height="1.98" fill="#635b49"/>
<rect x="106.34" y="553.33" width="1.69" height="1.98" fill="#5e5644"/>
<rect x="107.98" y="553.42" width="1.69" height="1.98" fill="#5f5745"/>
<rect x="109.62" y="553.51" width="1.69" height="1.98" fill="#332b19"/>
<rect x="111.27" y="553.6" width="1.69" height="1.98" fill="#332b19"/>
<rect x="112.91" y="553.69" width="1.69" height="1.98" fill="#564e3c"/>
<rect x="114.55" y="553.78" width="1.69" height="1.98" fill="#605846"/>
<rect x="116.19" y="553.87" width="1.69" height="1.98" fill="#4a4230"/>
<rect x="117.83" y="553.96" width="1.69" height="1.98" fill="#504836"/>
<rect x="119.48" y="554.05" width="1.69" height="1.98" fill="#322a18"/>
<rect x="121.12" y="554.14" width="1.69" height="1.98" fill="#463e2c"/>
<rect x="122.76" y="554.23" width="1.69" height="1.98" fill="#625a48"/>
<rect x="104.7" y="555.17" width="1.69" height="1.98" fill="#5c5442"/>
<rect x="106.34" y="555.26" width="1.69" height="1.98" fill="#5e5644"/>
<rect x="107.98" y="555.35" width="1.69" height="1.98" fill="#645c4a"/>
<rect x="109.62" y="555.44" width="1.69" height="1.98" fill="#3e3624"/>
<rect x="111.27" y="555.53" width="1.69" height="1.98" fill="#372f1d"/>
<rect x="112.91" y="555.62" width="1.69" height="1.98" fill="#3a3220"/>
<rect x="114.55" y="555.71" width="1.69" height="1.98" fill="#4d4533"/>
<rect x="116.19" y="555.8" width="1.69" height="1.98" fill="#554d3b"/>
<rect x="117.83" y="555.89" width="1.69" height="1.98" fill="#625a48"/>
<rect x="119.48" y="555.98" width="1.69" height="1.98" fill="#574f3d"/>
<rect x="121.12" y="556.07" width="1.69" height="1.98" fill="#534b39"/>
<rect x="122.76" y="556.16" width="1.69" height="1.98" fill="#59513f"/>
<rect x="104.7" y="557.1" width="1.69" height="1.98" fill="#49412f"/>
<rect x="106.34" y="557.19" width="1.69" height="1.98" fill="#4e4634"/>
<rect x="107.98" y="557.28" width="1.69" height="1.98" fill="#342c1a"/>
<rect x="109.62" y="557.37" width="1.69" height="1.98" fill="#5a5240"/>
<rect x="111.27" y="557.46" width="1.69" height="1.98" fill="#3e3624"/>
<rect x="112.91" y="557.55" width="1.69" height="1.98" fill="#615947"/>
<rect x="114.55" y="557.64" width="1.69" height="1.98" fill="#534b39"/>
<rect x="116.19" y="557.73" width="1.69" height="1.98" fill="#413927"/>
<rect x="117.83" y="557.82" width="1.69" height="1.98" fill="#38301e"/>
<rect x="119.48" y="557.91" width="1.69" height="1.98" fill="#3f3725"/>
<rect x="121.12" y="558" width="1.69" height="1.98" fill="#534b39"/>
<rect x="122.76" y="558.09" width="1.69" height="1.98" fill="#564e3c"/>
<line x1="106.67" y1="548.34" x2="122.43" y2="550.55" stroke="#c8c0b8" stroke-width="1.2" opacity="0.6"/>
<line x1="110.61" y1="545.85" x2="111.59" y2="559.4" stroke="#3a4a5a" stroke-width="1.2" opacity="0.6"/>
<line x1="116.52" y1="551.57" x2="122.43" y2="552.57" stroke="#e8e8e8" stroke-width="1.5" opacity="0.7"/>
</g>
<polygon points="127.3,545.06 147,546.14 147,563.14 127.3,562.06" fill="#141414"/>
<polygon points="127.3,546.76 147,547.84 147,561.34 127.3,560.26" fill="#7a6244"/>
<line x1="130.3" y1="543.03" x2="144" y2="543.77" stroke="#777" stroke-width="0.7"/>
<defs><clipPath id="tc12"><polygon points="127.3,546.76 147,547.84 147,561.34 127.3,560.26"/></clipPath></defs>
<g clip-path="url(#tc12)">
<rect x="127.3" y="546.76" width="1.69" height="1.98" fill="#654d2f"/>
<rect x="128.94" y="546.85" width="1.69" height="1.98" fill="#634b2d"/>
<rect x="130.58" y="546.94" width="1.69" height="1.98" fill="#7b6345"/>
<rect x="132.22" y="547.03" width="1.69" height="1.98" fill="#7e6648"/>
<rect x="133.87" y="547.12" width="1.69" height="1.98" fill="#745c3e"/>
<rect x="135.51" y="547.21" width="1.69" height="1.98" fill="#6b5335"/>
<rect x="137.15" y="547.3" width="1.69" height="1.98" fill="#7f6749"/>
<rect x="138.79" y="547.39" width="1.69" height="1.98" fill="#60482a"/>
<rect x="140.43" y="547.48" width="1.69" height="1.98" fill="#6f5739"/>
<rect x="142.07" y="547.57" width="1.69" height="1.98" fill="#775f41"/>
<rect x="143.72" y="547.66" width="1.69" height="1.98" fill="#91795b"/>
<rect x="145.36" y="547.75" width="1.69" height="1.98" fill="#81694b"/>
<rect x="127.3" y="548.69" width="1.69" height="1.98" fill="#8d7557"/>
<rect x="128.94" y="548.78" width="1.69" height="1.98" fill="#786042"/>
<rect x="130.58" y="548.87" width="1.69" height="1.98" fill="#6c5436"/>
<rect x="132.22" y="548.96" width="1.69" height="1.98" fill="#6c5436"/>
<rect x="133.87" y="549.05" width="1.69" height="1.98" fill="#91795b"/>
<rect x="135.51" y="549.14" width="1.69" height="1.98" fill="#846c4e"/>
<rect x="137.15" y="549.23" width="1.69" height="1.98" fill="#6f5739"/>
<rect x="138.79" y="549.32" width="1.69" height="1.98" fill="#61492b"/>
<rect x="140.43" y="549.41" width="1.69" height="1.98" fill="#796143"/>
<rect x="142.07" y="549.5" width="1.69" height="1.98" fill="#836b4d"/>
<rect x="143.72" y="549.59" width="1.69" height="1.98" fill="#755d3f"/>
<rect x="145.36" y="549.68" width="1.69" height="1.98" fill="#6d5537"/>
<rect x="127.3" y="550.62" width="1.69" height="1.98" fill="#826a4c"/>
<rect x="128.94" y="550.71" width="1.69" height="1.98" fill="#90785a"/>
<rect x="130.58" y="550.8" width="1.69" height="1.98" fill="#6b5335"/>
<rect x="132.22" y="550.89" width="1.69" height="1.98" fill="#61492b"/>
<rect x="133.87" y="550.98" width="1.69" height="1.98" fill="#71593b"/>
<rect x="135.51" y="551.07" width="1.69" height="1.98" fill="#755d3f"/>
<rect x="137.15" y="551.16" width="1.69" height="1.98" fill="#836b4d"/>
<rect x="138.79" y="551.25" width="1.69" height="1.98" fill="#6a5234"/>
<rect x="140.43" y="551.34" width="1.69" height="1.98" fill="#897153"/>
<rect x="142.07" y="551.43" width="1.69" height="1.98" fill="#866e50"/>
<rect x="143.72" y="551.52" width="1.69" height="1.98" fill="#7a6244"/>
<rect x="145.36" y="551.61" width="1.69" height="1.98" fill="#6a5234"/>
<rect x="127.3" y="552.55" width="1.69" height="1.98" fill="#927a5c"/>
<rect x="128.94" y="552.64" width="1.69" height="1.98" fill="#70583a"/>
<rect x="130.58" y="552.73" width="1.69" height="1.98" fill="#8a7254"/>
<rect x="132.22" y="552.82" width="1.69" height="1.98" fill="#6c5436"/>
<rect x="133.87" y="552.91" width="1.69" height="1.98" fill="#6b5335"/>
<rect x="135.51" y="553" width="1.69" height="1.98" fill="#876f51"/>
<rect x="137.15" y="553.09" width="1.69" height="1.98" fill="#6f5739"/>
<rect x="138.79" y="553.18" width="1.69" height="1.98" fill="#91795b"/>
<rect x="140.43" y="553.27" width="1.69" height="1.98" fill="#796143"/>
<rect x="142.07" y="553.35" width="1.69" height="1.98" fill="#695133"/>
<rect x="143.72" y="553.44" width="1.69" height="1.98" fill="#6b5335"/>
<rect x="145.36" y="553.53" width="1.69" height="1.98" fill="#755d3f"/>
<rect x="127.3" y="554.48" width="1.69" height="1.98" fill="#826a4c"/>
<rect x="128.94" y="554.57" width="1.69" height="1.98" fill="#91795b"/>
<rect x="130.58" y="554.66" width="1.69" height="1.98" fill="#674f31"/>
<rect x="132.22" y="554.75" width="1.69" height="1.98" fill="#745c3e"/>
<rect x="133.87" y="554.84" width="1.69" height="1.98" fill="#6b5335"/>
<rect x="135.51" y="554.92" width="1.69" height="1.98" fill="#927a5c"/>
<rect x="137.15" y="555.01" width="1.69" height="1.98" fill="#674f31"/>
<rect x="138.79" y="555.1" width="1.69" height="1.98" fill="#624a2c"/>
<rect x="140.43" y="555.19" width="1.69" height="1.98" fill="#634b2d"/>
<rect x="142.07" y="555.28" width="1.69" height="1.98" fill="#745c3e"/>
<rect x="143.72" y="555.37" width="1.69" height="1.98" fill="#8e7658"/>
<rect x="145.36" y="555.46" width="1.69" height="1.98" fill="#8d7557"/>
<rect x="127.3" y="556.41" width="1.69" height="1.98" fill="#866e50"/>
<rect x="128.94" y="556.49" width="1.69" height="1.98" fill="#937b5d"/>
<rect x="130.58" y="556.58" width="1.69" height="1.98" fill="#90785a"/>
<rect x="132.22" y="556.67" width="1.69" height="1.98" fill="#71593b"/>
<rect x="133.87" y="556.76" width="1.69" height="1.98" fill="#695133"/>
<rect x="135.51" y="556.85" width="1.69" height="1.98" fill="#90785a"/>
<rect x="137.15" y="556.94" width="1.69" height="1.98" fill="#866e50"/>
<rect x="138.79" y="557.03" width="1.69" height="1.98" fill="#61492b"/>
<rect x="140.43" y="557.12" width="1.69" height="1.98" fill="#826a4c"/>
<rect x="142.07" y="557.21" width="1.69" height="1.98" fill="#735b3d"/>
<rect x="143.72" y="557.3" width="1.69" height="1.98" fill="#735b3d"/>
<rect x="145.36" y="557.39" width="1.69" height="1.98" fill="#71593b"/>
<rect x="127.3" y="558.33" width="1.69" height="1.98" fill="#685032"/>
<rect x="128.94" y="558.42" width="1.69" height="1.98" fill="#60482a"/>
<rect x="130.58" y="558.51" width="1.69" height="1.98" fill="#6e5638"/>
<rect x="132.22" y="558.6" width="1.69" height="1.98" fill="#725a3c"/>
<rect x="133.87" y="558.69" width="1.69" height="1.98" fill="#91795b"/>
<rect x="135.51" y="558.78" width="1.69" height="1.98" fill="#664e30"/>
<rect x="137.15" y="558.87" width="1.69" height="1.98" fill="#927a5c"/>
<rect x="138.79" y="558.96" width="1.69" height="1.98" fill="#6a5234"/>
<rect x="140.43" y="559.05" width="1.69" height="1.98" fill="#725a3c"/>
<rect x="142.07" y="559.14" width="1.69" height="1.98" fill="#8a7254"/>
<rect x="143.72" y="559.23" width="1.69" height="1.98" fill="#8a7254"/>
<rect x="145.36" y="559.32" width="1.69" height="1.98" fill="#765e40"/>
<line x1="129.27" y1="549.57" x2="145.03" y2="551.78" stroke="#c8c0b8" stroke-width="1.2" opacity="0.6"/>
<line x1="133.21" y1="547.09" x2="134.19" y2="560.64" stroke="#3a4a5a" stroke-width="1.2" opacity="0.6"/>
<line x1="139.12" y1="552.81" x2="145.03" y2="553.81" stroke="#e8e8e8" stroke-width="1.5" opacity="0.3"/>
</g>
<polygon points="150,546.3 170,547.39 170,564.39 150,563.3" fill="#141414"/>
<polygon points="150,548 170,549.09 170,562.59 150,561.5" fill="#7c5c42"/>
<line x1="153" y1="544.27" x2="167" y2="545.03" stroke="#777" stroke-width="0.7"/>
<defs><clipPath id="tc13"><polygon points="150,548 170,549.09 170,562.59 150,561.5"/></clipPath></defs>
<g clip-path="url(#tc13)">
<rect x="150" y="548" width="1.72" height="1.98" fill="#64442a"/>
<rect x="151.67" y="548.09" width="1.72" height="1.98" fill="#7a5a40"/>
<rect x="153.33" y="548.18" width="1.72" height="1.98" fill="#75553b"/>
<rect x="155" y="548.27" width="1.72" height="1.98" fill="#917157"/>
<rect x="156.67" y="548.37" width="1.72" height="1.98" fill="#6c4c32"/>
<rect x="158.33" y="548.46" width="1.72" height="1.98" fill="#74543a"/>
<rect x="160" y="548.55" width="1.72" height="1.98" fill="#907056"/>
<rect x="161.67" y="548.64" width="1.72" height="1.98" fill="#634329"/>
<rect x="163.33" y="548.73" width="1.72" height="1.98" fill="#77573d"/>
<rect x="165" y="548.82" width="1.72" height="1.98" fill="#8c6c52"/>
<rect x="166.67" y="548.91" width="1.72" height="1.98" fill="#89694f"/>
<rect x="168.33" y="549" width="1.72" height="1.98" fill="#64442a"/>
<rect x="150" y="549.93" width="1.72" height="1.98" fill="#634329"/>
<rect x="151.67" y="550.02" width="1.72" height="1.98" fill="#65452b"/>
<rect x="153.33" y="550.11" width="1.72" height="1.98" fill="#917157"/>
<rect x="155" y="550.2" width="1.72" height="1.98" fill="#6f4f35"/>
<rect x="156.67" y="550.29" width="1.72" height="1.98" fill="#88684e"/>
<rect x="158.33" y="550.39" width="1.72" height="1.98" fill="#907056"/>
<rect x="160" y="550.48" width="1.72" height="1.98" fill="#735339"/>
<rect x="161.67" y="550.57" width="1.72" height="1.98" fill="#705036"/>
<rect x="163.33" y="550.66" width="1.72" height="1.98" fill="#937359"/>
<rect x="165" y="550.75" width="1.72" height="1.98" fill="#826248"/>
<rect x="166.67" y="550.84" width="1.72" height="1.98" fill="#6f4f35"/>
<rect x="168.33" y="550.93" width="1.72" height="1.98" fill="#87674d"/>
<rect x="150" y="551.86" width="1.72" height="1.98" fill="#725238"/>
<rect x="151.67" y="551.95" width="1.72" height="1.98" fill="#705036"/>
<rect x="153.33" y="552.04" width="1.72" height="1.98" fill="#624228"/>
<rect x="155" y="552.13" width="1.72" height="1.98" fill="#89694f"/>
<rect x="156.67" y="552.22" width="1.72" height="1.98" fill="#917157"/>
<rect x="158.33" y="552.31" width="1.72" height="1.98" fill="#826248"/>
<rect x="160" y="552.41" width="1.72" height="1.98" fill="#937359"/>
<rect x="161.67" y="552.5" width="1.72" height="1.98" fill="#634329"/>
<rect x="163.33" y="552.59" width="1.72" height="1.98" fill="#6e4e34"/>
<rect x="165" y="552.68" width="1.72" height="1.98" fill="#7a5a40"/>
<rect x="166.67" y="552.77" width="1.72" height="1.98" fill="#937359"/>
<rect x="168.33" y="552.86" width="1.72" height="1.98" fill="#937359"/>
<rect x="150" y="553.79" width="1.72" height="1.98" fill="#76563c"/>
<rect x="151.67" y="553.88" width="1.72" height="1.98" fill="#6f4f35"/>
<rect x="153.33" y="553.97" width="1.72" height="1.98" fill="#78583e"/>
<rect x="155" y="554.06" width="1.72" height="1.98" fill="#7b5b41"/>
<rect x="156.67" y="554.15" width="1.72" height="1.98" fill="#927258"/>
<rect x="158.33" y="554.24" width="1.72" height="1.98" fill="#6b4b31"/>
<rect x="160" y="554.33" width="1.72" height="1.98" fill="#8b6b51"/>
<rect x="161.67" y="554.42" width="1.72" height="1.98" fill="#88684e"/>
<rect x="163.33" y="554.52" width="1.72" height="1.98" fill="#8c6c52"/>
<rect x="165" y="554.61" width="1.72" height="1.98" fill="#8a6a50"/>
<rect x="166.67" y="554.7" width="1.72" height="1.98" fill="#816147"/>
<rect x="168.33" y="554.79" width="1.72" height="1.98" fill="#735339"/>
<rect x="150" y="555.72" width="1.72" height="1.98" fill="#725238"/>
<rect x="151.67" y="555.81" width="1.72" height="1.98" fill="#74543a"/>
<rect x="153.33" y="555.9" width="1.72" height="1.98" fill="#8a6a50"/>
<rect x="155" y="555.99" width="1.72" height="1.98" fill="#66462c"/>
<rect x="156.67" y="556.08" width="1.72" height="1.98" fill="#6c4c32"/>
<rect x="158.33" y="556.17" width="1.72" height="1.98" fill="#89694f"/>
<rect x="160" y="556.26" width="1.72" height="1.98" fill="#6e4e34"/>
<rect x="161.67" y="556.35" width="1.72" height="1.98" fill="#65452b"/>
<rect x="163.33" y="556.44" width="1.72" height="1.98" fill="#634329"/>
<rect x="165" y="556.54" width="1.72" height="1.98" fill="#7e5e44"/>
<rect x="166.67" y="556.63" width="1.72" height="1.98" fill="#725238"/>
<rect x="168.33" y="556.72" width="1.72" height="1.98" fill="#94745a"/>
<rect x="150" y="557.64" width="1.72" height="1.98" fill="#8f6f55"/>
<rect x="151.67" y="557.74" width="1.72" height="1.98" fill="#95755b"/>
<rect x="153.33" y="557.83" width="1.72" height="1.98" fill="#6f4f35"/>
<rect x="155" y="557.92" width="1.72" height="1.98" fill="#66462c"/>
<rect x="156.67" y="558.01" width="1.72" height="1.98" fill="#67472d"/>
<rect x="158.33" y="558.1" width="1.72" height="1.98" fill="#7b5b41"/>
<rect x="160" y="558.19" width="1.72" height="1.98" fill="#86664c"/>
<rect x="161.67" y="558.28" width="1.72" height="1.98" fill="#79593f"/>
<rect x="163.33" y="558.37" width="1.72" height="1.98" fill="#6e4e34"/>
<rect x="165" y="558.46" width="1.72" height="1.98" fill="#77573d"/>
<rect x="166.67" y="558.55" width="1.72" height="1.98" fill="#826248"/>
<rect x="168.33" y="558.65" width="1.72" height="1.98" fill="#85654b"/>
<rect x="150" y="559.57" width="1.72" height="1.98" fill="#88684e"/>
<rect x="151.67" y="559.66" width="1.72" height="1.98" fill="#8e6e54"/>
<rect x="153.33" y="559.76" width="1.72" height="1.98" fill="#84644a"/>
<rect x="155" y="559.85" width="1.72" height="1.98" fill="#68482e"/>
<rect x="156.67" y="559.94" width="1.72" height="1.98" fill="#8d6d53"/>
<rect x="158.33" y="560.03" width="1.72" height="1.98" fill="#715137"/>
<rect x="160" y="560.12" width="1.72" height="1.98" fill="#7f5f45"/>
<rect x="161.67" y="560.21" width="1.72" height="1.98" fill="#75553b"/>
<rect x="163.33" y="560.3" width="1.72" height="1.98" fill="#88684e"/>
<rect x="165" y="560.39" width="1.72" height="1.98" fill="#6c4c32"/>
<rect x="166.67" y="560.48" width="1.72" height="1.98" fill="#6e4e34"/>
<rect x="168.33" y="560.57" width="1.72" height="1.98" fill="#6e4e34"/>
<line x1="146" y1="561.28" x2="154" y2="548.22" stroke="#3a2a20" stroke-width="1.1" opacity="0.7"/>
<line x1="149" y1="561.45" x2="157" y2="548.38" stroke="#b09070" stroke-width="0.7" opacity="0.6"/>
<line x1="152" y1="561.61" x2="160" y2="548.55" stroke="#3a2a20" stroke-width="1.1" opacity="0.7"/>
<line x1="155" y1="561.77" x2="163" y2="548.71" stroke="#b09070" stroke-width="0.7" opacity="0.6"/>
<line x1="158" y1="561.94" x2="166" y2="548.88" stroke="#3a2a20" stroke-width="1.1" opacity="0.7"/>
<line x1="161" y1="562.1" x2="169" y2="549.04" stroke="#b09070" stroke-width="0.7" opacity="0.6"/>
<line x1="164" y1="562.27" x2="172" y2="549.2" stroke="#3a2a20" stroke-width="1.1" opacity="0.7"/>
<line x1="167" y1="562.43" x2="175" y2="549.37" stroke="#b09070" stroke-width="0.7" opacity="0.6"/>
<line x1="170" y1="562.59" x2="178" y2="549.53" stroke="#3a2a20" stroke-width="1.1" opacity="0.7"/>
<line x1="173" y1="562.76" x2="181" y2="549.69" stroke="#b09070" stroke-width="0.7" opacity="0.6"/>
</g>
<polygon points="172.7,547.54 193,548.65 193,565.65 172.7,564.54" fill="#141414"/>
<polygon points="172.7,549.24 193,550.35 193,563.85 172.7,562.74" fill="#80603f"/>
<line x1="175.7" y1="545.51" x2="190" y2="546.29" stroke="#777" stroke-width="0.7"/>
<defs><clipPath id="tc14"><polygon points="172.7,549.24 193,550.35 193,563.85 172.7,562.74"/></clipPath></defs>
<g clip-path="url(#tc14)">
<rect x="172.7" y="549.24" width="1.74" height="1.98" fill="#6d4d2c"/>
<rect x="174.39" y="549.33" width="1.74" height="1.98" fill="#937352"/>
<rect x="176.08" y="549.43" width="1.74" height="1.98" fill="#846443"/>
<rect x="177.77" y="549.52" width="1.74" height="1.98" fill="#765635"/>
<rect x="179.47" y="549.61" width="1.74" height="1.98" fill="#7a5a39"/>
<rect x="181.16" y="549.7" width="1.74" height="1.98" fill="#997958"/>
<rect x="182.85" y="549.8" width="1.74" height="1.98" fill="#80603f"/>
<rect x="184.54" y="549.89" width="1.74" height="1.98" fill="#725231"/>
<rect x="186.23" y="549.98" width="1.74" height="1.98" fill="#90704f"/>
<rect x="187.93" y="550.07" width="1.74" height="1.98" fill="#876746"/>
<rect x="189.62" y="550.16" width="1.74" height="1.98" fill="#997958"/>
<rect x="191.31" y="550.26" width="1.74" height="1.98" fill="#6b4b2a"/>
<rect x="172.7" y="551.17" width="1.74" height="1.98" fill="#7e5e3d"/>
<rect x="174.39" y="551.26" width="1.74" height="1.98" fill="#90704f"/>
<rect x="176.08" y="551.35" width="1.74" height="1.98" fill="#917150"/>
<rect x="177.77" y="551.45" width="1.74" height="1.98" fill="#957554"/>
<rect x="179.47" y="551.54" width="1.74" height="1.98" fill="#684827"/>
<rect x="181.16" y="551.63" width="1.74" height="1.98" fill="#755534"/>
<rect x="182.85" y="551.72" width="1.74" height="1.98" fill="#6c4c2b"/>
<rect x="184.54" y="551.82" width="1.74" height="1.98" fill="#6f4f2e"/>
<rect x="186.23" y="551.91" width="1.74" height="1.98" fill="#987857"/>
<rect x="187.93" y="552" width="1.74" height="1.98" fill="#846443"/>
<rect x="189.62" y="552.09" width="1.74" height="1.98" fill="#967655"/>
<rect x="191.31" y="552.19" width="1.74" height="1.98" fill="#795938"/>
<rect x="172.7" y="553.1" width="1.74" height="1.98" fill="#937352"/>
<rect x="174.39" y="553.19" width="1.74" height="1.98" fill="#7d5d3c"/>
<rect x="176.08" y="553.28" width="1.74" height="1.98" fill="#735332"/>
<rect x="177.77" y="553.38" width="1.74" height="1.98" fill="#8e6e4d"/>
<rect x="179.47" y="553.47" width="1.74" height="1.98" fill="#977756"/>
<rect x="181.16" y="553.56" width="1.74" height="1.98" fill="#6b4b2a"/>
<rect x="182.85" y="553.65" width="1.74" height="1.98" fill="#846443"/>
<rect x="184.54" y="553.74" width="1.74" height="1.98" fill="#866645"/>
<rect x="186.23" y="553.84" width="1.74" height="1.98" fill="#715130"/>
<rect x="187.93" y="553.93" width="1.74" height="1.98" fill="#795938"/>
<rect x="189.62" y="554.02" width="1.74" height="1.98" fill="#6d4d2c"/>
<rect x="191.31" y="554.11" width="1.74" height="1.98" fill="#70502f"/>
<rect x="172.7" y="555.03" width="1.74" height="1.98" fill="#735332"/>
<rect x="174.39" y="555.12" width="1.74" height="1.98" fill="#856544"/>
<rect x="176.08" y="555.21" width="1.74" height="1.98" fill="#876746"/>
<rect x="177.77" y="555.3" width="1.74" height="1.98" fill="#70502f"/>
<rect x="179.47" y="555.4" width="1.74" height="1.98" fill="#664625"/>
<rect x="181.16" y="555.49" width="1.74" height="1.98" fill="#775736"/>
<rect x="182.85" y="555.58" width="1.74" height="1.98" fill="#896948"/>
<rect x="184.54" y="555.67" width="1.74" height="1.98" fill="#6f4f2e"/>
<rect x="186.23" y="555.77" width="1.74" height="1.98" fill="#765635"/>
<rect x="187.93" y="555.86" width="1.74" height="1.98" fill="#70502f"/>
<rect x="189.62" y="555.95" width="1.74" height="1.98" fill="#8f6f4e"/>
<rect x="191.31" y="556.04" width="1.74" height="1.98" fill="#826241"/>
<rect x="172.7" y="556.96" width="1.74" height="1.98" fill="#694928"/>
<rect x="174.39" y="557.05" width="1.74" height="1.98" fill="#6b4b2a"/>
<rect x="176.08" y="557.14" width="1.74" height="1.98" fill="#7a5a39"/>
<rect x="177.77" y="557.23" width="1.74" height="1.98" fill="#826241"/>
<rect x="179.47" y="557.33" width="1.74" height="1.98" fill="#876746"/>
<rect x="181.16" y="557.42" width="1.74" height="1.98" fill="#6a4a29"/>
<rect x="182.85" y="557.51" width="1.74" height="1.98" fill="#6e4e2d"/>
<rect x="184.54" y="557.6" width="1.74" height="1.98" fill="#8a6a49"/>
<rect x="186.23" y="557.69" width="1.74" height="1.98" fill="#7b5b3a"/>
<rect x="187.93" y="557.79" width="1.74" height="1.98" fill="#745433"/>
<rect x="189.62" y="557.88" width="1.74" height="1.98" fill="#755534"/>
<rect x="191.31" y="557.97" width="1.74" height="1.98" fill="#977756"/>
<rect x="172.7" y="558.88" width="1.74" height="1.98" fill="#765635"/>
<rect x="174.39" y="558.98" width="1.74" height="1.98" fill="#836342"/>
<rect x="176.08" y="559.07" width="1.74" height="1.98" fill="#785837"/>
<rect x="177.77" y="559.16" width="1.74" height="1.98" fill="#7b5b3a"/>
<rect x="179.47" y="559.25" width="1.74" height="1.98" fill="#927251"/>
<rect x="181.16" y="559.35" width="1.74" height="1.98" fill="#997958"/>
<rect x="182.85" y="559.44" width="1.74" height="1.98" fill="#785837"/>
<rect x="184.54" y="559.53" width="1.74" height="1.98" fill="#70502f"/>
<rect x="186.23" y="559.62" width="1.74" height="1.98" fill="#8b6b4a"/>
<rect x="187.93" y="559.72" width="1.74" height="1.98" fill="#70502f"/>
<rect x="189.62" y="559.81" width="1.74" height="1.98" fill="#664625"/>
<rect x="191.31" y="559.9" width="1.74" height="1.98" fill="#947453"/>
<rect x="172.7" y="560.81" width="1.74" height="1.98" fill="#7c5c3b"/>
<rect x="174.39" y="560.91" width="1.74" height="1.98" fill="#90704f"/>
<rect x="176.08" y="561" width="1.74" height="1.98" fill="#7b5b3a"/>
<rect x="177.77" y="561.09" width="1.74" height="1.98" fill="#937352"/>
<rect x="179.47" y="561.18" width="1.74" height="1.98" fill="#7d5d3c"/>
<rect x="181.16" y="561.27" width="1.74" height="1.98" fill="#6e4e2d"/>
<rect x="182.85" y="561.37" width="1.74" height="1.98" fill="#664625"/>
<rect x="184.54" y="561.46" width="1.74" height="1.98" fill="#826241"/>
<rect x="186.23" y="561.55" width="1.74" height="1.98" fill="#876746"/>
<rect x="187.93" y="561.64" width="1.74" height="1.98" fill="#957554"/>
<rect x="189.62" y="561.74" width="1.74" height="1.98" fill="#6a4a29"/>
<rect x="191.31" y="561.83" width="1.74" height="1.98" fill="#866645"/>
<line x1="168.64" y1="562.52" x2="176.76" y2="549.46" stroke="#3a2a20" stroke-width="1.1" opacity="0.7"/>
<line x1="171.69" y1="562.69" x2="179.8" y2="549.63" stroke="#b09070" stroke-width="0.7" opacity="0.6"/>
<line x1="174.73" y1="562.85" x2="182.85" y2="549.8" stroke="#3a2a20" stroke-width="1.1" opacity="0.7"/>
<line x1="177.77" y1="563.02" x2="185.89" y2="549.96" stroke="#b09070" stroke-width="0.7" opacity="0.6"/>
<line x1="180.82" y1="563.18" x2="188.94" y2="550.13" stroke="#3a2a20" stroke-width="1.1" opacity="0.7"/>
<line x1="183.86" y1="563.35" x2="191.99" y2="550.29" stroke="#b09070" stroke-width="0.7" opacity="0.6"/>
<line x1="186.91" y1="563.52" x2="195.03" y2="550.46" stroke="#3a2a20" stroke-width="1.1" opacity="0.7"/>
<line x1="189.95" y1="563.68" x2="198.07" y2="550.63" stroke="#b09070" stroke-width="0.7" opacity="0.6"/>
<line x1="193" y1="563.85" x2="201.12" y2="550.79" stroke="#3a2a20" stroke-width="1.1" opacity="0.7"/>
<line x1="196.04" y1="564.02" x2="204.16" y2="550.96" stroke="#b09070" stroke-width="0.7" opacity="0.6"/>
</g>
<polygon points="195.8,548.8 216.4,549.93 216.4,566.93 195.8,565.8" fill="#141414"/>
<polygon points="195.8,550.5 216.4,551.63 216.4,565.13 195.8,564" fill="#7c5c48"/>
<line x1="198.8" y1="546.77" x2="213.4" y2="547.56" stroke="#777" stroke-width="0.7"/>
<defs><clipPath id="tc15"><polygon points="195.8,550.5 216.4,551.63 216.4,565.13 195.8,564"/></clipPath></defs>
<g clip-path="url(#tc15)">
<rect x="195.8" y="550.5" width="1.77" height="1.98" fill="#755541"/>
<rect x="197.52" y="550.6" width="1.77" height="1.98" fill="#7c5c48"/>
<rect x="199.23" y="550.69" width="1.77" height="1.98" fill="#694935"/>
<rect x="200.95" y="550.78" width="1.77" height="1.98" fill="#70503c"/>
<rect x="202.67" y="550.88" width="1.77" height="1.98" fill="#7d5d49"/>
<rect x="204.38" y="550.97" width="1.77" height="1.98" fill="#92725e"/>
<rect x="206.1" y="551.06" width="1.77" height="1.98" fill="#674733"/>
<rect x="207.82" y="551.16" width="1.77" height="1.98" fill="#7b5b47"/>
<rect x="209.53" y="551.25" width="1.77" height="1.98" fill="#8b6b57"/>
<rect x="211.25" y="551.35" width="1.77" height="1.98" fill="#947460"/>
<rect x="212.97" y="551.44" width="1.77" height="1.98" fill="#6c4c38"/>
<rect x="214.68" y="551.53" width="1.77" height="1.98" fill="#684834"/>
<rect x="195.8" y="552.43" width="1.77" height="1.98" fill="#93735f"/>
<rect x="197.52" y="552.52" width="1.77" height="1.98" fill="#947460"/>
<rect x="199.23" y="552.62" width="1.77" height="1.98" fill="#7b5b47"/>
<rect x="200.95" y="552.71" width="1.77" height="1.98" fill="#644430"/>
<rect x="202.67" y="552.81" width="1.77" height="1.98" fill="#92725e"/>
<rect x="204.38" y="552.9" width="1.77" height="1.98" fill="#765642"/>
<rect x="206.1" y="552.99" width="1.77" height="1.98" fill="#91715d"/>
<rect x="207.82" y="553.09" width="1.77" height="1.98" fill="#82624e"/>
<rect x="209.53" y="553.18" width="1.77" height="1.98" fill="#8c6c58"/>
<rect x="211.25" y="553.27" width="1.77" height="1.98" fill="#6a4a36"/>
<rect x="212.97" y="553.37" width="1.77" height="1.98" fill="#8a6a56"/>
<rect x="214.68" y="553.46" width="1.77" height="1.98" fill="#6d4d39"/>
<rect x="195.8" y="554.36" width="1.77" height="1.98" fill="#775743"/>
<rect x="197.52" y="554.45" width="1.77" height="1.98" fill="#8e6e5a"/>
<rect x="199.23" y="554.55" width="1.77" height="1.98" fill="#8d6d59"/>
<rect x="200.95" y="554.64" width="1.77" height="1.98" fill="#6b4b37"/>
<rect x="202.67" y="554.73" width="1.77" height="1.98" fill="#6d4d39"/>
<rect x="204.38" y="554.83" width="1.77" height="1.98" fill="#765642"/>
<rect x="206.1" y="554.92" width="1.77" height="1.98" fill="#7c5c48"/>
<rect x="207.82" y="555.02" width="1.77" height="1.98" fill="#755541"/>
<rect x="209.53" y="555.11" width="1.77" height="1.98" fill="#684834"/>
<rect x="211.25" y="555.2" width="1.77" height="1.98" fill="#6e4e3a"/>
<rect x="212.97" y="555.3" width="1.77" height="1.98" fill="#876753"/>
<rect x="214.68" y="555.39" width="1.77" height="1.98" fill="#90705c"/>
<rect x="195.8" y="556.29" width="1.77" height="1.98" fill="#644430"/>
<rect x="197.52" y="556.38" width="1.77" height="1.98" fill="#7f5f4b"/>
<rect x="199.23" y="556.48" width="1.77" height="1.98" fill="#896955"/>
<rect x="200.95" y="556.57" width="1.77" height="1.98" fill="#63432f"/>
<rect x="202.67" y="556.66" width="1.77" height="1.98" fill="#8d6d59"/>
<rect x="204.38" y="556.76" width="1.77" height="1.98" fill="#684834"/>
<rect x="206.1" y="556.85" width="1.77" height="1.98" fill="#81614d"/>
<rect x="207.82" y="556.94" width="1.77" height="1.98" fill="#7e5e4a"/>
<rect x="209.53" y="557.04" width="1.77" height="1.98" fill="#82624e"/>
<rect x="211.25" y="557.13" width="1.77" height="1.98" fill="#71513d"/>
<rect x="212.97" y="557.23" width="1.77" height="1.98" fill="#775743"/>
<rect x="214.68" y="557.32" width="1.77" height="1.98" fill="#80604c"/>
<rect x="195.8" y="558.22" width="1.77" height="1.98" fill="#785844"/>
<rect x="197.52" y="558.31" width="1.77" height="1.98" fill="#846450"/>
<rect x="199.23" y="558.4" width="1.77" height="1.98" fill="#795945"/>
<rect x="200.95" y="558.5" width="1.77" height="1.98" fill="#785844"/>
<rect x="202.67" y="558.59" width="1.77" height="1.98" fill="#63432f"/>
<rect x="204.38" y="558.69" width="1.77" height="1.98" fill="#82624e"/>
<rect x="206.1" y="558.78" width="1.77" height="1.98" fill="#7b5b47"/>
<rect x="207.82" y="558.87" width="1.77" height="1.98" fill="#6e4e3a"/>
<rect x="209.53" y="558.97" width="1.77" height="1.98" fill="#896955"/>
<rect x="211.25" y="559.06" width="1.77" height="1.98" fill="#8a6a56"/>
<rect x="212.97" y="559.15" width="1.77" height="1.98" fill="#795945"/>
<rect x="214.68" y="559.25" width="1.77" height="1.98" fill="#6b4b37"/>
<rect x="195.8" y="560.15" width="1.77" height="1.98" fill="#7a5a46"/>
<rect x="197.52" y="560.24" width="1.77" height="1.98" fill="#674733"/>
<rect x="199.23" y="560.33" width="1.77" height="1.98" fill="#684834"/>
<rect x="200.95" y="560.43" width="1.77" height="1.98" fill="#785844"/>
<rect x="202.67" y="560.52" width="1.77" height="1.98" fill="#664632"/>
<rect x="204.38" y="560.61" width="1.77" height="1.98" fill="#785844"/>
<rect x="206.1" y="560.71" width="1.77" height="1.98" fill="#7c5c48"/>
<rect x="207.82" y="560.8" width="1.77" height="1.98" fill="#644430"/>
<rect x="209.53" y="560.9" width="1.77" height="1.98" fill="#83634f"/>
<rect x="211.25" y="560.99" width="1.77" height="1.98" fill="#664632"/>
<rect x="212.97" y="561.08" width="1.77" height="1.98" fill="#886854"/>
<rect x="214.68" y="561.18" width="1.77" height="1.98" fill="#8a6a56"/>
<rect x="195.8" y="562.07" width="1.77" height="1.98" fill="#7c5c48"/>
<rect x="197.52" y="562.17" width="1.77" height="1.98" fill="#644430"/>
<rect x="199.23" y="562.26" width="1.77" height="1.98" fill="#7c5c48"/>
<rect x="200.95" y="562.36" width="1.77" height="1.98" fill="#755541"/>
<rect x="202.67" y="562.45" width="1.77" height="1.98" fill="#93735f"/>
<rect x="204.38" y="562.54" width="1.77" height="1.98" fill="#694935"/>
<rect x="206.1" y="562.64" width="1.77" height="1.98" fill="#8e6e5a"/>
<rect x="207.82" y="562.73" width="1.77" height="1.98" fill="#957561"/>
<rect x="209.53" y="562.82" width="1.77" height="1.98" fill="#886854"/>
<rect x="211.25" y="562.92" width="1.77" height="1.98" fill="#8c6c58"/>
<rect x="212.97" y="563.01" width="1.77" height="1.98" fill="#6c4c38"/>
<rect x="214.68" y="563.11" width="1.77" height="1.98" fill="#957561"/>
<line x1="191.68" y1="563.78" x2="199.92" y2="550.73" stroke="#3a2a20" stroke-width="1.1" opacity="0.7"/>
<line x1="194.77" y1="563.95" x2="203.01" y2="550.9" stroke="#b09070" stroke-width="0.7" opacity="0.6"/>
<line x1="197.86" y1="564.12" x2="206.1" y2="551.06" stroke="#3a2a20" stroke-width="1.1" opacity="0.7"/>
<line x1="200.95" y1="564.28" x2="209.19" y2="551.23" stroke="#b09070" stroke-width="0.7" opacity="0.6"/>
<line x1="204.04" y1="564.45" x2="212.28" y2="551.4" stroke="#3a2a20" stroke-width="1.1" opacity="0.7"/>
<line x1="207.13" y1="564.62" x2="215.37" y2="551.57" stroke="#b09070" stroke-width="0.7" opacity="0.6"/>
<line x1="210.22" y1="564.79" x2="218.46" y2="551.74" stroke="#3a2a20" stroke-width="1.1" opacity="0.7"/>
<line x1="213.31" y1="564.96" x2="221.55" y2="551.91" stroke="#b09070" stroke-width="0.7" opacity="0.6"/>
<line x1="216.4" y1="565.13" x2="224.64" y2="552.08" stroke="#3a2a20" stroke-width="1.1" opacity="0.7"/>
<line x1="219.49" y1="565.3" x2="227.73" y2="552.25" stroke="#b09070" stroke-width="0.7" opacity="0.6"/>
</g>
<polygon points="82.2,566.2 102,567.28 102,584.28 82.2,583.2" fill="#141414"/>
<polygon points="82.2,567.9 102,568.98 102,582.48 82.2,581.4" fill="#5e6e5a"/>
<line x1="85.2" y1="564.16" x2="99" y2="564.92" stroke="#777" stroke-width="0.7"/>
<defs><clipPath id="tc20"><polygon points="82.2,567.9 102,568.98 102,582.48 82.2,581.4"/></clipPath></defs>
<g clip-path="url(#tc20)">
<rect x="82.2" y="567.9" width="1.7" height="1.98" fill="#5d6d59"/>
<rect x="83.85" y="567.99" width="1.7" height="1.98" fill="#758571"/>
<rect x="85.5" y="568.08" width="1.7" height="1.98" fill="#73836f"/>
<rect x="87.15" y="568.17" width="1.7" height="1.98" fill="#4c5c48"/>
<rect x="88.8" y="568.26" width="1.7" height="1.98" fill="#6c7c68"/>
<rect x="90.45" y="568.35" width="1.7" height="1.98" fill="#748470"/>
<rect x="92.1" y="568.44" width="1.7" height="1.98" fill="#475743"/>
<rect x="93.75" y="568.53" width="1.7" height="1.98" fill="#566652"/>
<rect x="95.4" y="568.62" width="1.7" height="1.98" fill="#6b7b67"/>
<rect x="97.05" y="568.71" width="1.7" height="1.98" fill="#4c5c48"/>
<rect x="98.7" y="568.8" width="1.7" height="1.98" fill="#72826e"/>
<rect x="100.35" y="568.89" width="1.7" height="1.98" fill="#52624e"/>
<rect x="82.2" y="569.83" width="1.7" height="1.98" fill="#6e7e6a"/>
<rect x="83.85" y="569.92" width="1.7" height="1.98" fill="#4b5b47"/>
<rect x="85.5" y="570.01" width="1.7" height="1.98" fill="#5e6e5a"/>
<rect x="87.15" y="570.1" width="1.7" height="1.98" fill="#73836f"/>
<rect x="88.8" y="570.19" width="1.7" height="1.98" fill="#4e5e4a"/>
<rect x="90.45" y="570.28" width="1.7" height="1.98" fill="#51614d"/>
<rect x="92.1" y="570.37" width="1.7" height="1.98" fill="#5e6e5a"/>
<rect x="93.75" y="570.46" width="1.7" height="1.98" fill="#546450"/>
<rect x="95.4" y="570.55" width="1.7" height="1.98" fill="#455541"/>
<rect x="97.05" y="570.64" width="1.7" height="1.98" fill="#4d5d49"/>
<rect x="98.7" y="570.73" width="1.7" height="1.98" fill="#4c5c48"/>
<rect x="100.35" y="570.82" width="1.7" height="1.98" fill="#748470"/>
<rect x="82.2" y="571.76" width="1.7" height="1.98" fill="#677763"/>
<rect x="83.85" y="571.85" width="1.7" height="1.98" fill="#72826e"/>
<rect x="85.5" y="571.94" width="1.7" height="1.98" fill="#4c5c48"/>
<rect x="87.15" y="572.03" width="1.7" height="1.98" fill="#6c7c68"/>
<rect x="88.8" y="572.12" width="1.7" height="1.98" fill="#495945"/>
<rect x="90.45" y="572.21" width="1.7" height="1.98" fill="#5f6f5b"/>
<rect x="92.1" y="572.3" width="1.7" height="1.98" fill="#657561"/>
<rect x="93.75" y="572.39" width="1.7" height="1.98" fill="#566652"/>
<rect x="95.4" y="572.48" width="1.7" height="1.98" fill="#71816d"/>
<rect x="97.05" y="572.57" width="1.7" height="1.98" fill="#60705c"/>
<rect x="98.7" y="572.66" width="1.7" height="1.98" fill="#62725e"/>
<rect x="100.35" y="572.75" width="1.7" height="1.98" fill="#71816d"/>
<rect x="82.2" y="573.69" width="1.7" height="1.98" fill="#495945"/>
<rect x="83.85" y="573.78" width="1.7" height="1.98" fill="#778773"/>
<rect x="85.5" y="573.87" width="1.7" height="1.98" fill="#647460"/>
<rect x="87.15" y="573.96" width="1.7" height="1.98" fill="#586854"/>
<rect x="88.8" y="574.05" width="1.7" height="1.98" fill="#6d7d69"/>
<rect x="90.45" y="574.14" width="1.7" height="1.98" fill="#51614d"/>
<rect x="92.1" y="574.23" width="1.7" height="1.98" fill="#778773"/>
<rect x="93.75" y="574.32" width="1.7" height="1.98" fill="#62725e"/>
<rect x="95.4" y="574.41" width="1.7" height="1.98" fill="#566652"/>
<rect x="97.05" y="574.5" width="1.7" height="1.98" fill="#6b7b67"/>
<rect x="98.7" y="574.59" width="1.7" height="1.98" fill="#5a6a56"/>
<rect x="100.35" y="574.68" width="1.7" height="1.98" fill="#4d5d49"/>
<rect x="82.2" y="575.61" width="1.7" height="1.98" fill="#6a7a66"/>
<rect x="83.85" y="575.7" width="1.7" height="1.98" fill="#465642"/>
<rect x="85.5" y="575.79" width="1.7" height="1.98" fill="#6e7e6a"/>
<rect x="87.15" y="575.88" width="1.7" height="1.98" fill="#51614d"/>
<rect x="88.8" y="575.97" width="1.7" height="1.98" fill="#657561"/>
<rect x="90.45" y="576.06" width="1.7" height="1.98" fill="#778773"/>
<rect x="92.1" y="576.15" width="1.7" height="1.98" fill="#62725e"/>
<rect x="93.75" y="576.24" width="1.7" height="1.98" fill="#667662"/>
<rect x="95.4" y="576.34" width="1.7" height="1.98" fill="#546450"/>
<rect x="97.05" y="576.43" width="1.7" height="1.98" fill="#445440"/>
<rect x="98.7" y="576.52" width="1.7" height="1.98" fill="#455541"/>
<rect x="100.35" y="576.61" width="1.7" height="1.98" fill="#4b5b47"/>
<rect x="82.2" y="577.54" width="1.7" height="1.98" fill="#647460"/>
<rect x="83.85" y="577.63" width="1.7" height="1.98" fill="#5a6a56"/>
<rect x="85.5" y="577.72" width="1.7" height="1.98" fill="#5e6e5a"/>
<rect x="87.15" y="577.81" width="1.7" height="1.98" fill="#72826e"/>
<rect x="88.8" y="577.9" width="1.7" height="1.98" fill="#4a5a46"/>
<rect x="90.45" y="577.99" width="1.7" height="1.98" fill="#4f5f4b"/>
<rect x="92.1" y="578.08" width="1.7" height="1.98" fill="#657561"/>
<rect x="93.75" y="578.17" width="1.7" height="1.98" fill="#455541"/>
<rect x="95.4" y="578.26" width="1.7" height="1.98" fill="#445440"/>
<rect x="97.05" y="578.35" width="1.7" height="1.98" fill="#566652"/>
<rect x="98.7" y="578.44" width="1.7" height="1.98" fill="#495945"/>
<rect x="100.35" y="578.53" width="1.7" height="1.98" fill="#566652"/>
<rect x="82.2" y="579.47" width="1.7" height="1.98" fill="#4f5f4b"/>
<rect x="83.85" y="579.56" width="1.7" height="1.98" fill="#62725e"/>
<rect x="85.5" y="579.65" width="1.7" height="1.98" fill="#62725e"/>
<rect x="87.15" y="579.74" width="1.7" height="1.98" fill="#4e5e4a"/>
<rect x="88.8" y="579.83" width="1.7" height="1.98" fill="#647460"/>
<rect x="90.45" y="579.92" width="1.7" height="1.98" fill="#5c6c58"/>
<rect x="92.1" y="580.01" width="1.7" height="1.98" fill="#4b5b47"/>
<rect x="93.75" y="580.1" width="1.7" height="1.98" fill="#748470"/>
<rect x="95.4" y="580.19" width="1.7" height="1.98" fill="#50604c"/>
<rect x="97.05" y="580.28" width="1.7" height="1.98" fill="#4b5b47"/>
<rect x="98.7" y="580.37" width="1.7" height="1.98" fill="#485844"/>
<rect x="100.35" y="580.46" width="1.7" height="1.98" fill="#657561"/>
<line x1="82.2" y1="577.35" x2="102" y2="575.73" stroke="#8a9a8a" stroke-width="1.2" opacity="0.85"/>
<line x1="86.16" y1="581.62" x2="94.08" y2="572.6" stroke="#c0c8c0" stroke-width="0.8" opacity="0.85"/>
</g>
<polygon points="82.2,567.9 102,568.98 102,571.78 82.2,570.2" fill="#a8bcd0"/>
<polygon points="104.7,567.43 124.4,568.5 124.4,585.5 104.7,584.43" fill="#141414"/>
<polygon points="104.7,569.13 124.4,570.2 124.4,583.7 104.7,582.63" fill="#5a6a58"/>
<line x1="107.7" y1="565.39" x2="121.4" y2="566.14" stroke="#777" stroke-width="0.7"/>
<defs><clipPath id="tc21"><polygon points="104.7,569.13 124.4,570.2 124.4,583.7 104.7,582.63"/></clipPath></defs>
<g clip-path="url(#tc21)">
<rect x="104.7" y="569.13" width="1.69" height="1.98" fill="#6d7d6b"/>
<rect x="106.34" y="569.22" width="1.69" height="1.98" fill="#687866"/>
<rect x="107.98" y="569.31" width="1.69" height="1.98" fill="#546452"/>
<rect x="109.62" y="569.4" width="1.69" height="1.98" fill="#4d5d4b"/>
<rect x="111.27" y="569.49" width="1.69" height="1.98" fill="#40503e"/>
<rect x="112.91" y="569.58" width="1.69" height="1.98" fill="#61715f"/>
<rect x="114.55" y="569.67" width="1.69" height="1.98" fill="#5d6d5b"/>
<rect x="116.19" y="569.76" width="1.69" height="1.98" fill="#526250"/>
<rect x="117.83" y="569.85" width="1.69" height="1.98" fill="#61715f"/>
<rect x="119.48" y="569.94" width="1.69" height="1.98" fill="#576755"/>
<rect x="121.12" y="570.02" width="1.69" height="1.98" fill="#70806e"/>
<rect x="122.76" y="570.11" width="1.69" height="1.98" fill="#667664"/>
<rect x="104.7" y="571.06" width="1.69" height="1.98" fill="#4c5c4a"/>
<rect x="106.34" y="571.15" width="1.69" height="1.98" fill="#6e7e6c"/>
<rect x="107.98" y="571.24" width="1.69" height="1.98" fill="#425240"/>
<rect x="109.62" y="571.33" width="1.69" height="1.98" fill="#5b6b59"/>
<rect x="111.27" y="571.42" width="1.69" height="1.98" fill="#556553"/>
<rect x="112.91" y="571.51" width="1.69" height="1.98" fill="#4c5c4a"/>
<rect x="114.55" y="571.59" width="1.69" height="1.98" fill="#435341"/>
<rect x="116.19" y="571.68" width="1.69" height="1.98" fill="#687866"/>
<rect x="117.83" y="571.77" width="1.69" height="1.98" fill="#40503e"/>
<rect x="119.48" y="571.86" width="1.69" height="1.98" fill="#5c6c5a"/>
<rect x="121.12" y="571.95" width="1.69" height="1.98" fill="#70806e"/>
<rect x="122.76" y="572.04" width="1.69" height="1.98" fill="#475745"/>
<rect x="104.7" y="572.99" width="1.69" height="1.98" fill="#4a5a48"/>
<rect x="106.34" y="573.08" width="1.69" height="1.98" fill="#5f6f5d"/>
<rect x="107.98" y="573.16" width="1.69" height="1.98" fill="#5a6a58"/>
<rect x="109.62" y="573.25" width="1.69" height="1.98" fill="#61715f"/>
<rect x="111.27" y="573.34" width="1.69" height="1.98" fill="#6a7a68"/>
<rect x="112.91" y="573.43" width="1.69" height="1.98" fill="#495947"/>
<rect x="114.55" y="573.52" width="1.69" height="1.98" fill="#50604e"/>
<rect x="116.19" y="573.61" width="1.69" height="1.98" fill="#4f5f4d"/>
<rect x="117.83" y="573.7" width="1.69" height="1.98" fill="#425240"/>
<rect x="119.48" y="573.79" width="1.69" height="1.98" fill="#6e7e6c"/>
<rect x="121.12" y="573.88" width="1.69" height="1.98" fill="#687866"/>
<rect x="122.76" y="573.97" width="1.69" height="1.98" fill="#657563"/>
<rect x="104.7" y="574.91" width="1.69" height="1.98" fill="#40503e"/>
<rect x="106.34" y="575" width="1.69" height="1.98" fill="#6b7b69"/>
<rect x="107.98" y="575.09" width="1.69" height="1.98" fill="#667664"/>
<rect x="109.62" y="575.18" width="1.69" height="1.98" fill="#586856"/>
<rect x="111.27" y="575.27" width="1.69" height="1.98" fill="#667664"/>
<rect x="112.91" y="575.36" width="1.69" height="1.98" fill="#576755"/>
<rect x="114.55" y="575.45" width="1.69" height="1.98" fill="#4b5b49"/>
<rect x="116.19" y="575.54" width="1.69" height="1.98" fill="#455543"/>
<rect x="117.83" y="575.63" width="1.69" height="1.98" fill="#4c5c4a"/>
<rect x="119.48" y="575.72" width="1.69" height="1.98" fill="#425240"/>
<rect x="121.12" y="575.81" width="1.69" height="1.98" fill="#51614f"/>
<rect x="122.76" y="575.9" width="1.69" height="1.98" fill="#667664"/>
<rect x="104.7" y="576.84" width="1.69" height="1.98" fill="#647462"/>
<rect x="106.34" y="576.93" width="1.69" height="1.98" fill="#6b7b69"/>
<rect x="107.98" y="577.02" width="1.69" height="1.98" fill="#657563"/>
<rect x="109.62" y="577.11" width="1.69" height="1.98" fill="#4d5d4b"/>
<rect x="111.27" y="577.2" width="1.69" height="1.98" fill="#5c6c5a"/>
<rect x="112.91" y="577.29" width="1.69" height="1.98" fill="#566654"/>
<rect x="114.55" y="577.38" width="1.69" height="1.98" fill="#687866"/>
<rect x="116.19" y="577.47" width="1.69" height="1.98" fill="#5b6b59"/>
<rect x="117.83" y="577.56" width="1.69" height="1.98" fill="#4d5d4b"/>
<rect x="119.48" y="577.65" width="1.69" height="1.98" fill="#61715f"/>
<rect x="121.12" y="577.74" width="1.69" height="1.98" fill="#728270"/>
<rect x="122.76" y="577.83" width="1.69" height="1.98" fill="#4b5b49"/>
<rect x="104.7" y="578.77" width="1.69" height="1.98" fill="#6d7d6b"/>
<rect x="106.34" y="578.86" width="1.69" height="1.98" fill="#40503e"/>
<rect x="107.98" y="578.95" width="1.69" height="1.98" fill="#4d5d4b"/>
<rect x="109.62" y="579.04" width="1.69" height="1.98" fill="#4c5c4a"/>
<rect x="111.27" y="579.13" width="1.69" height="1.98" fill="#667664"/>
<rect x="112.91" y="579.22" width="1.69" height="1.98" fill="#71816f"/>
<rect x="114.55" y="579.31" width="1.69" height="1.98" fill="#667664"/>
<rect x="116.19" y="579.4" width="1.69" height="1.98" fill="#50604e"/>
<rect x="117.83" y="579.49" width="1.69" height="1.98" fill="#6d7d6b"/>
<rect x="119.48" y="579.58" width="1.69" height="1.98" fill="#51614f"/>
<rect x="121.12" y="579.67" width="1.69" height="1.98" fill="#4c5c4a"/>
<rect x="122.76" y="579.76" width="1.69" height="1.98" fill="#6f7f6d"/>
<rect x="104.7" y="580.7" width="1.69" height="1.98" fill="#60705e"/>
<rect x="106.34" y="580.79" width="1.69" height="1.98" fill="#647462"/>
<rect x="107.98" y="580.88" width="1.69" height="1.98" fill="#627260"/>
<rect x="109.62" y="580.97" width="1.69" height="1.98" fill="#728270"/>
<rect x="111.27" y="581.06" width="1.69" height="1.98" fill="#586856"/>
<rect x="112.91" y="581.15" width="1.69" height="1.98" fill="#6b7b69"/>
<rect x="114.55" y="581.24" width="1.69" height="1.98" fill="#647462"/>
<rect x="116.19" y="581.33" width="1.69" height="1.98" fill="#6c7c6a"/>
<rect x="117.83" y="581.42" width="1.69" height="1.98" fill="#566654"/>
<rect x="119.48" y="581.51" width="1.69" height="1.98" fill="#657563"/>
<rect x="121.12" y="581.6" width="1.69" height="1.98" fill="#5d6d5b"/>
<rect x="122.76" y="581.69" width="1.69" height="1.98" fill="#50604e"/>
<line x1="104.7" y1="578.58" x2="124.4" y2="576.95" stroke="#8a9a8a" stroke-width="1.2" opacity="0.85"/>
<line x1="108.64" y1="582.84" x2="116.52" y2="573.82" stroke="#c0c8c0" stroke-width="0.8" opacity="0.85"/>
</g>
<polygon points="104.7,569.13 124.4,570.2 124.4,573 104.7,571.43" fill="#a8bcd0"/>
<polygon points="127.3,568.66 147,569.74 147,586.74 127.3,585.66" fill="#141414"/>
<polygon points="127.3,570.36 147,571.44 147,584.94 127.3,583.86" fill="#5a5a5a"/>
<line x1="130.3" y1="566.63" x2="144" y2="567.37" stroke="#777" stroke-width="0.7"/>
<defs><clipPath id="tc22"><polygon points="127.3,570.36 147,571.44 147,584.94 127.3,583.86"/></clipPath></defs>
<g clip-path="url(#tc22)">
<rect x="127.3" y="570.36" width="1.69" height="1.98" fill="#4b4b4b"/>
<rect x="128.94" y="570.45" width="1.69" height="1.98" fill="#606060"/>
<rect x="130.58" y="570.54" width="1.69" height="1.98" fill="#444444"/>
<rect x="132.22" y="570.63" width="1.69" height="1.98" fill="#6f6f6f"/>
<rect x="133.87" y="570.72" width="1.69" height="1.98" fill="#474747"/>
<rect x="135.51" y="570.81" width="1.69" height="1.98" fill="#414141"/>
<rect x="137.15" y="570.9" width="1.69" height="1.98" fill="#454545"/>
<rect x="138.79" y="570.99" width="1.69" height="1.98" fill="#707070"/>
<rect x="140.43" y="571.08" width="1.69" height="1.98" fill="#515151"/>
<rect x="142.07" y="571.17" width="1.69" height="1.98" fill="#474747"/>
<rect x="143.72" y="571.26" width="1.69" height="1.98" fill="#414141"/>
<rect x="145.36" y="571.35" width="1.69" height="1.98" fill="#424242"/>
<rect x="127.3" y="572.29" width="1.69" height="1.98" fill="#646464"/>
<rect x="128.94" y="572.38" width="1.69" height="1.98" fill="#606060"/>
<rect x="130.58" y="572.47" width="1.69" height="1.98" fill="#646464"/>
<rect x="132.22" y="572.56" width="1.69" height="1.98" fill="#666666"/>
<rect x="133.87" y="572.65" width="1.69" height="1.98" fill="#434343"/>
<rect x="135.51" y="572.74" width="1.69" height="1.98" fill="#5e5e5e"/>
<rect x="137.15" y="572.83" width="1.69" height="1.98" fill="#525252"/>
<rect x="138.79" y="572.92" width="1.69" height="1.98" fill="#6a6a6a"/>
<rect x="140.43" y="573.01" width="1.69" height="1.98" fill="#6a6a6a"/>
<rect x="142.07" y="573.1" width="1.69" height="1.98" fill="#6e6e6e"/>
<rect x="143.72" y="573.19" width="1.69" height="1.98" fill="#434343"/>
<rect x="145.36" y="573.28" width="1.69" height="1.98" fill="#6d6d6d"/>
<rect x="127.3" y="574.22" width="1.69" height="1.98" fill="#6f6f6f"/>
<rect x="128.94" y="574.31" width="1.69" height="1.98" fill="#717171"/>
<rect x="130.58" y="574.4" width="1.69" height="1.98" fill="#454545"/>
<rect x="132.22" y="574.49" width="1.69" height="1.98" fill="#4a4a4a"/>
<rect x="133.87" y="574.58" width="1.69" height="1.98" fill="#454545"/>
<rect x="135.51" y="574.67" width="1.69" height="1.98" fill="#414141"/>
<rect x="137.15" y="574.76" width="1.69" height="1.98" fill="#6c6c6c"/>
<rect x="138.79" y="574.85" width="1.69" height="1.98" fill="#6a6a6a"/>
<rect x="140.43" y="574.94" width="1.69" height="1.98" fill="#606060"/>
<rect x="142.07" y="575.03" width="1.69" height="1.98" fill="#6a6a6a"/>
<rect x="143.72" y="575.12" width="1.69" height="1.98" fill="#606060"/>
<rect x="145.36" y="575.21" width="1.69" height="1.98" fill="#4e4e4e"/>
<rect x="127.3" y="576.15" width="1.69" height="1.98" fill="#454545"/>
<rect x="128.94" y="576.24" width="1.69" height="1.98" fill="#454545"/>
<rect x="130.58" y="576.33" width="1.69" height="1.98" fill="#676767"/>
<rect x="132.22" y="576.42" width="1.69" height="1.98" fill="#4a4a4a"/>
<rect x="133.87" y="576.51" width="1.69" height="1.98" fill="#505050"/>
<rect x="135.51" y="576.6" width="1.69" height="1.98" fill="#565656"/>
<rect x="137.15" y="576.69" width="1.69" height="1.98" fill="#414141"/>
<rect x="138.79" y="576.78" width="1.69" height="1.98" fill="#4d4d4d"/>
<rect x="140.43" y="576.87" width="1.69" height="1.98" fill="#4e4e4e"/>
<rect x="142.07" y="576.95" width="1.69" height="1.98" fill="#656565"/>
<rect x="143.72" y="577.04" width="1.69" height="1.98" fill="#535353"/>
<rect x="145.36" y="577.13" width="1.69" height="1.98" fill="#505050"/>
<rect x="127.3" y="578.08" width="1.69" height="1.98" fill="#727272"/>
<rect x="128.94" y="578.17" width="1.69" height="1.98" fill="#5a5a5a"/>
<rect x="130.58" y="578.26" width="1.69" height="1.98" fill="#6c6c6c"/>
<rect x="132.22" y="578.35" width="1.69" height="1.98" fill="#606060"/>
<rect x="133.87" y="578.44" width="1.69" height="1.98" fill="#414141"/>
<rect x="135.51" y="578.52" width="1.69" height="1.98" fill="#555555"/>
<rect x="137.15" y="578.61" width="1.69" height="1.98" fill="#565656"/>
<rect x="138.79" y="578.7" width="1.69" height="1.98" fill="#686868"/>
<rect x="140.43" y="578.79" width="1.69" height="1.98" fill="#525252"/>
<rect x="142.07" y="578.88" width="1.69" height="1.98" fill="#646464"/>
<rect x="143.72" y="578.97" width="1.69" height="1.98" fill="#5b5b5b"/>
<rect x="145.36" y="579.06" width="1.69" height="1.98" fill="#4b4b4b"/>
<rect x="127.3" y="580.01" width="1.69" height="1.98" fill="#6c6c6c"/>
<rect x="128.94" y="580.09" width="1.69" height="1.98" fill="#444444"/>
<rect x="130.58" y="580.18" width="1.69" height="1.98" fill="#6a6a6a"/>
<rect x="132.22" y="580.27" width="1.69" height="1.98" fill="#484848"/>
<rect x="133.87" y="580.36" width="1.69" height="1.98" fill="#404040"/>
<rect x="135.51" y="580.45" width="1.69" height="1.98" fill="#4a4a4a"/>
<rect x="137.15" y="580.54" width="1.69" height="1.98" fill="#676767"/>
<rect x="138.79" y="580.63" width="1.69" height="1.98" fill="#727272"/>
<rect x="140.43" y="580.72" width="1.69" height="1.98" fill="#404040"/>
<rect x="142.07" y="580.81" width="1.69" height="1.98" fill="#595959"/>
<rect x="143.72" y="580.9" width="1.69" height="1.98" fill="#595959"/>
<rect x="145.36" y="580.99" width="1.69" height="1.98" fill="#696969"/>
<rect x="127.3" y="581.93" width="1.69" height="1.98" fill="#494949"/>
<rect x="128.94" y="582.02" width="1.69" height="1.98" fill="#595959"/>
<rect x="130.58" y="582.11" width="1.69" height="1.98" fill="#525252"/>
<rect x="132.22" y="582.2" width="1.69" height="1.98" fill="#6b6b6b"/>
<rect x="133.87" y="582.29" width="1.69" height="1.98" fill="#4d4d4d"/>
<rect x="135.51" y="582.38" width="1.69" height="1.98" fill="#717171"/>
<rect x="137.15" y="582.47" width="1.69" height="1.98" fill="#4e4e4e"/>
<rect x="138.79" y="582.56" width="1.69" height="1.98" fill="#4b4b4b"/>
<rect x="140.43" y="582.65" width="1.69" height="1.98" fill="#646464"/>
<rect x="142.07" y="582.74" width="1.69" height="1.98" fill="#595959"/>
<rect x="143.72" y="582.83" width="1.69" height="1.98" fill="#454545"/>
<rect x="145.36" y="582.92" width="1.69" height="1.98" fill="#616161"/>
<line x1="127.3" y1="577.11" x2="147" y2="576.16" stroke="#b8b8b8" stroke-width="1.8" opacity="0.7"/>
<line x1="127.3" y1="582.51" x2="147" y2="582.24" stroke="#3a3a3a" stroke-width="1" opacity="0.6"/>
</g>
<polygon points="150,569.9 170,570.99 170,587.99 150,586.9" fill="#141414"/>
<polygon points="150,571.6 170,572.69 170,586.19 150,585.1" fill="#5c5c5c"/>
<line x1="153" y1="567.87" x2="167" y2="568.63" stroke="#777" stroke-width="0.7"/>
<defs><clipPath id="tc23"><polygon points="150,571.6 170,572.69 170,586.19 150,585.1"/></clipPath></defs>
<g clip-path="url(#tc23)">
<rect x="150" y="571.6" width="1.72" height="1.98" fill="#464646"/>
<rect x="151.67" y="571.69" width="1.72" height="1.98" fill="#6a6a6a"/>
<rect x="153.33" y="571.78" width="1.72" height="1.98" fill="#666666"/>
<rect x="155" y="571.87" width="1.72" height="1.98" fill="#6a6a6a"/>
<rect x="156.67" y="571.97" width="1.72" height="1.98" fill="#626262"/>
<rect x="158.33" y="572.06" width="1.72" height="1.98" fill="#545454"/>
<rect x="160" y="572.15" width="1.72" height="1.98" fill="#565656"/>
<rect x="161.67" y="572.24" width="1.72" height="1.98" fill="#565656"/>
<rect x="163.33" y="572.33" width="1.72" height="1.98" fill="#707070"/>
<rect x="165" y="572.42" width="1.72" height="1.98" fill="#464646"/>
<rect x="166.67" y="572.51" width="1.72" height="1.98" fill="#707070"/>
<rect x="168.33" y="572.6" width="1.72" height="1.98" fill="#434343"/>
<rect x="150" y="573.53" width="1.72" height="1.98" fill="#4c4c4c"/>
<rect x="151.67" y="573.62" width="1.72" height="1.98" fill="#4f4f4f"/>
<rect x="153.33" y="573.71" width="1.72" height="1.98" fill="#707070"/>
<rect x="155" y="573.8" width="1.72" height="1.98" fill="#5c5c5c"/>
<rect x="156.67" y="573.89" width="1.72" height="1.98" fill="#555555"/>
<rect x="158.33" y="573.99" width="1.72" height="1.98" fill="#6f6f6f"/>
<rect x="160" y="574.08" width="1.72" height="1.98" fill="#4e4e4e"/>
<rect x="161.67" y="574.17" width="1.72" height="1.98" fill="#595959"/>
<rect x="163.33" y="574.26" width="1.72" height="1.98" fill="#5d5d5d"/>
<rect x="165" y="574.35" width="1.72" height="1.98" fill="#696969"/>
<rect x="166.67" y="574.44" width="1.72" height="1.98" fill="#696969"/>
<rect x="168.33" y="574.53" width="1.72" height="1.98" fill="#636363"/>
<rect x="150" y="575.46" width="1.72" height="1.98" fill="#545454"/>
<rect x="151.67" y="575.55" width="1.72" height="1.98" fill="#525252"/>
<rect x="153.33" y="575.64" width="1.72" height="1.98" fill="#4a4a4a"/>
<rect x="155" y="575.73" width="1.72" height="1.98" fill="#6d6d6d"/>
<rect x="156.67" y="575.82" width="1.72" height="1.98" fill="#646464"/>
<rect x="158.33" y="575.91" width="1.72" height="1.98" fill="#686868"/>
<rect x="160" y="576.01" width="1.72" height="1.98" fill="#4a4a4a"/>
<rect x="161.67" y="576.1" width="1.72" height="1.98" fill="#585858"/>
<rect x="163.33" y="576.19" width="1.72" height="1.98" fill="#6a6a6a"/>
<rect x="165" y="576.28" width="1.72" height="1.98" fill="#606060"/>
<rect x="166.67" y="576.37" width="1.72" height="1.98" fill="#484848"/>
<rect x="168.33" y="576.46" width="1.72" height="1.98" fill="#5a5a5a"/>
<rect x="150" y="577.39" width="1.72" height="1.98" fill="#707070"/>
<rect x="151.67" y="577.48" width="1.72" height="1.98" fill="#4e4e4e"/>
<rect x="153.33" y="577.57" width="1.72" height="1.98" fill="#4b4b4b"/>
<rect x="155" y="577.66" width="1.72" height="1.98" fill="#515151"/>
<rect x="156.67" y="577.75" width="1.72" height="1.98" fill="#666666"/>
<rect x="158.33" y="577.84" width="1.72" height="1.98" fill="#6d6d6d"/>
<rect x="160" y="577.93" width="1.72" height="1.98" fill="#4a4a4a"/>
<rect x="161.67" y="578.02" width="1.72" height="1.98" fill="#4a4a4a"/>
<rect x="163.33" y="578.12" width="1.72" height="1.98" fill="#4e4e4e"/>
<rect x="165" y="578.21" width="1.72" height="1.98" fill="#525252"/>
<rect x="166.67" y="578.3" width="1.72" height="1.98" fill="#5d5d5d"/>
<rect x="168.33" y="578.39" width="1.72" height="1.98" fill="#4a4a4a"/>
<rect x="150" y="579.32" width="1.72" height="1.98" fill="#535353"/>
<rect x="151.67" y="579.41" width="1.72" height="1.98" fill="#4b4b4b"/>
<rect x="153.33" y="579.5" width="1.72" height="1.98" fill="#747474"/>
<rect x="155" y="579.59" width="1.72" height="1.98" fill="#676767"/>
<rect x="156.67" y="579.68" width="1.72" height="1.98" fill="#474747"/>
<rect x="158.33" y="579.77" width="1.72" height="1.98" fill="#747474"/>
<rect x="160" y="579.86" width="1.72" height="1.98" fill="#474747"/>
<rect x="161.67" y="579.95" width="1.72" height="1.98" fill="#555555"/>
<rect x="163.33" y="580.04" width="1.72" height="1.98" fill="#757575"/>
<rect x="165" y="580.14" width="1.72" height="1.98" fill="#6b6b6b"/>
<rect x="166.67" y="580.23" width="1.72" height="1.98" fill="#686868"/>
<rect x="168.33" y="580.32" width="1.72" height="1.98" fill="#585858"/>
<rect x="150" y="581.24" width="1.72" height="1.98" fill="#4c4c4c"/>
<rect x="151.67" y="581.34" width="1.72" height="1.98" fill="#636363"/>
<rect x="153.33" y="581.43" width="1.72" height="1.98" fill="#474747"/>
<rect x="155" y="581.52" width="1.72" height="1.98" fill="#4c4c4c"/>
<rect x="156.67" y="581.61" width="1.72" height="1.98" fill="#565656"/>
<rect x="158.33" y="581.7" width="1.72" height="1.98" fill="#434343"/>
<rect x="160" y="581.79" width="1.72" height="1.98" fill="#565656"/>
<rect x="161.67" y="581.88" width="1.72" height="1.98" fill="#6b6b6b"/>
<rect x="163.33" y="581.97" width="1.72" height="1.98" fill="#666666"/>
<rect x="165" y="582.06" width="1.72" height="1.98" fill="#5c5c5c"/>
<rect x="166.67" y="582.15" width="1.72" height="1.98" fill="#626262"/>
<rect x="168.33" y="582.25" width="1.72" height="1.98" fill="#5a5a5a"/>
<rect x="150" y="583.17" width="1.72" height="1.98" fill="#494949"/>
<rect x="151.67" y="583.26" width="1.72" height="1.98" fill="#616161"/>
<rect x="153.33" y="583.36" width="1.72" height="1.98" fill="#575757"/>
<rect x="155" y="583.45" width="1.72" height="1.98" fill="#686868"/>
<rect x="156.67" y="583.54" width="1.72" height="1.98" fill="#717171"/>
<rect x="158.33" y="583.63" width="1.72" height="1.98" fill="#585858"/>
<rect x="160" y="583.72" width="1.72" height="1.98" fill="#5f5f5f"/>
<rect x="161.67" y="583.81" width="1.72" height="1.98" fill="#686868"/>
<rect x="163.33" y="583.9" width="1.72" height="1.98" fill="#575757"/>
<rect x="165" y="583.99" width="1.72" height="1.98" fill="#4d4d4d"/>
<rect x="166.67" y="584.08" width="1.72" height="1.98" fill="#676767"/>
<rect x="168.33" y="584.17" width="1.72" height="1.98" fill="#6f6f6f"/>
<line x1="150" y1="578.35" x2="170" y2="577.42" stroke="#b8b8b8" stroke-width="1.8" opacity="0.7"/>
<line x1="150" y1="583.75" x2="170" y2="583.49" stroke="#3a3a3a" stroke-width="1" opacity="0.6"/>
</g>
<polygon points="172.7,571.14 193,572.25 193,589.25 172.7,588.14" fill="#141414"/>
<polygon points="172.7,572.84 193,573.95 193,587.45 172.7,586.34" fill="#585858"/>
<line x1="175.7" y1="569.11" x2="190" y2="569.89" stroke="#777" stroke-width="0.7"/>
<defs><clipPath id="tc24"><polygon points="172.7,572.84 193,573.95 193,587.45 172.7,586.34"/></clipPath></defs>
<g clip-path="url(#tc24)">
<rect x="172.7" y="572.84" width="1.74" height="1.98" fill="#666666"/>
<rect x="174.39" y="572.93" width="1.74" height="1.98" fill="#626262"/>
<rect x="176.08" y="573.03" width="1.74" height="1.98" fill="#6a6a6a"/>
<rect x="177.77" y="573.12" width="1.74" height="1.98" fill="#616161"/>
<rect x="179.47" y="573.21" width="1.74" height="1.98" fill="#5f5f5f"/>
<rect x="181.16" y="573.3" width="1.74" height="1.98" fill="#555555"/>
<rect x="182.85" y="573.4" width="1.74" height="1.98" fill="#4e4e4e"/>
<rect x="184.54" y="573.49" width="1.74" height="1.98" fill="#5e5e5e"/>
<rect x="186.23" y="573.58" width="1.74" height="1.98" fill="#434343"/>
<rect x="187.93" y="573.67" width="1.74" height="1.98" fill="#535353"/>
<rect x="189.62" y="573.76" width="1.74" height="1.98" fill="#666666"/>
<rect x="191.31" y="573.86" width="1.74" height="1.98" fill="#636363"/>
<rect x="172.7" y="574.77" width="1.74" height="1.98" fill="#5e5e5e"/>
<rect x="174.39" y="574.86" width="1.74" height="1.98" fill="#4b4b4b"/>
<rect x="176.08" y="574.95" width="1.74" height="1.98" fill="#545454"/>
<rect x="177.77" y="575.05" width="1.74" height="1.98" fill="#555555"/>
<rect x="179.47" y="575.14" width="1.74" height="1.98" fill="#5e5e5e"/>
<rect x="181.16" y="575.23" width="1.74" height="1.98" fill="#535353"/>
<rect x="182.85" y="575.32" width="1.74" height="1.98" fill="#616161"/>
<rect x="184.54" y="575.42" width="1.74" height="1.98" fill="#6e6e6e"/>
<rect x="186.23" y="575.51" width="1.74" height="1.98" fill="#474747"/>
<rect x="187.93" y="575.6" width="1.74" height="1.98" fill="#606060"/>
<rect x="189.62" y="575.69" width="1.74" height="1.98" fill="#666666"/>
<rect x="191.31" y="575.79" width="1.74" height="1.98" fill="#525252"/>
<rect x="172.7" y="576.7" width="1.74" height="1.98" fill="#575757"/>
<rect x="174.39" y="576.79" width="1.74" height="1.98" fill="#707070"/>
<rect x="176.08" y="576.88" width="1.74" height="1.98" fill="#3f3f3f"/>
<rect x="177.77" y="576.98" width="1.74" height="1.98" fill="#5a5a5a"/>
<rect x="179.47" y="577.07" width="1.74" height="1.98" fill="#464646"/>
<rect x="181.16" y="577.16" width="1.74" height="1.98" fill="#666666"/>
<rect x="182.85" y="577.25" width="1.74" height="1.98" fill="#6e6e6e"/>
<rect x="184.54" y="577.34" width="1.74" height="1.98" fill="#585858"/>
<rect x="186.23" y="577.44" width="1.74" height="1.98" fill="#434343"/>
<rect x="187.93" y="577.53" width="1.74" height="1.98" fill="#5b5b5b"/>
<rect x="189.62" y="577.62" width="1.74" height="1.98" fill="#5a5a5a"/>
<rect x="191.31" y="577.71" width="1.74" height="1.98" fill="#636363"/>
<rect x="172.7" y="578.63" width="1.74" height="1.98" fill="#585858"/>
<rect x="174.39" y="578.72" width="1.74" height="1.98" fill="#5f5f5f"/>
<rect x="176.08" y="578.81" width="1.74" height="1.98" fill="#696969"/>
<rect x="177.77" y="578.9" width="1.74" height="1.98" fill="#595959"/>
<rect x="179.47" y="579" width="1.74" height="1.98" fill="#535353"/>
<rect x="181.16" y="579.09" width="1.74" height="1.98" fill="#6f6f6f"/>
<rect x="182.85" y="579.18" width="1.74" height="1.98" fill="#484848"/>
<rect x="184.54" y="579.27" width="1.74" height="1.98" fill="#616161"/>
<rect x="186.23" y="579.37" width="1.74" height="1.98" fill="#525252"/>
<rect x="187.93" y="579.46" width="1.74" height="1.98" fill="#656565"/>
<rect x="189.62" y="579.55" width="1.74" height="1.98" fill="#444444"/>
<rect x="191.31" y="579.64" width="1.74" height="1.98" fill="#717171"/>
<rect x="172.7" y="580.56" width="1.74" height="1.98" fill="#505050"/>
<rect x="174.39" y="580.65" width="1.74" height="1.98" fill="#404040"/>
<rect x="176.08" y="580.74" width="1.74" height="1.98" fill="#4c4c4c"/>
<rect x="177.77" y="580.83" width="1.74" height="1.98" fill="#525252"/>
<rect x="179.47" y="580.93" width="1.74" height="1.98" fill="#3e3e3e"/>
<rect x="181.16" y="581.02" width="1.74" height="1.98" fill="#535353"/>
<rect x="182.85" y="581.11" width="1.74" height="1.98" fill="#535353"/>
<rect x="184.54" y="581.2" width="1.74" height="1.98" fill="#626262"/>
<rect x="186.23" y="581.29" width="1.74" height="1.98" fill="#505050"/>
<rect x="187.93" y="581.39" width="1.74" height="1.98" fill="#4b4b4b"/>
<rect x="189.62" y="581.48" width="1.74" height="1.98" fill="#494949"/>
<rect x="191.31" y="581.57" width="1.74" height="1.98" fill="#646464"/>
<rect x="172.7" y="582.48" width="1.74" height="1.98" fill="#6e6e6e"/>
<rect x="174.39" y="582.58" width="1.74" height="1.98" fill="#595959"/>
<rect x="176.08" y="582.67" width="1.74" height="1.98" fill="#494949"/>
<rect x="177.77" y="582.76" width="1.74" height="1.98" fill="#676767"/>
<rect x="179.47" y="582.85" width="1.74" height="1.98" fill="#525252"/>
<rect x="181.16" y="582.95" width="1.74" height="1.98" fill="#494949"/>
<rect x="182.85" y="583.04" width="1.74" height="1.98" fill="#444444"/>
<rect x="184.54" y="583.13" width="1.74" height="1.98" fill="#666666"/>
<rect x="186.23" y="583.22" width="1.74" height="1.98" fill="#686868"/>
<rect x="187.93" y="583.32" width="1.74" height="1.98" fill="#5e5e5e"/>
<rect x="189.62" y="583.41" width="1.74" height="1.98" fill="#565656"/>
<rect x="191.31" y="583.5" width="1.74" height="1.98" fill="#5b5b5b"/>
<rect x="172.7" y="584.41" width="1.74" height="1.98" fill="#494949"/>
<rect x="174.39" y="584.51" width="1.74" height="1.98" fill="#707070"/>
<rect x="176.08" y="584.6" width="1.74" height="1.98" fill="#505050"/>
<rect x="177.77" y="584.69" width="1.74" height="1.98" fill="#5f5f5f"/>
<rect x="179.47" y="584.78" width="1.74" height="1.98" fill="#686868"/>
<rect x="181.16" y="584.87" width="1.74" height="1.98" fill="#686868"/>
<rect x="182.85" y="584.97" width="1.74" height="1.98" fill="#565656"/>
<rect x="184.54" y="585.06" width="1.74" height="1.98" fill="#4d4d4d"/>
<rect x="186.23" y="585.15" width="1.74" height="1.98" fill="#5a5a5a"/>
<rect x="187.93" y="585.24" width="1.74" height="1.98" fill="#444444"/>
<rect x="189.62" y="585.34" width="1.74" height="1.98" fill="#696969"/>
<rect x="191.31" y="585.43" width="1.74" height="1.98" fill="#505050"/>
<line x1="172.7" y1="579.59" x2="193" y2="578.67" stroke="#b8b8b8" stroke-width="1.8" opacity="0.7"/>
<line x1="172.7" y1="584.99" x2="193" y2="584.75" stroke="#3a3a3a" stroke-width="1" opacity="0.6"/>
</g>
<polygon points="195.8,572.4 216.4,573.53 216.4,590.53 195.8,589.4" fill="#141414"/>
<polygon points="195.8,574.1 216.4,575.23 216.4,588.73 195.8,587.6" fill="#8a8a8a"/>
<line x1="198.8" y1="570.37" x2="213.4" y2="571.16" stroke="#777" stroke-width="0.7"/>
<defs><clipPath id="tc25"><polygon points="195.8,574.1 216.4,575.23 216.4,588.73 195.8,587.6"/></clipPath></defs>
<g clip-path="url(#tc25)">
<rect x="195.8" y="574.1" width="1.77" height="1.98" fill="#9c9c9c"/>
<rect x="197.52" y="574.2" width="1.77" height="1.98" fill="#7d7d7d"/>
<rect x="199.23" y="574.29" width="1.77" height="1.98" fill="#838383"/>
<rect x="200.95" y="574.38" width="1.77" height="1.98" fill="#7d7d7d"/>
<rect x="202.67" y="574.48" width="1.77" height="1.98" fill="#868686"/>
<rect x="204.38" y="574.57" width="1.77" height="1.98" fill="#797979"/>
<rect x="206.1" y="574.66" width="1.77" height="1.98" fill="#707070"/>
<rect x="207.82" y="574.76" width="1.77" height="1.98" fill="#959595"/>
<rect x="209.53" y="574.85" width="1.77" height="1.98" fill="#7e7e7e"/>
<rect x="211.25" y="574.95" width="1.77" height="1.98" fill="#7c7c7c"/>
<rect x="212.97" y="575.04" width="1.77" height="1.98" fill="#7f7f7f"/>
<rect x="214.68" y="575.13" width="1.77" height="1.98" fill="#888888"/>
<rect x="195.8" y="576.03" width="1.77" height="1.98" fill="#868686"/>
<rect x="197.52" y="576.12" width="1.77" height="1.98" fill="#919191"/>
<rect x="199.23" y="576.22" width="1.77" height="1.98" fill="#929292"/>
<rect x="200.95" y="576.31" width="1.77" height="1.98" fill="#828282"/>
<rect x="202.67" y="576.41" width="1.77" height="1.98" fill="#a0a0a0"/>
<rect x="204.38" y="576.5" width="1.77" height="1.98" fill="#9c9c9c"/>
<rect x="206.1" y="576.59" width="1.77" height="1.98" fill="#727272"/>
<rect x="207.82" y="576.69" width="1.77" height="1.98" fill="#9b9b9b"/>
<rect x="209.53" y="576.78" width="1.77" height="1.98" fill="#9f9f9f"/>
<rect x="211.25" y="576.87" width="1.77" height="1.98" fill="#989898"/>
<rect x="212.97" y="576.97" width="1.77" height="1.98" fill="#777777"/>
<rect x="214.68" y="577.06" width="1.77" height="1.98" fill="#9b9b9b"/>
<rect x="195.8" y="577.96" width="1.77" height="1.98" fill="#909090"/>
<rect x="197.52" y="578.05" width="1.77" height="1.98" fill="#707070"/>
<rect x="199.23" y="578.15" width="1.77" height="1.98" fill="#707070"/>
<rect x="200.95" y="578.24" width="1.77" height="1.98" fill="#a1a1a1"/>
<rect x="202.67" y="578.33" width="1.77" height="1.98" fill="#929292"/>
<rect x="204.38" y="578.43" width="1.77" height="1.98" fill="#7d7d7d"/>
<rect x="206.1" y="578.52" width="1.77" height="1.98" fill="#757575"/>
<rect x="207.82" y="578.62" width="1.77" height="1.98" fill="#777777"/>
<rect x="209.53" y="578.71" width="1.77" height="1.98" fill="#7c7c7c"/>
<rect x="211.25" y="578.8" width="1.77" height="1.98" fill="#989898"/>
<rect x="212.97" y="578.9" width="1.77" height="1.98" fill="#828282"/>
<rect x="214.68" y="578.99" width="1.77" height="1.98" fill="#777777"/>
<rect x="195.8" y="579.89" width="1.77" height="1.98" fill="#9f9f9f"/>
<rect x="197.52" y="579.98" width="1.77" height="1.98" fill="#999999"/>
<rect x="199.23" y="580.08" width="1.77" height="1.98" fill="#787878"/>
<rect x="200.95" y="580.17" width="1.77" height="1.98" fill="#9e9e9e"/>
<rect x="202.67" y="580.26" width="1.77" height="1.98" fill="#8f8f8f"/>
<rect x="204.38" y="580.36" width="1.77" height="1.98" fill="#989898"/>
<rect x="206.1" y="580.45" width="1.77" height="1.98" fill="#929292"/>
<rect x="207.82" y="580.54" width="1.77" height="1.98" fill="#9e9e9e"/>
<rect x="209.53" y="580.64" width="1.77" height="1.98" fill="#989898"/>
<rect x="211.25" y="580.73" width="1.77" height="1.98" fill="#9b9b9b"/>
<rect x="212.97" y="580.83" width="1.77" height="1.98" fill="#7a7a7a"/>
<rect x="214.68" y="580.92" width="1.77" height="1.98" fill="#949494"/>
<rect x="195.8" y="581.82" width="1.77" height="1.98" fill="#8b8b8b"/>
<rect x="197.52" y="581.91" width="1.77" height="1.98" fill="#969696"/>
<rect x="199.23" y="582" width="1.77" height="1.98" fill="#868686"/>
<rect x="200.95" y="582.1" width="1.77" height="1.98" fill="#9d9d9d"/>
<rect x="202.67" y="582.19" width="1.77" height="1.98" fill="#8c8c8c"/>
<rect x="204.38" y="582.29" width="1.77" height="1.98" fill="#7d7d7d"/>
<rect x="206.1" y="582.38" width="1.77" height="1.98" fill="#7c7c7c"/>
<rect x="207.82" y="582.47" width="1.77" height="1.98" fill="#777777"/>
<rect x="209.53" y="582.57" width="1.77" height="1.98" fill="#898989"/>
<rect x="211.25" y="582.66" width="1.77" height="1.98" fill="#737373"/>
<rect x="212.97" y="582.75" width="1.77" height="1.98" fill="#888888"/>
<rect x="214.68" y="582.85" width="1.77" height="1.98" fill="#777777"/>
<rect x="195.8" y="583.75" width="1.77" height="1.98" fill="#898989"/>
<rect x="197.52" y="583.84" width="1.77" height="1.98" fill="#898989"/>
<rect x="199.23" y="583.93" width="1.77" height="1.98" fill="#8c8c8c"/>
<rect x="200.95" y="584.03" width="1.77" height="1.98" fill="#9c9c9c"/>
<rect x="202.67" y="584.12" width="1.77" height="1.98" fill="#707070"/>
<rect x="204.38" y="584.21" width="1.77" height="1.98" fill="#9b9b9b"/>
<rect x="206.1" y="584.31" width="1.77" height="1.98" fill="#888888"/>
<rect x="207.82" y="584.4" width="1.77" height="1.98" fill="#8d8d8d"/>
<rect x="209.53" y="584.5" width="1.77" height="1.98" fill="#929292"/>
<rect x="211.25" y="584.59" width="1.77" height="1.98" fill="#9b9b9b"/>
<rect x="212.97" y="584.68" width="1.77" height="1.98" fill="#838383"/>
<rect x="214.68" y="584.78" width="1.77" height="1.98" fill="#858585"/>
<rect x="195.8" y="585.67" width="1.77" height="1.98" fill="#a1a1a1"/>
<rect x="197.52" y="585.77" width="1.77" height="1.98" fill="#737373"/>
<rect x="199.23" y="585.86" width="1.77" height="1.98" fill="#919191"/>
<rect x="200.95" y="585.96" width="1.77" height="1.98" fill="#919191"/>
<rect x="202.67" y="586.05" width="1.77" height="1.98" fill="#717171"/>
<rect x="204.38" y="586.14" width="1.77" height="1.98" fill="#8f8f8f"/>
<rect x="206.1" y="586.24" width="1.77" height="1.98" fill="#939393"/>
<rect x="207.82" y="586.33" width="1.77" height="1.98" fill="#a0a0a0"/>
<rect x="209.53" y="586.42" width="1.77" height="1.98" fill="#818181"/>
<rect x="211.25" y="586.52" width="1.77" height="1.98" fill="#a3a3a3"/>
<rect x="212.97" y="586.61" width="1.77" height="1.98" fill="#8a8a8a"/>
<rect x="214.68" y="586.71" width="1.77" height="1.98" fill="#898989"/>
<line x1="195.8" y1="575.45" x2="212.28" y2="589.85" stroke="#ffffff" stroke-width="1.3" opacity="1"/>
<line x1="201.98" y1="574.44" x2="216.4" y2="586.03" stroke="#f0f0f0" stroke-width="0.8" opacity="0.9"/>
<line x1="195.8" y1="580.85" x2="206.1" y2="589.51" stroke="#202020" stroke-width="1" opacity="0.7"/>
</g>
<defs><linearGradient id="gChin" x1="0" y1="0" x2="0" y2="1"><stop offset="0" stop-color="#dadada"/><stop offset="1" stop-color="#cfcfcf"/></linearGradient></defs>
<path d="M275,673.5 L554.8,692.6 L554.8,714 Q554.8,719.5 549.4,719.2 L283,701.4 Q275,701 275,693 Z" fill="url(#gChin)"/>
<defs><linearGradient id="sg1748" gradientUnits="userSpaceOnUse" x1="444" y1="730" x2="462" y2="716"><stop offset="0" stop-color="#000" stop-opacity="0.3"/><stop offset="0.45" stop-color="#000" stop-opacity="0.1"/><stop offset="1" stop-color="#000" stop-opacity="0"/></linearGradient></defs>
<polygon points="444,712 446,736 470,722 468,712" fill="url(#sg1748)" filter="url(#blur2)"/>
<path d="M380.4,708.8 L442.7,713 L444.8,732 Q445.2,736.2 441,736 L378.5,730.6 Q373.6,730.2 374.5,725.5 Z" fill="#333"/>
<path d="M275,484.7 Q275,476.7 283,477.1 L545.8,491.3 Q554.8,491.8 554.8,500.8 L554.8,692.6 L275,673.5 Z" fill="#333"/>
<polygon points="286,488.3 542.6,502.4 542.2,680.8 286,663.5" fill="#f1f1f1"/>
<defs><clipPath id="scrClip"><polygon points="286,488.3 542.6,502.4 542.2,680.8 286,663.5"/></clipPath></defs>
<g clip-path="url(#scrClip)">
<polygon points="313.7,569 329.3,566.5 349.7,576.5 346,585 338.7,589.7 330.9,596 321.5,602.2 313.7,599" fill="#d3d3d3"/>
<polygon points="344.2,502.8 362,503.5 344.2,514.1" fill="#e2e2e2"/>
<polygon points="296.5,636.5 302.5,635.5 304.5,640 301.5,643.5 297,642" fill="#d3d3d3"/>
<polygon points="367,653.5 373.7,650.5 373.7,660 367,660" fill="#d3d3d3"/>
<polygon points="290,602 300.4,602.5 300.4,612.7 290,612.5" fill="#e2e2e2"/>
<polygon points="392,668.5 395,660 402.5,667 402.5,670" fill="#e2e2e2"/>
<polygon points="483.3,652.5 486,650.5 489.8,658 489.8,664.1 483.3,664.1" fill="#e2e2e2"/>
<polygon points="449,649.5 468.7,651 468.7,664.1 449,663" fill="#e2e2e2"/>
<polygon points="431.3,626.7 439.4,626.7 439.4,633.2 431.3,633.2" fill="#e2e2e2"/>
<polygon points="383,560 396,560 398,572 385,575" fill="#e2e2e2"/>
<polygon points="303,552 308,551 309,556 303,557" fill="#e2e2e2"/>
<rect x="329.57" y="620.19" width="3.9" height="3.2" fill="#e6e6e6"/>
<rect x="537.41" y="584.27" width="4.89" height="2.46" fill="#e6e6e6"/>
<rect x="523.06" y="576.51" width="2.43" height="3.88" fill="#e6e6e6"/>
<rect x="462.87" y="577.95" width="4.99" height="3.93" fill="#d6d6d6"/>
<rect x="443.2" y="510.69" width="2.99" height="3.24" fill="#e2e2e2"/>
<rect x="451.5" y="661.63" width="2.07" height="3.85" fill="#e2e2e2"/>
<rect x="319.47" y="659.97" width="3.36" height="3.38" fill="#dcdcdc"/>
<rect x="389.14" y="530.23" width="4" height="3.17" fill="#e6e6e6"/>
<rect x="457.8" y="639.09" width="3.97" height="4.37" fill="#e2e2e2"/>
<rect x="318.86" y="584.55" width="4.48" height="2.5" fill="#e6e6e6"/>
<rect x="380.04" y="580.37" width="3.16" height="4.49" fill="#d6d6d6"/>
<rect x="354.96" y="644.3" width="2.48" height="3.79" fill="#d6d6d6"/>
<rect x="439.04" y="592.2" width="3.71" height="2.8" fill="#e2e2e2"/>
<rect x="333.53" y="533.41" width="3.04" height="4.32" fill="#dcdcdc"/>
<rect x="479.99" y="660.26" width="2.74" height="2.42" fill="#e6e6e6"/>
<rect x="460.2" y="617.88" width="4.7" height="4.4" fill="#d6d6d6"/>
<rect x="375.35" y="589.52" width="4" height="4.34" fill="#e6e6e6"/>
<rect x="328.9" y="516.58" width="4.42" height="3.93" fill="#d6d6d6"/>
<rect x="503.03" y="614.96" width="2.1" height="2.62" fill="#d6d6d6"/>
<rect x="305.5" y="561.46" width="4.7" height="4.46" fill="#d6d6d6"/>
<rect x="451.86" y="657.21" width="3.44" height="4.38" fill="#dcdcdc"/>
<rect x="488.4" y="652.2" width="3.8" height="3.07" fill="#d6d6d6"/>
<rect x="365.61" y="594.23" width="2.83" height="3.92" fill="#e2e2e2"/>
<rect x="384.36" y="526.02" width="4.15" height="2.66" fill="#dcdcdc"/>
<rect x="450.25" y="647.23" width="3.75" height="2.64" fill="#d6d6d6"/>
<rect x="477.41" y="640.63" width="2.42" height="2.35" fill="#d6d6d6"/>
<rect x="400.61" y="528.52" width="4.6" height="3.64" fill="#e6e6e6"/>
<rect x="364.61" y="662.33" width="3.19" height="4.22" fill="#e6e6e6"/>
<rect x="333.76" y="648.2" width="2.6" height="3.86" fill="#e2e2e2"/>
<rect x="440.18" y="589.31" width="4.24" height="2.14" fill="#e2e2e2"/>
<rect x="385.69" y="649.37" width="3.19" height="3.42" fill="#e6e6e6"/>
<rect x="351.73" y="621.35" width="2.94" height="2.1" fill="#d6d6d6"/>
<rect x="327.36" y="626.27" width="4.97" height="4.04" fill="#d6d6d6"/>
<rect x="439.5" y="589.87" width="4.2" height="4.42" fill="#dcdcdc"/>
<polygon points="315.5,585 322,584 327,590 324.5,597 318.5,602 315.5,600" fill="#c2c2c2"/>
<circle cx="334.5" cy="590" r="1.8" fill="#c8c8c8"/>
<polyline points="324.8,502 340.2,516.6 349,534.3" fill="none" stroke="#fcfcfc" stroke-width="1.35" stroke-linejoin="round" stroke-linecap="round"/>
<polyline points="362.8,502.8 341,519 328,531.9 324.8,540" fill="none" stroke="#fcfcfc" stroke-width="1.35" stroke-linejoin="round" stroke-linecap="round"/>
<polyline points="341,518.2 352.3,515 360.4,515.8 366.8,519 371.7,527 374.9,529.5 390,527.3 400.7,526.2 419.9,524.1 449.8,527.3" fill="none" stroke="#fcfcfc" stroke-width="1.35" stroke-linejoin="round" stroke-linecap="round"/>
<polyline points="363.6,502.8 365.2,510.1 368.4,520.6 371.7,527" fill="none" stroke="#fcfcfc" stroke-width="1.35" stroke-linejoin="round" stroke-linecap="round"/>
<polyline points="390.2,504.5 389.4,512.5 376.5,527.9 368.4,535.9 365.2,543.2 363.6,554.5 360.6,581 367.2,594.5 375,602.3 378.9,623.2 390.7,632.4" fill="none" stroke="#fcfcfc" stroke-width="1.35" stroke-linejoin="round" stroke-linecap="round"/>
<polyline points="399.9,510.1 376.5,527.9" fill="none" stroke="#fcfcfc" stroke-width="1.35" stroke-linejoin="round" stroke-linecap="round"/>
<polyline points="347.4,534.3 368.4,535.9 376.5,538.4 388.6,543.2 399.9,549.7 408.2,554.6" fill="none" stroke="#fcfcfc" stroke-width="1.35" stroke-linejoin="round" stroke-linecap="round"/>
<polyline points="347.4,534.3 336.1,546.4 334.5,560 331.8,597 331.8,663.8" fill="none" stroke="#fcfcfc" stroke-width="1.35" stroke-linejoin="round" stroke-linecap="round"/>
<polyline points="326.5,522.2 325.6,560" fill="none" stroke="#fcfcfc" stroke-width="1.35" stroke-linejoin="round" stroke-linecap="round"/>
<polyline points="410.8,505.2 412.8,526 410.8,552 408.2,572.9 406,590 396,610 393,632 389.4,669" fill="none" stroke="#fcfcfc" stroke-width="1.35" stroke-linejoin="round" stroke-linecap="round"/>
<polyline points="419.9,524.1 431.6,543 449.8,544.2" fill="none" stroke="#fcfcfc" stroke-width="1.35" stroke-linejoin="round" stroke-linecap="round"/>
<polyline points="390,545.5 408.2,554.6" fill="none" stroke="#fcfcfc" stroke-width="1.35" stroke-linejoin="round" stroke-linecap="round"/>
<polyline points="392.6,515.6 403,506.5" fill="none" stroke="#fcfcfc" stroke-width="1.35" stroke-linejoin="round" stroke-linecap="round"/>
<polyline points="427.7,507.8 449.8,520.8" fill="none" stroke="#fcfcfc" stroke-width="1.35" stroke-linejoin="round" stroke-linecap="round"/>
<polyline points="403,578 395.2,600" fill="none" stroke="#fcfcfc" stroke-width="1.35" stroke-linejoin="round" stroke-linecap="round"/>
<polyline points="452.9,569.4 455.2,580 475.2,587 489.2,594 498.6,606.9 505.6,622.1 508,632.7" fill="none" stroke="#fcfcfc" stroke-width="1.35" stroke-linejoin="round" stroke-linecap="round"/>
<polyline points="463.4,569.4 462.3,577.6 455.2,582.3 441.6,591.3" fill="none" stroke="#fcfcfc" stroke-width="1.35" stroke-linejoin="round" stroke-linecap="round"/>
<polyline points="470,593 465.8,595.2 457.6,602.2 463.4,610.4 475,616" fill="none" stroke="#fcfcfc" stroke-width="1.35" stroke-linejoin="round" stroke-linecap="round"/>
<polyline points="476.3,621 484.5,632.7 490.4,644.4" fill="none" stroke="#fcfcfc" stroke-width="1.35" stroke-linejoin="round" stroke-linecap="round"/>
<polyline points="475.2,640.9 492.7,635 522,633.8 533.8,618.6 540.8,601 539.6,583.4" fill="none" stroke="#fcfcfc" stroke-width="1.35" stroke-linejoin="round" stroke-linecap="round"/>
<polyline points="289.9,627.1 330.5,629.7 359.3,631 393.3,632.4 420,638.9 434.5,644.6 454,636.5 475.2,640.9" fill="none" stroke="#fcfcfc" stroke-width="1.35" stroke-linejoin="round" stroke-linecap="round"/>
<polyline points="312.2,556.5 312.2,664" fill="none" stroke="#fcfcfc" stroke-width="1.35" stroke-linejoin="round" stroke-linecap="round"/>
<polyline points="288.6,556.5 288.6,664" fill="none" stroke="#fcfcfc" stroke-width="1.35" stroke-linejoin="round" stroke-linecap="round"/>
<polyline points="359.3,616.6 359.3,663.8" fill="none" stroke="#fcfcfc" stroke-width="1.35" stroke-linejoin="round" stroke-linecap="round"/>
<polyline points="291.2,601 312.2,601 331.8,597" fill="none" stroke="#fcfcfc" stroke-width="1.35" stroke-linejoin="round" stroke-linecap="round"/>
<polyline points="301.7,614 312.2,627" fill="none" stroke="#fcfcfc" stroke-width="1.35" stroke-linejoin="round" stroke-linecap="round"/>
<polyline points="415,621.8 424.8,638.1 437.8,664.1 442.7,672.3" fill="none" stroke="#fcfcfc" stroke-width="1.35" stroke-linejoin="round" stroke-linecap="round"/>
<polyline points="468.7,651.1 465.4,670.6" fill="none" stroke="#fcfcfc" stroke-width="1.35" stroke-linejoin="round" stroke-linecap="round"/>
<polyline points="329.2,552.6 338.4,568.3 354,576.2 360.6,581" fill="none" stroke="#fcfcfc" stroke-width="1.35" stroke-linejoin="round" stroke-linecap="round"/>
<polyline points="286,557.5 324,559" fill="none" stroke="#fcfcfc" stroke-width="1.35" stroke-linejoin="round" stroke-linecap="round"/>
<polyline points="490.4,644.4 500,660 505,675" fill="none" stroke="#fcfcfc" stroke-width="1.35" stroke-linejoin="round" stroke-linecap="round"/>
<polyline points="520,640 528,660 531,678" fill="none" stroke="#fcfcfc" stroke-width="1.35" stroke-linejoin="round" stroke-linecap="round"/>
<polyline points="326.5,543.2 346.6,549.7 359.3,561.8 388.1,585.3 426.4,589 440,590 484.5,611.6 491.6,628 498.6,650" fill="none" stroke="#b0b0b0" stroke-width="0.5"/>
<polygon points="286,497.5 323.8,499.6 323.8,557.4 286,555.5" fill="#151719"/>
<line x1="291" y1="501.2" x2="297.8" y2="501.5" stroke="#8a8a8a" stroke-width="0.9"/>
<rect x="299.8" y="500.4" width="1" height="1.8" fill="#39b0b8"/>
<line x1="303.8" y1="501.5" x2="311.5" y2="501.9" stroke="#8a8a8a" stroke-width="0.9"/>
<line x1="314" y1="502" x2="318.4" y2="502.2" stroke="#8a4a3a" stroke-width="0.9"/>
<line x1="287" y1="504.6" x2="291" y2="504.7" stroke="#cfcfcf" stroke-width="0.8"/>
<line x1="293" y1="505" x2="318" y2="506" stroke="#555" stroke-width="0.7"/>
<line x1="296" y1="511.2" x2="314" y2="511.6" stroke="#7da83a" stroke-width="1.1" stroke-dasharray="3,0.7"/>
<line x1="296" y1="515" x2="313" y2="515.4" stroke="#6a9432" stroke-width="1" stroke-dasharray="3,0.7"/>
<rect x="294.7" y="518.8" width="1.1" height="1.3" fill="#39c0c8"/>
<line x1="299" y1="519.7" x2="316.2" y2="520" stroke="#c8c8c8" stroke-width="0.9" stroke-dasharray="2.6,0.6"/>
<rect x="289.3" y="527.7" width="4" height="2.4" rx="1" fill="none" stroke="#9a9a9a" stroke-width="0.6"/>
<circle cx="291.3" cy="536.1" r="1.7" fill="none" stroke="#9a9a9a" stroke-width="0.6"/>
<circle cx="291.3" cy="543.2" r="1.7" fill="#2f8a8a"/><circle cx="291.8" cy="542.6" r="0.8" fill="#ddd"/>
<path d="M289.5,551.3 L293.2,551.3 L292.6,549.6 L290.2,549.6Z" fill="#ccc"/><circle cx="291.3" cy="548.7" r="0.8" fill="#5a9a2a"/>
<line x1="297.8" y1="528.9" x2="302" y2="529" stroke="#8c8c8c" stroke-width="0.8" stroke-dasharray="1.8,0.5"/>
<line x1="297.8" y1="536.2" x2="307.2" y2="536.3" stroke="#8c8c8c" stroke-width="0.8" stroke-dasharray="1.8,0.5"/>
<line x1="297.8" y1="543.9" x2="307.2" y2="544" stroke="#8c8c8c" stroke-width="0.8" stroke-dasharray="1.8,0.5"/>
<line x1="297.8" y1="550.8" x2="301.2" y2="550.9" stroke="#8c8c8c" stroke-width="0.8" stroke-dasharray="1.8,0.5"/>
<line x1="311.5" y1="552.4" x2="317.5" y2="552.5" stroke="#8c8c8c" stroke-width="0.8" stroke-dasharray="1.8,0.5"/>
<polygon points="286,488.3 542.6,502.4 542.6,511 286,498.3" fill="#e4e4e4"/>
<polygon points="286,494.2 542.6,507.3 542.6,511 286,498.3" fill="#f4f4f4"/>
<circle cx="288.2" cy="490.6" r="0.9" fill="#e0443e"/><circle cx="290.5" cy="490.7" r="0.9" fill="#e6a227"/><circle cx="292.8" cy="490.8" r="0.9" fill="#4eb83a"/>
<line x1="300" y1="495.6" x2="337" y2="497.4" stroke="#333" stroke-width="0.9"/>
<line x1="300" y1="495.5" x2="305" y2="495.8" stroke="#4eb83a" stroke-width="0.9"/>
<line x1="288" y1="495.2" x2="295" y2="495.5" stroke="#999" stroke-width="0.7"/>
<polygon points="450.3,506.6 542.6,511 542.6,571 450.3,565.9" fill="#0c0c0c"/>
<defs><clipPath id="vidClip"><polygon points="455.1,513.5 539.3,515.5 539.3,563.4 455.1,559.3"/></clipPath></defs>
<g clip-path="url(#vidClip)">
<rect x="455" y="512" width="85" height="52" fill="#66583f"/>
<polygon points="455,512 495,512 500,522 497,535 491,545 455,543" fill="#55502f"/>
<ellipse cx="472.64" cy="528.67" rx="1.16" ry="0.96" fill="#8a7a40" opacity="0.7"/>
<ellipse cx="477.91" cy="518.17" rx="1.17" ry="1.05" fill="#2e2e22" opacity="0.7"/>
<ellipse cx="462.26" cy="525.5" rx="0.71" ry="1.23" fill="#3a3826" opacity="0.7"/>
<ellipse cx="482.04" cy="514.17" rx="1.76" ry="1.09" fill="#7a7440" opacity="0.7"/>
<ellipse cx="479.01" cy="517.41" rx="1.6" ry="0.56" fill="#5c5634" opacity="0.7"/>
<ellipse cx="456.39" cy="537.63" rx="0.64" ry="0.92" fill="#2e2e22" opacity="0.7"/>
<ellipse cx="472.18" cy="536.59" rx="0.88" ry="0.76" fill="#2e2e22" opacity="0.7"/>
<ellipse cx="455.18" cy="515.38" rx="0.93" ry="1.4" fill="#6a5a3a" opacity="0.7"/>
<ellipse cx="493.83" cy="536.53" rx="0.9" ry="1.18" fill="#6a5a3a" opacity="0.7"/>
<ellipse cx="475" cy="513.83" rx="1.52" ry="0.86" fill="#2e2e22" opacity="0.7"/>
<ellipse cx="488.02" cy="523.82" rx="1.62" ry="0.5" fill="#5c5634" opacity="0.7"/>
<ellipse cx="463.18" cy="538.49" rx="1.05" ry="1.14" fill="#7a7440" opacity="0.7"/>
<ellipse cx="471.37" cy="528.85" rx="1.53" ry="0.74" fill="#3a3826" opacity="0.7"/>
<ellipse cx="458.4" cy="522.31" rx="1.51" ry="0.61" fill="#7a7440" opacity="0.7"/>
<ellipse cx="464.61" cy="515.83" rx="1.16" ry="0.94" fill="#5c5634" opacity="0.7"/>
<ellipse cx="481.6" cy="518.27" rx="0.83" ry="1.16" fill="#2e2e22" opacity="0.7"/>
<ellipse cx="460.11" cy="531.02" rx="1.07" ry="1.39" fill="#5c5634" opacity="0.7"/>
<ellipse cx="455.02" cy="537.2" rx="1.31" ry="1.4" fill="#8a7a40" opacity="0.7"/>
<ellipse cx="455.77" cy="518.24" rx="1.32" ry="1.02" fill="#8a7a40" opacity="0.7"/>
<ellipse cx="456.64" cy="517.1" rx="0.91" ry="1.2" fill="#7a7440" opacity="0.7"/>
<ellipse cx="467.83" cy="521.3" rx="0.69" ry="0.69" fill="#5c5634" opacity="0.7"/>
<ellipse cx="479.83" cy="513.43" rx="1.05" ry="0.91" fill="#6a6838" opacity="0.7"/>
<ellipse cx="492.41" cy="526.54" rx="0.76" ry="0.85" fill="#2e2e22" opacity="0.7"/>
<ellipse cx="479.46" cy="521.7" rx="1.58" ry="0.72" fill="#3a3826" opacity="0.7"/>
<ellipse cx="462.4" cy="533.7" rx="0.84" ry="1.36" fill="#2e2e22" opacity="0.7"/>
<ellipse cx="489.41" cy="529.9" rx="0.66" ry="0.6" fill="#7a7440" opacity="0.7"/>
<ellipse cx="474.98" cy="520.15" rx="1.45" ry="0.73" fill="#6a5a3a" opacity="0.7"/>
<ellipse cx="487.12" cy="529.7" rx="1.22" ry="1.34" fill="#6a6838" opacity="0.7"/>
<ellipse cx="493.11" cy="516.54" rx="1.27" ry="1.27" fill="#7a7440" opacity="0.7"/>
<ellipse cx="478.96" cy="520.85" rx="1.5" ry="0.56" fill="#3a3826" opacity="0.7"/>
<ellipse cx="471.05" cy="519.97" rx="0.81" ry="0.83" fill="#5c5634" opacity="0.7"/>
<ellipse cx="477.31" cy="516.68" rx="0.77" ry="0.91" fill="#6a6838" opacity="0.7"/>
<ellipse cx="467.91" cy="533.52" rx="1.3" ry="0.63" fill="#2e2e22" opacity="0.7"/>
<ellipse cx="456.37" cy="513.5" rx="1.44" ry="1.37" fill="#6a6838" opacity="0.7"/>
<ellipse cx="455.83" cy="530.81" rx="0.68" ry="0.78" fill="#7a7440" opacity="0.7"/>
<ellipse cx="460.33" cy="515.03" rx="1.26" ry="1.16" fill="#7a7440" opacity="0.7"/>
<ellipse cx="490.11" cy="533.64" rx="0.76" ry="1.37" fill="#6a5a3a" opacity="0.7"/>
<ellipse cx="468.32" cy="515.38" rx="1.68" ry="1.28" fill="#7a7440" opacity="0.7"/>
<ellipse cx="471.27" cy="535.13" rx="1.2" ry="0.51" fill="#8a7a40" opacity="0.7"/>
<ellipse cx="480.83" cy="523.62" rx="1.33" ry="0.57" fill="#5c5634" opacity="0.7"/>
<ellipse cx="479.94" cy="540.81" rx="1.47" ry="0.85" fill="#7a7440" opacity="0.7"/>
<ellipse cx="483.67" cy="529.27" rx="1.16" ry="0.99" fill="#7a7440" opacity="0.7"/>
<ellipse cx="475.23" cy="527.41" rx="1.32" ry="0.93" fill="#6a6838" opacity="0.7"/>
<ellipse cx="463.98" cy="532.55" rx="1.54" ry="1.09" fill="#7a7440" opacity="0.7"/>
<ellipse cx="473.97" cy="538.1" rx="0.96" ry="1.11" fill="#6a6838" opacity="0.7"/>
<ellipse cx="462.9" cy="517.75" rx="1.39" ry="0.9" fill="#6a6838" opacity="0.7"/>
<ellipse cx="489.78" cy="522.15" rx="0.9" ry="1.07" fill="#6a5a3a" opacity="0.7"/>
<ellipse cx="486.34" cy="534.13" rx="1.66" ry="0.85" fill="#3a3826" opacity="0.7"/>
<ellipse cx="477.74" cy="521.86" rx="0.76" ry="0.82" fill="#3a3826" opacity="0.7"/>
<ellipse cx="489.93" cy="514.14" rx="1.74" ry="0.75" fill="#5c5634" opacity="0.7"/>
<ellipse cx="461.6" cy="525.62" rx="1.71" ry="1.25" fill="#6a6838" opacity="0.7"/>
<ellipse cx="469.92" cy="527.56" rx="0.98" ry="1.26" fill="#6a5a3a" opacity="0.7"/>
<ellipse cx="493.3" cy="525.67" rx="1.59" ry="0.75" fill="#5c5634" opacity="0.7"/>
<ellipse cx="478.69" cy="531.99" rx="1.28" ry="0.78" fill="#6a6838" opacity="0.7"/>
<ellipse cx="485.87" cy="513.54" rx="1.09" ry="0.67" fill="#3a3826" opacity="0.7"/>
<ellipse cx="485" cy="520.46" rx="0.77" ry="0.54" fill="#8a7a40" opacity="0.7"/>
<ellipse cx="479.54" cy="525.5" rx="1.24" ry="1.08" fill="#6a5a3a" opacity="0.7"/>
<ellipse cx="469.38" cy="515.18" rx="0.84" ry="0.93" fill="#3a3826" opacity="0.7"/>
<ellipse cx="461.97" cy="513.3" rx="1.24" ry="0.53" fill="#7a7440" opacity="0.7"/>
<ellipse cx="463.83" cy="534.8" rx="1.44" ry="0.97" fill="#2e2e22" opacity="0.7"/>
<ellipse cx="478.96" cy="534.17" rx="1.62" ry="1.13" fill="#7a7440" opacity="0.7"/>
<ellipse cx="463.73" cy="524.49" rx="1.07" ry="0.91" fill="#6a5a3a" opacity="0.7"/>
<ellipse cx="462.68" cy="537.85" rx="1.05" ry="1.01" fill="#5c5634" opacity="0.7"/>
<ellipse cx="489.29" cy="535.31" rx="1.16" ry="1.09" fill="#6a6838" opacity="0.7"/>
<ellipse cx="462.99" cy="533.21" rx="1.56" ry="1.33" fill="#8a7a40" opacity="0.7"/>
<ellipse cx="459.82" cy="519.78" rx="1.78" ry="1.38" fill="#7a7440" opacity="0.7"/>
<ellipse cx="475.94" cy="535.14" rx="0.91" ry="1.15" fill="#6a6838" opacity="0.7"/>
<ellipse cx="455.61" cy="527.13" rx="1.13" ry="1" fill="#5c5634" opacity="0.7"/>
<ellipse cx="484.96" cy="526.65" rx="0.86" ry="1.28" fill="#5c5634" opacity="0.7"/>
<ellipse cx="471.73" cy="513.98" rx="1" ry="1.21" fill="#2e2e22" opacity="0.7"/>
<polygon points="494,512 540,512 540,522 530,520.5 510,519.5 497,521.5" fill="#8c7452"/>
<polygon points="496,521.5 512,520.5 530,521 540,523 540,546 498,545.5 493,535" fill="#3e3832"/>
<polygon points="455,541.2 514,542 514,548.8 455,548.6" fill="#c6b6a6"/>
<rect x="463.87" y="542.39" width="3.55" height="1.2" fill="#6a6040" opacity="0.6"/>
<rect x="485.02" y="545.57" width="3.32" height="1.2" fill="#e0d4c8" opacity="0.6"/>
<rect x="488.42" y="545.63" width="4.27" height="1.2" fill="#e0d4c8" opacity="0.6"/>
<rect x="485.49" y="543.24" width="4.19" height="1.2" fill="#6a6040" opacity="0.6"/>
<rect x="465.2" y="544.59" width="4.72" height="1.2" fill="#e0d4c8" opacity="0.6"/>
<rect x="473.46" y="543.79" width="4.54" height="1.2" fill="#6a6040" opacity="0.6"/>
<rect x="467.66" y="546.6" width="4.91" height="1.2" fill="#6a6040" opacity="0.6"/>
<rect x="471.29" y="544.49" width="3.23" height="1.2" fill="#8a7a6a" opacity="0.6"/>
<polygon points="514,542 540,542.5 540,549 514,548.8" fill="#4c4540"/>
<rect x="516" y="544.5" width="1.6" height="2.4" fill="#8a8078"/>
<rect x="519.4" y="544.5" width="1.6" height="2.4" fill="#8a8078"/>
<rect x="522.8" y="544.5" width="1.6" height="2.4" fill="#8a8078"/>
<rect x="526.2" y="544.5" width="1.6" height="2.4" fill="#8a8078"/>
<rect x="529.6" y="544.5" width="1.6" height="2.4" fill="#8a8078"/>
<rect x="533" y="544.5" width="1.6" height="2.4" fill="#8a8078"/>
<rect x="536.4" y="544.5" width="1.6" height="2.4" fill="#8a8078"/>
<polygon points="455,548.6 540,549 540,559 455,558.8" fill="#978068"/>
<polygon points="455,558.6 533.5,559.2 537,563.6 455,562" fill="#2a2826"/>
<polygon points="533.5,559 540,559 540,564 537,564" fill="#8a7660"/>
<rect x="498.9" y="527" width="32.5" height="11.8" rx="4" fill="#efeadc"/>
<rect x="503.5" y="527.5" width="3.8" height="10.8" fill="#3a3a3a"/>
<rect x="519.5" y="527.5" width="3.5" height="10.8" fill="#3a3a3a"/>
<rect x="514" y="537" width="4" height="11" fill="#ddd6c8"/>
</g>
<line x1="453.8" y1="509.6" x2="466" y2="509.6" stroke="#d8d8d8" stroke-width="0.7" stroke-dasharray="2.5,0.6"/>
<line x1="453.8" y1="512" x2="466" y2="512" stroke="#d8d8d8" stroke-width="0.7" stroke-dasharray="2.5,0.6"/>
<line x1="453.8" y1="514.4" x2="463" y2="514.4" stroke="#d8d8d8" stroke-width="0.7" stroke-dasharray="2.5,0.6"/>
<line x1="453.8" y1="516.8" x2="461" y2="516.8" stroke="#d8d8d8" stroke-width="0.7" stroke-dasharray="2.5,0.6"/>
<line x1="514" y1="513.5" x2="538.5" y2="514" stroke="#cfcfcf" stroke-width="0.7" stroke-dasharray="3,0.8"/>
<line x1="527" y1="516.6" x2="539" y2="516.9" stroke="#f0f0f0" stroke-width="1.3"/>
<line x1="527" y1="518.9" x2="539" y2="519.2" stroke="#e8e8e8" stroke-width="1.1"/>
<line x1="477" y1="563.6" x2="538" y2="565.6" stroke="#d0d0d0" stroke-width="0.7" stroke-dasharray="4,0.8"/>
<line x1="477" y1="565.9" x2="520" y2="567.3" stroke="#d0d0d0" stroke-width="0.7" stroke-dasharray="4,0.8"/>
<line x1="530" y1="568.8" x2="538.5" y2="569.1" stroke="#d0d0d0" stroke-width="0.7"/>
<polygon points="531.3,644.6 540.3,645.3 540.3,678.2 531.3,677.6" fill="#1e2a33"/>
<circle cx="535.8" cy="649.5" r="1.5" fill="none" stroke="#aab" stroke-width="0.6"/>
<circle cx="535.8" cy="656.5" r="1.5" fill="none" stroke="#aab" stroke-width="0.6"/>
<circle cx="535.8" cy="663.5" r="1.5" fill="none" stroke="#aab" stroke-width="0.6"/>
<rect x="534" y="672.5" width="3.6" height="1.5" fill="#aab"/>
<polygon points="441.6,591.3 467.4,592.8 475.2,616.7 453.6,630.7 435.2,606" fill="none" stroke="#30dc2c" stroke-width="1.2"/>
<circle cx="441.6" cy="591.3" r="2.6" fill="#22d422"/>
<circle cx="467.4" cy="592.8" r="2.6" fill="#22d422"/>
<circle cx="475.2" cy="616.7" r="2.6" fill="#22d422"/>
<circle cx="453.6" cy="630.7" r="2.6" fill="#22d422"/>
<defs><linearGradient id="gOr" x1="1" y1="0" x2="0" y2="0"><stop offset="0" stop-color="#f3ad35"/><stop offset="0.5" stop-color="#f6c56e" stop-opacity="0.8"/><stop offset="1" stop-color="#fbe3b8" stop-opacity="0"/></linearGradient></defs>
<polygon points="409,608.8 422.5,615 411.5,624" fill="url(#gOr)"/>
<use href="#qicon" transform="translate(352.8,552.4)"/>
<use href="#qicon" transform="translate(372.3,633.5) rotate(45)"/>
<use href="#qicon" transform="translate(432.2,614.2) rotate(35)"/>
</g>
<path d="M650.1,530 Q650.1,523.1 657,523.3 L712.5,525.3 Q719.4,525.5 719.4,532.4 L719.4,635.8 Q719.4,640.4 714.8,640.3 L654.5,637.7 Q650.1,637.5 650.1,633 Z" fill="#333"/>
<polygon points="653.5,527.2 716,529.4 716,619 653.5,616.1" fill="#f2f2f2"/>
<defs><clipPath id="phClip"><polygon points="653.5,527.2 716,529.4 716,619 653.5,616.1"/></clipPath></defs>
<g clip-path="url(#phClip)">
<polyline points="695.9,534.2 693.4,549.5 688.3,566.1 686.3,581.4 685.1,595.4 684.4,618" fill="none" stroke="#fcfcfc" stroke-width="1.3" stroke-linejoin="round"/>
<polyline points="653.8,559.7 670.4,566.1 688.3,567.4 716.3,568.6" fill="none" stroke="#fcfcfc" stroke-width="1.3" stroke-linejoin="round"/>
<polyline points="698.5,535.5 703.6,555.9 708.7,575 716.3,590.3" fill="none" stroke="#fcfcfc" stroke-width="1.3" stroke-linejoin="round"/>
<polyline points="662.8,567.4 669.1,575 675.5,581.4 679.3,594.1 681.9,618" fill="none" stroke="#fcfcfc" stroke-width="1.3" stroke-linejoin="round"/>
<polyline points="653.8,577.6 665.3,576.3" fill="none" stroke="#fcfcfc" stroke-width="1.3" stroke-linejoin="round"/>
<polyline points="685.7,595.4 701,599.2 716.3,605.6" fill="none" stroke="#fcfcfc" stroke-width="1.3" stroke-linejoin="round"/>
<polyline points="665.3,536.8 680.6,549.5" fill="none" stroke="#fcfcfc" stroke-width="1.3" stroke-linejoin="round"/>
<polyline points="707.4,534.2 716.3,539.3" fill="none" stroke="#fcfcfc" stroke-width="1.3" stroke-linejoin="round"/>
<polyline points="653.5,600 668,603 681.9,604" fill="none" stroke="#fcfcfc" stroke-width="1.3" stroke-linejoin="round"/>
<polygon points="653.8,562.3 660.2,563 660.2,569.9 653.8,569" fill="#e2e2e2"/>
<polygon points="680.6,552 690.8,552.5 690.8,561 680.6,560.5" fill="#ebebeb"/>
<polygon points="670.4,607.5 674.2,606.9 674.2,610.7 670.4,610.7" fill="#cfcfcf"/>
<polygon points="704,590 709,590 709,594 704,594" fill="#e6e6e6"/>
<polygon points="688,610 696,610 696,616 688,616" fill="#e8e8e8"/>
<circle cx="683" cy="580" r="0.9" fill="#c8c8c8"/>
<polyline points="664,555.9 675,561 685.7,567.4" fill="none" stroke="#c8c8c8" stroke-width="0.4"/>
<polygon points="653.5,527.2 716,529.4 716,532.3 653.5,530.2" fill="#fafafa"/>
<line x1="660.2" y1="530.7" x2="677.1" y2="531.3" stroke="#333" stroke-width="0.8"/>
<line x1="660.2" y1="530.7" x2="664" y2="530.8" stroke="#4eb83a" stroke-width="0.8"/>
<polygon points="694.6,582 702.3,585.2 695.9,589.7" fill="url(#gOr)"/>
<use href="#qicon" transform="translate(662.1,549.5) scale(0.62)"/>
<use href="#qicon" transform="translate(707.4,584.6) rotate(45) scale(0.62)"/>
<use href="#qicon" transform="translate(673.6,596) rotate(45) scale(0.62)"/>
</g>
<circle cx="682.5" cy="630" r="6.3" fill="#fff" stroke="#ddd" stroke-width="0.6"/>
<use href="#drone" transform="translate(904.8,63.4) rotate(0) scale(1)"/>
<use href="#drone" transform="translate(276.6,58.7) rotate(-6) scale(0.93)"/>
<use href="#drone" transform="translate(629,19.2) rotate(0) scale(0.63)"/>
</svg></body></html>
